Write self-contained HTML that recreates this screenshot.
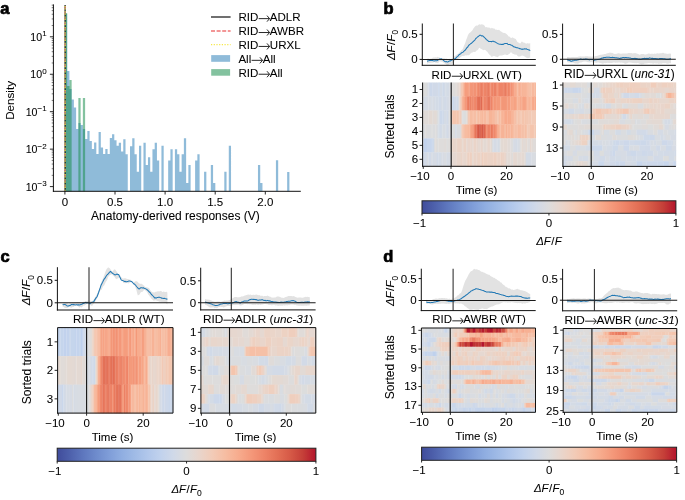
<!DOCTYPE html>
<html><head><meta charset="utf-8"><style>
html,body{margin:0;padding:0;background:#fff;width:685px;height:500px;overflow:hidden}
svg{display:block;filter:blur(0.4px)}
text{font-family:"Liberation Sans", sans-serif;stroke:#000;stroke-width:0.06px}
</style></head><body>
<svg width="685" height="500" viewBox="0 0 685 500" font-family='"Liberation Sans", sans-serif'>
<rect width="685" height="500" fill="#fff"/>
<text x="0.30" y="14.40" font-size="16.5" text-anchor="start" font-weight="bold" font-style="normal" fill="#000" style="stroke:#000;stroke-width:0.7px">a</text>
<text x="383.40" y="14.00" font-size="16.5" text-anchor="start" font-weight="bold" font-style="normal" fill="#000" style="stroke:#000;stroke-width:0.7px">b</text>
<text x="0.40" y="262.30" font-size="16.5" text-anchor="start" font-weight="bold" font-style="normal" fill="#000" style="stroke:#000;stroke-width:0.7px">c</text>
<text x="383.20" y="262.10" font-size="16.5" text-anchor="start" font-weight="bold" font-style="normal" fill="#000" style="stroke:#000;stroke-width:0.7px">d</text>
<path d="M64.90,191.30V14.00H67.15V71.00H69.39V89.00H71.64V99.60H73.88V107.40H76.12V129.00H78.37V123.00H80.62V125.00H82.86V129.00H85.11V139.00H87.35V131.00H89.59V141.00H91.84V149.00H94.09V142.40H96.33V154.00H98.58V132.00H100.82V147.40H103.06V154.00H105.31V149.00H107.56V154.00H109.80V138.00H112.05V134.20H114.29V140.20H116.54V145.80H118.78V142.80H121.03V151.50H123.27V139.20H125.52V154.20H127.76V191.30ZM130.00,191.30V146.20H132.25V138.30H134.50V154.20H136.74V171.70H138.99V145.80H141.23V191.30ZM143.48,191.30V142.80H145.72V165.00H147.97V157.20H150.21V171.70H152.46V149.20H154.70V142.80H156.94V160.50H159.19V191.30ZM161.44,191.30V145.80H163.68V191.30ZM168.17,191.30V160.50H170.42V149.20H172.66V191.30ZM174.91,191.30V149.20H177.15V154.20H179.40V171.70H181.64V154.20H183.88V138.30H186.13V183.00H188.38V165.00H190.62V191.30ZM195.11,191.30V160.50H197.36V154.20H199.60V191.30ZM204.09,191.30V171.70H206.34V191.30ZM210.83,191.30V165.00H213.07V183.00H215.32V191.30ZM224.30,191.30V171.70H226.54V191.30ZM228.79,191.30V145.80H231.03V191.30ZM257.97,191.30V165.00H260.22V183.00H262.46V191.30ZM275.93,191.30V160.20H278.18V191.30ZM287.16,191.30V171.90H289.40V191.30Z" fill="#1f77b4" fill-opacity="0.5"/>
<path d="M64.90,191.30V13.00H67.15V86.00H69.39V80.00H71.64V191.30ZM78.37,191.30V98.00H80.62V191.30ZM82.86,191.30V98.00H85.11V191.30Z" fill="#1e8f50" fill-opacity="0.55"/>
<line x1="65.10" y1="5.00" x2="65.10" y2="191.30" stroke="#222" stroke-width="1.3"/>
<line x1="65.10" y1="5.00" x2="65.10" y2="191.30" stroke="#f08080" stroke-width="1.3" stroke-dasharray="1.3,3.95" stroke-dashoffset="-2.0"/>
<line x1="65.10" y1="5.00" x2="65.10" y2="191.30" stroke="#f0e14a" stroke-width="1.3" stroke-dasharray="1.1,1.3,1.1,1.75" stroke-dashoffset="-0.9"/>
<line x1="53.40" y1="4.40" x2="53.40" y2="191.80" stroke="#111" stroke-width="1.0"/>
<line x1="52.90" y1="191.30" x2="300.80" y2="191.30" stroke="#111" stroke-width="1.0"/>
<line x1="49.90" y1="186.60" x2="53.40" y2="186.60" stroke="#111" stroke-width="0.9"/>
<text x="46.6" y="190.50" font-size="10.6" text-anchor="end">10<tspan dy="-4.3" font-size="8">−3</tspan></text>
<line x1="51.70" y1="175.33" x2="53.40" y2="175.33" stroke="#111" stroke-width="0.55"/>
<line x1="51.70" y1="168.73" x2="53.40" y2="168.73" stroke="#111" stroke-width="0.55"/>
<line x1="51.70" y1="164.05" x2="53.40" y2="164.05" stroke="#111" stroke-width="0.55"/>
<line x1="51.70" y1="160.42" x2="53.40" y2="160.42" stroke="#111" stroke-width="0.55"/>
<line x1="51.70" y1="157.46" x2="53.40" y2="157.46" stroke="#111" stroke-width="0.55"/>
<line x1="51.70" y1="154.95" x2="53.40" y2="154.95" stroke="#111" stroke-width="0.55"/>
<line x1="51.70" y1="152.78" x2="53.40" y2="152.78" stroke="#111" stroke-width="0.55"/>
<line x1="51.70" y1="150.86" x2="53.40" y2="150.86" stroke="#111" stroke-width="0.55"/>
<line x1="49.90" y1="149.15" x2="53.40" y2="149.15" stroke="#111" stroke-width="0.9"/>
<text x="46.6" y="153.05" font-size="10.6" text-anchor="end">10<tspan dy="-4.3" font-size="8">−2</tspan></text>
<line x1="51.70" y1="137.88" x2="53.40" y2="137.88" stroke="#111" stroke-width="0.55"/>
<line x1="51.70" y1="131.28" x2="53.40" y2="131.28" stroke="#111" stroke-width="0.55"/>
<line x1="51.70" y1="126.60" x2="53.40" y2="126.60" stroke="#111" stroke-width="0.55"/>
<line x1="51.70" y1="122.97" x2="53.40" y2="122.97" stroke="#111" stroke-width="0.55"/>
<line x1="51.70" y1="120.01" x2="53.40" y2="120.01" stroke="#111" stroke-width="0.55"/>
<line x1="51.70" y1="117.50" x2="53.40" y2="117.50" stroke="#111" stroke-width="0.55"/>
<line x1="51.70" y1="115.33" x2="53.40" y2="115.33" stroke="#111" stroke-width="0.55"/>
<line x1="51.70" y1="113.41" x2="53.40" y2="113.41" stroke="#111" stroke-width="0.55"/>
<line x1="49.90" y1="111.70" x2="53.40" y2="111.70" stroke="#111" stroke-width="0.9"/>
<text x="46.6" y="115.60" font-size="10.6" text-anchor="end">10<tspan dy="-4.3" font-size="8">−1</tspan></text>
<line x1="51.70" y1="100.43" x2="53.40" y2="100.43" stroke="#111" stroke-width="0.55"/>
<line x1="51.70" y1="93.83" x2="53.40" y2="93.83" stroke="#111" stroke-width="0.55"/>
<line x1="51.70" y1="89.15" x2="53.40" y2="89.15" stroke="#111" stroke-width="0.55"/>
<line x1="51.70" y1="85.52" x2="53.40" y2="85.52" stroke="#111" stroke-width="0.55"/>
<line x1="51.70" y1="82.56" x2="53.40" y2="82.56" stroke="#111" stroke-width="0.55"/>
<line x1="51.70" y1="80.05" x2="53.40" y2="80.05" stroke="#111" stroke-width="0.55"/>
<line x1="51.70" y1="77.88" x2="53.40" y2="77.88" stroke="#111" stroke-width="0.55"/>
<line x1="51.70" y1="75.96" x2="53.40" y2="75.96" stroke="#111" stroke-width="0.55"/>
<line x1="49.90" y1="74.25" x2="53.40" y2="74.25" stroke="#111" stroke-width="0.9"/>
<text x="46.6" y="78.15" font-size="10.6" text-anchor="end">10<tspan dy="-4.3" font-size="8">0</tspan></text>
<line x1="51.70" y1="62.98" x2="53.40" y2="62.98" stroke="#111" stroke-width="0.55"/>
<line x1="51.70" y1="56.38" x2="53.40" y2="56.38" stroke="#111" stroke-width="0.55"/>
<line x1="51.70" y1="51.70" x2="53.40" y2="51.70" stroke="#111" stroke-width="0.55"/>
<line x1="51.70" y1="48.07" x2="53.40" y2="48.07" stroke="#111" stroke-width="0.55"/>
<line x1="51.70" y1="45.11" x2="53.40" y2="45.11" stroke="#111" stroke-width="0.55"/>
<line x1="51.70" y1="42.60" x2="53.40" y2="42.60" stroke="#111" stroke-width="0.55"/>
<line x1="51.70" y1="40.43" x2="53.40" y2="40.43" stroke="#111" stroke-width="0.55"/>
<line x1="51.70" y1="38.51" x2="53.40" y2="38.51" stroke="#111" stroke-width="0.55"/>
<line x1="49.90" y1="36.80" x2="53.40" y2="36.80" stroke="#111" stroke-width="0.9"/>
<text x="46.6" y="40.70" font-size="10.6" text-anchor="end">10<tspan dy="-4.3" font-size="8">1</tspan></text>
<line x1="51.70" y1="25.53" x2="53.40" y2="25.53" stroke="#111" stroke-width="0.55"/>
<line x1="51.70" y1="18.93" x2="53.40" y2="18.93" stroke="#111" stroke-width="0.55"/>
<line x1="51.70" y1="14.25" x2="53.40" y2="14.25" stroke="#111" stroke-width="0.55"/>
<line x1="51.70" y1="10.62" x2="53.40" y2="10.62" stroke="#111" stroke-width="0.55"/>
<line x1="51.70" y1="7.66" x2="53.40" y2="7.66" stroke="#111" stroke-width="0.55"/>
<line x1="51.70" y1="5.15" x2="53.40" y2="5.15" stroke="#111" stroke-width="0.55"/>
<line x1="64.90" y1="191.30" x2="64.90" y2="194.50" stroke="#111" stroke-width="0.9"/>
<text x="64.90" y="205.60" font-size="11.5" text-anchor="middle" font-weight="normal" font-style="normal" fill="#000">0</text>
<line x1="115.00" y1="191.30" x2="115.00" y2="194.50" stroke="#111" stroke-width="0.9"/>
<text x="115.00" y="205.60" font-size="11.5" text-anchor="middle" font-weight="normal" font-style="normal" fill="#000">0.5</text>
<line x1="165.10" y1="191.30" x2="165.10" y2="194.50" stroke="#111" stroke-width="0.9"/>
<text x="165.10" y="205.60" font-size="11.5" text-anchor="middle" font-weight="normal" font-style="normal" fill="#000">1.0</text>
<line x1="215.20" y1="191.30" x2="215.20" y2="194.50" stroke="#111" stroke-width="0.9"/>
<text x="215.20" y="205.60" font-size="11.5" text-anchor="middle" font-weight="normal" font-style="normal" fill="#000">1.5</text>
<line x1="265.30" y1="191.30" x2="265.30" y2="194.50" stroke="#111" stroke-width="0.9"/>
<text x="265.30" y="205.60" font-size="11.5" text-anchor="middle" font-weight="normal" font-style="normal" fill="#000">2.0</text>
<text x="175.45" y="219.90" font-size="12.0" text-anchor="middle" font-weight="normal" font-style="normal" fill="#000">Anatomy-derived responses (V)</text>
<text x="13.90" y="100.40" font-size="11.65" text-anchor="middle" font-weight="normal" font-style="normal" fill="#000" transform="rotate(-90 13.9 100.4)">Density</text>
<line x1="211.00" y1="17.00" x2="230.60" y2="17.00" stroke="#333" stroke-width="1.4"/>
<line x1="211.00" y1="31.00" x2="230.60" y2="31.00" stroke="#f07474" stroke-width="1.4" stroke-dasharray="4,1.6"/>
<line x1="211.00" y1="44.60" x2="230.60" y2="44.60" stroke="#f6e84a" stroke-width="1.3" stroke-dasharray="1.2,1.5"/>
<rect x="211.2" y="55.10" width="18.9" height="6.70" fill="#1f77b4" fill-opacity="0.5"/>
<rect x="211.2" y="69.10" width="18.9" height="6.60" fill="#1e8f50" fill-opacity="0.55"/>
<text x="238.40" y="21.00" font-size="11.55">RID<tspan dx="11.55">ADLR</tspan></text>
<path d="M258.64,18.63H269.54M267.00,15.63L269.54,18.63L267.00,21.64" fill="none" stroke="#000" stroke-width="0.85" stroke-linejoin="miter"/>
<text x="238.40" y="34.90" font-size="11.55">RID<tspan dx="11.55">AWBR</tspan></text>
<path d="M258.64,32.53H269.54M267.00,29.53L269.54,32.53L267.00,35.54" fill="none" stroke="#000" stroke-width="0.85" stroke-linejoin="miter"/>
<text x="238.40" y="48.80" font-size="11.55">RID<tspan dx="11.55">URXL</tspan></text>
<path d="M258.64,46.43H269.54M267.00,43.43L269.54,46.43L267.00,49.44" fill="none" stroke="#000" stroke-width="0.85" stroke-linejoin="miter"/>
<text x="238.40" y="62.70" font-size="11.55">All<tspan dx="11.55">All</tspan></text>
<path d="M251.59,60.33H262.49M259.94,57.33L262.49,60.33L259.94,63.34" fill="none" stroke="#000" stroke-width="0.85" stroke-linejoin="miter"/>
<text x="238.40" y="76.60" font-size="11.55">RID<tspan dx="11.55">All</tspan></text>
<path d="M258.64,74.23H269.54M267.00,71.23L269.54,74.23L267.00,77.24" fill="none" stroke="#000" stroke-width="0.85" stroke-linejoin="miter"/>
<polygon points="427.0,59.0 427.8,58.4 428.6,58.6 429.4,59.1 430.2,58.7 431.0,58.4 431.8,58.6 432.6,57.7 433.4,57.5 434.2,57.4 435.0,57.5 435.8,57.3 436.6,57.4 437.4,56.7 438.2,57.3 439.0,57.3 439.8,57.8 440.6,58.2 441.4,58.5 442.2,58.3 443.0,58.3 443.8,58.2 444.6,58.3 445.4,58.7 446.2,58.5 447.0,58.7 447.8,59.4 448.6,59.2 449.4,58.7 450.2,59.1 451.0,59.6 451.8,58.4 452.6,58.1 453.4,57.7 454.2,56.6 455.0,55.7 455.8,55.4 456.6,54.8 457.4,54.0 458.2,54.0 459.0,52.9 459.8,52.2 460.6,51.1 461.4,50.3 462.2,49.8 463.0,48.4 463.8,46.3 464.6,44.5 465.4,42.5 466.2,39.7 467.0,37.9 467.8,35.5 468.6,33.9 469.4,33.1 470.2,32.6 471.0,31.7 471.8,30.9 472.6,29.9 473.4,28.5 474.2,27.4 475.0,26.6 475.8,25.7 476.6,25.6 477.4,25.7 478.2,25.1 479.0,24.6 479.8,24.3 480.6,24.7 481.4,24.2 482.2,24.4 483.0,24.4 483.8,25.0 484.6,25.7 485.4,27.2 486.2,27.2 487.0,27.1 487.8,27.7 488.6,27.4 489.4,27.4 490.2,28.2 491.0,28.4 491.8,27.7 492.6,28.3 493.4,28.5 494.2,28.4 495.0,29.1 495.8,29.9 496.6,29.6 497.4,29.9 498.2,30.0 499.0,29.8 499.8,30.5 500.6,31.3 501.4,31.8 502.2,32.1 503.0,32.9 503.8,32.8 504.6,32.9 505.4,33.3 506.2,33.7 507.0,34.4 507.8,35.3 508.6,36.6 509.4,36.5 510.2,37.4 511.0,37.7 511.8,37.9 512.6,37.3 513.4,37.9 514.2,38.3 515.0,38.7 515.8,39.1 516.6,40.4 517.4,41.9 518.2,42.6 519.0,42.8 519.8,43.5 520.6,43.2 521.4,41.7 522.2,41.4 523.0,42.4 523.8,42.6 524.6,42.7 525.4,43.3 526.2,43.7 527.0,43.3 527.8,43.2 528.6,43.4 529.4,43.6 530.2,43.1 530.2,57.6 529.4,57.8 528.6,58.0 527.8,58.3 527.0,57.7 526.2,57.8 525.4,57.0 524.6,56.4 523.8,55.9 523.0,55.8 522.2,55.4 521.4,55.7 520.6,56.3 519.8,56.4 519.0,56.4 518.2,56.4 517.4,55.7 516.6,54.7 515.8,54.5 515.0,54.7 514.2,54.2 513.4,53.9 512.6,53.8 511.8,52.8 511.0,52.3 510.2,52.7 509.4,54.0 508.6,54.2 507.8,54.9 507.0,55.1 506.2,55.1 505.4,54.5 504.6,54.6 503.8,54.9 503.0,55.0 502.2,55.4 501.4,55.6 500.6,55.5 499.8,55.5 499.0,56.1 498.2,56.8 497.4,57.2 496.6,56.8 495.8,56.7 495.0,56.2 494.2,56.1 493.4,56.1 492.6,56.4 491.8,56.7 491.0,56.6 490.2,55.1 489.4,54.8 488.6,53.8 487.8,52.4 487.0,51.6 486.2,51.0 485.4,50.0 484.6,49.7 483.8,50.3 483.0,49.9 482.2,49.4 481.4,49.0 480.6,48.7 479.8,47.8 479.0,48.1 478.2,49.5 477.4,50.3 476.6,50.5 475.8,51.6 475.0,51.9 474.2,51.9 473.4,51.7 472.6,52.4 471.8,52.6 471.0,53.2 470.2,53.7 469.4,54.9 468.6,55.3 467.8,55.3 467.0,55.3 466.2,55.4 465.4,55.3 464.6,55.8 463.8,56.0 463.0,55.9 462.2,56.1 461.4,56.6 460.6,57.0 459.8,57.7 459.0,58.3 458.2,58.7 457.4,59.0 456.6,59.1 455.8,59.7 455.0,60.6 454.2,61.4 453.4,62.9 452.6,63.4 451.8,64.0 451.0,63.7 450.2,64.2 449.4,63.9 448.6,64.9 447.8,65.5 447.0,65.3 446.2,64.5 445.4,63.8 444.6,63.4 443.8,62.7 443.0,62.6 442.2,61.5 441.4,61.7 440.6,61.6 439.8,61.3 439.0,61.8 438.2,63.3 437.4,62.9 436.6,62.7 435.8,63.0 435.0,62.2 434.2,62.1 433.4,62.5 432.6,62.7 431.8,62.4 431.0,62.9 430.2,62.8 429.4,63.2 428.6,63.1 427.8,63.5 427.0,63.4" fill="#e2e2e2" stroke="none"/>
<polyline points="427.0,61.2 427.8,60.9 428.6,60.8 429.4,60.5 430.2,60.3 431.0,60.6 431.8,60.5 432.6,60.4 433.4,60.7 434.2,60.9 435.0,60.8 435.8,60.8 436.6,60.8 437.4,60.5 438.2,59.9 439.0,59.5 439.8,59.0 440.6,58.9 441.4,58.8 442.2,59.5 443.0,59.8 443.8,60.7 444.6,61.4 445.4,61.8 446.2,61.5 447.0,61.9 447.8,61.9 448.6,61.6 449.4,60.9 450.2,61.0 451.0,60.5 451.8,59.9 452.6,59.7 453.4,59.5 454.2,59.2 455.0,58.8 455.8,58.1 456.6,57.1 457.4,56.6 458.2,55.9 459.0,54.8 459.8,54.3 460.6,53.9 461.4,52.9 462.2,52.5 463.0,52.1 463.8,51.3 464.6,50.5 465.4,50.0 466.2,48.7 467.0,47.7 467.8,47.0 468.6,45.6 469.4,44.6 470.2,44.1 471.0,43.5 471.8,43.0 472.6,42.2 473.4,41.4 474.2,40.6 475.0,39.8 475.8,38.5 476.6,37.8 477.4,37.0 478.2,36.5 479.0,35.9 479.8,35.2 480.6,35.2 481.4,35.9 482.2,35.8 483.0,36.0 483.8,36.8 484.6,37.7 485.4,38.3 486.2,39.3 487.0,40.0 487.8,40.6 488.6,41.4 489.4,41.6 490.2,41.5 491.0,41.6 491.8,41.6 492.6,41.2 493.4,41.3 494.2,41.7 495.0,41.8 495.8,42.4 496.6,42.8 497.4,43.4 498.2,43.8 499.0,44.1 499.8,44.2 500.6,44.2 501.4,44.5 502.2,44.2 503.0,44.5 503.8,44.0 504.6,43.6 505.4,43.4 506.2,43.5 507.0,43.4 507.8,44.2 508.6,44.5 509.4,44.4 510.2,44.6 511.0,45.2 511.8,45.2 512.6,45.8 513.4,46.5 514.2,47.0 515.0,47.1 515.8,47.4 516.6,47.8 517.4,47.8 518.2,48.1 519.0,48.3 519.8,48.7 520.6,48.8 521.4,49.2 522.2,49.1 523.0,49.4 523.8,48.9 524.6,48.8 525.4,49.0 526.2,48.8 527.0,49.2 527.8,49.4 528.6,49.9 529.4,50.0 530.2,50.6" fill="none" stroke="#1f77b4" stroke-width="1.05" stroke-linejoin="round"/>
<line x1="422.30" y1="59.40" x2="535.80" y2="59.40" stroke="#1a1a1a" stroke-width="1.05"/>
<line x1="453.40" y1="23.50" x2="453.40" y2="65.30" stroke="#2a2a2a" stroke-width="1.05"/>
<line x1="422.30" y1="23.50" x2="422.30" y2="65.80" stroke="#111" stroke-width="1.0"/>
<line x1="421.80" y1="65.30" x2="535.80" y2="65.30" stroke="#111" stroke-width="1.0"/>
<line x1="419.60" y1="59.40" x2="422.30" y2="59.40" stroke="#111" stroke-width="1.0"/>
<text x="417.70" y="63.30" font-size="11.5" text-anchor="end" font-weight="normal" font-style="normal" fill="#000">0</text>
<line x1="419.60" y1="34.30" x2="422.30" y2="34.30" stroke="#111" stroke-width="1.0"/>
<text x="417.70" y="38.20" font-size="11.5" text-anchor="end" font-weight="normal" font-style="normal" fill="#000">0.5</text>
<text x="431.60" y="78.60" font-size="11.5">RID<tspan dx="11.50">URXL (WT)</tspan></text>
<path d="M451.75,76.24H462.60M460.07,73.25L462.60,76.24L460.07,79.23" fill="none" stroke="#000" stroke-width="0.85" stroke-linejoin="miter"/>
<text x="394.60" y="45.00" font-size="11.4" text-anchor="middle" transform="rotate(-90 394.60 45.00)"><tspan font-style="italic">ΔF</tspan><tspan dx="0.5">/</tspan><tspan font-style="italic" dx="0.3">F</tspan><tspan font-size="8.2" dy="3.6">0</tspan></text>
<polygon points="567.0,56.9 567.8,57.0 568.6,57.0 569.4,57.2 570.2,57.2 571.0,57.3 571.8,57.1 572.6,57.1 573.4,57.0 574.2,57.1 575.0,57.3 575.8,57.1 576.6,57.1 577.4,56.9 578.2,56.7 579.0,56.6 579.8,56.4 580.6,56.3 581.4,56.5 582.2,56.5 583.0,56.4 583.8,56.6 584.6,56.4 585.4,56.3 586.2,56.2 587.0,56.3 587.8,56.2 588.6,56.4 589.4,56.5 590.2,56.6 591.0,56.5 591.8,56.8 592.6,56.5 593.4,56.5 594.2,56.4 595.0,56.3 595.8,56.0 596.6,56.0 597.4,55.7 598.2,55.5 599.0,55.3 599.8,55.1 600.6,54.7 601.4,54.7 602.2,54.5 603.0,54.4 603.8,54.2 604.6,54.1 605.4,54.1 606.2,53.8 607.0,53.2 607.8,53.2 608.6,53.1 609.4,52.7 610.2,52.5 611.0,53.0 611.8,52.8 612.6,53.1 613.4,53.6 614.2,54.0 615.0,53.8 615.8,53.9 616.6,53.7 617.4,53.4 618.2,53.2 619.0,53.3 619.8,53.4 620.6,53.7 621.4,53.7 622.2,53.5 623.0,53.5 623.8,53.6 624.6,53.5 625.4,53.6 626.2,53.5 627.0,53.4 627.8,53.3 628.6,52.9 629.4,53.0 630.2,53.1 631.0,53.2 631.8,53.1 632.6,53.4 633.4,53.3 634.2,53.2 635.0,52.9 635.8,53.2 636.6,53.6 637.4,53.8 638.2,54.0 639.0,54.5 639.8,54.8 640.6,54.2 641.4,54.0 642.2,54.0 643.0,54.0 643.8,54.0 644.6,54.5 645.4,54.5 646.2,54.3 647.0,54.2 647.8,53.7 648.6,53.5 649.4,53.6 650.2,53.9 651.0,53.7 651.8,53.8 652.6,53.8 653.4,53.9 654.2,53.6 655.0,53.8 655.8,53.7 656.6,53.6 657.4,53.3 658.2,53.5 659.0,53.4 659.8,53.3 660.6,53.2 661.4,53.3 662.2,53.1 663.0,52.7 663.8,53.1 664.6,53.4 665.4,53.4 666.2,53.5 667.0,53.9 667.8,53.7 668.6,53.8 669.4,53.6 670.2,53.7 671.0,53.6 671.0,63.4 670.2,63.1 669.4,63.3 668.6,63.5 667.8,63.7 667.0,63.5 666.2,63.6 665.4,63.1 664.6,63.2 663.8,63.1 663.0,63.2 662.2,63.2 661.4,63.7 660.6,63.5 659.8,63.6 659.0,63.7 658.2,63.8 657.4,63.3 656.6,63.4 655.8,63.4 655.0,63.3 654.2,63.3 653.4,63.8 652.6,63.6 651.8,63.3 651.0,63.3 650.2,63.3 649.4,62.9 648.6,63.0 647.8,63.2 647.0,63.2 646.2,63.5 645.4,63.4 644.6,63.6 643.8,63.9 643.0,64.2 642.2,64.3 641.4,64.5 640.6,64.1 639.8,63.8 639.0,63.4 638.2,63.1 637.4,63.0 636.6,63.2 635.8,63.3 635.0,63.1 634.2,63.2 633.4,62.9 632.6,62.9 631.8,62.7 631.0,62.7 630.2,62.5 629.4,62.5 628.6,62.5 627.8,62.9 627.0,63.2 626.2,63.4 625.4,63.8 624.6,63.4 623.8,63.1 623.0,62.8 622.2,62.7 621.4,62.4 620.6,62.8 619.8,62.5 619.0,62.5 618.2,62.6 617.4,62.8 616.6,62.6 615.8,62.9 615.0,62.6 614.2,62.6 613.4,62.6 612.6,62.8 611.8,63.0 611.0,63.1 610.2,63.1 609.4,63.1 608.6,63.1 607.8,62.8 607.0,62.9 606.2,63.1 605.4,63.2 604.6,63.0 603.8,63.3 603.0,63.8 602.2,63.4 601.4,63.2 600.6,63.0 599.8,63.0 599.0,62.5 598.2,62.5 597.4,62.5 596.6,62.7 595.8,62.7 595.0,62.5 594.2,62.4 593.4,62.3 592.6,62.4 591.8,62.1 591.0,62.3 590.2,62.3 589.4,62.4 588.6,62.2 587.8,62.3 587.0,61.9 586.2,61.6 585.4,61.4 584.6,61.6 583.8,61.6 583.0,61.7 582.2,62.1 581.4,62.5 580.6,62.6 579.8,62.6 579.0,63.2 578.2,63.6 577.4,63.7 576.6,63.6 575.8,63.6 575.0,63.5 574.2,63.0 573.4,62.8 572.6,62.6 571.8,62.7 571.0,62.6 570.2,62.5 569.4,62.4 568.6,62.4 567.8,62.3 567.0,62.1" fill="#e2e2e2" stroke="none"/>
<polyline points="567.0,59.8 567.8,59.9 568.6,60.2 569.4,60.5 570.2,60.8 571.0,61.3 571.8,61.3 572.6,60.8 573.4,60.7 574.2,60.4 575.0,60.0 575.8,60.2 576.6,60.2 577.4,59.9 578.2,59.6 579.0,59.6 579.8,59.4 580.6,59.0 581.4,59.2 582.2,59.4 583.0,59.4 583.8,59.2 584.6,59.4 585.4,59.0 586.2,59.2 587.0,59.1 587.8,59.5 588.6,59.6 589.4,59.9 590.2,59.4 591.0,59.5 591.8,59.5 592.6,59.5 593.4,59.8 594.2,60.1 595.0,60.1 595.8,59.8 596.6,59.8 597.4,59.6 598.2,59.4 599.0,59.3 599.8,59.2 600.6,58.8 601.4,58.3 602.2,58.0 603.0,58.0 603.8,57.5 604.6,57.5 605.4,57.5 606.2,57.3 607.0,57.2 607.8,57.2 608.6,57.3 609.4,57.2 610.2,57.5 611.0,57.4 611.8,57.4 612.6,57.3 613.4,57.4 614.2,57.5 615.0,57.7 615.8,57.7 616.6,57.8 617.4,58.0 618.2,58.1 619.0,58.2 619.8,58.4 620.6,58.1 621.4,58.1 622.2,57.7 623.0,57.5 623.8,57.5 624.6,57.8 625.4,57.5 626.2,57.6 627.0,57.8 627.8,57.7 628.6,57.7 629.4,57.9 630.2,58.0 631.0,58.3 631.8,58.4 632.6,58.5 633.4,58.5 634.2,58.5 635.0,58.3 635.8,58.7 636.6,58.6 637.4,58.7 638.2,58.9 639.0,59.2 639.8,58.9 640.6,59.2 641.4,59.0 642.2,58.8 643.0,58.6 643.8,58.4 644.6,58.2 645.4,58.4 646.2,58.4 647.0,58.3 647.8,58.4 648.6,58.4 649.4,57.9 650.2,58.1 651.0,58.2 651.8,58.5 652.6,58.2 653.4,58.6 654.2,58.4 655.0,58.4 655.8,58.5 656.6,58.8 657.4,58.8 658.2,58.9 659.0,58.8 659.8,58.5 660.6,58.4 661.4,58.5 662.2,58.6 663.0,58.7 663.8,58.7 664.6,58.7 665.4,58.9 666.2,59.2 667.0,59.3 667.8,59.2 668.6,59.2 669.4,58.9 670.2,58.7 671.0,58.7" fill="none" stroke="#1f77b4" stroke-width="1.05" stroke-linejoin="round"/>
<line x1="562.60" y1="59.30" x2="675.80" y2="59.30" stroke="#1a1a1a" stroke-width="1.05"/>
<line x1="593.50" y1="23.60" x2="593.50" y2="65.30" stroke="#2a2a2a" stroke-width="1.05"/>
<line x1="562.60" y1="23.60" x2="562.60" y2="65.80" stroke="#111" stroke-width="1.0"/>
<line x1="562.10" y1="65.30" x2="675.80" y2="65.30" stroke="#111" stroke-width="1.0"/>
<line x1="559.90" y1="59.30" x2="562.60" y2="59.30" stroke="#111" stroke-width="1.0"/>
<text x="558.00" y="63.20" font-size="11.5" text-anchor="end" font-weight="normal" font-style="normal" fill="#000">0</text>
<line x1="559.90" y1="34.40" x2="562.60" y2="34.40" stroke="#111" stroke-width="1.0"/>
<text x="558.00" y="38.30" font-size="11.5" text-anchor="end" font-weight="normal" font-style="normal" fill="#000">0.5</text>
<text x="563.90" y="77.80" font-size="11.85">RID<tspan dx="11.85">URXL (<tspan font-style="italic">unc-31</tspan>)</tspan></text>
<path d="M584.66,75.37H595.86M593.25,72.29L595.86,75.37L593.25,78.45" fill="none" stroke="#000" stroke-width="0.85" stroke-linejoin="miter"/>
<polygon points="62.6,303.4 63.4,303.3 64.2,302.6 65.0,302.7 65.8,303.0 66.6,302.9 67.4,303.1 68.2,304.1 69.0,303.7 69.8,303.3 70.6,303.2 71.4,303.4 72.2,302.6 73.0,303.0 73.8,302.9 74.6,302.6 75.4,302.5 76.2,302.8 77.0,301.9 77.8,301.9 78.6,302.5 79.4,302.4 80.2,302.2 81.0,302.6 81.8,302.8 82.6,302.2 83.4,301.8 84.2,301.8 85.0,301.4 85.8,300.9 86.6,301.0 87.4,300.8 88.2,300.5 89.0,300.4 89.8,300.8 90.6,300.8 91.4,301.0 92.2,301.2 93.0,300.4 93.8,299.6 94.6,298.2 95.4,297.1 96.2,295.4 97.0,294.2 97.8,292.4 98.6,290.5 99.4,288.0 100.2,286.0 101.0,283.4 101.8,280.9 102.6,279.2 103.4,277.5 104.2,275.3 105.0,272.9 105.8,270.8 106.6,268.9 107.4,268.2 108.2,267.2 109.0,268.1 109.8,268.3 110.6,269.4 111.4,270.7 112.2,272.1 113.0,271.0 113.8,269.8 114.6,269.2 115.4,269.7 116.2,271.1 117.0,272.1 117.8,273.6 118.6,274.3 119.4,274.7 120.2,275.4 121.0,277.0 121.8,277.7 122.6,278.4 123.4,278.6 124.2,278.5 125.0,278.0 125.8,278.6 126.6,278.7 127.4,279.1 128.2,278.9 129.0,279.5 129.8,279.4 130.6,279.7 131.4,280.4 132.2,281.1 133.0,281.8 133.8,282.1 134.6,282.0 135.4,281.2 136.2,281.3 137.0,281.3 137.8,282.0 138.6,283.1 139.4,283.6 140.2,283.9 141.0,283.6 141.8,284.1 142.6,284.4 143.4,285.2 144.2,285.7 145.0,287.0 145.8,287.0 146.6,287.2 147.4,287.6 148.2,287.7 149.0,288.0 149.8,289.6 150.6,290.5 151.4,291.4 152.2,291.9 153.0,292.5 153.8,292.2 154.6,292.6 155.4,291.8 156.2,292.0 157.0,291.2 157.8,291.4 158.6,291.2 159.4,291.4 160.2,290.8 161.0,291.2 161.8,291.2 162.6,292.2 163.4,291.6 164.2,291.8 165.0,291.9 165.8,292.0 166.6,291.7 167.4,292.5 167.4,304.5 166.6,303.7 165.8,302.8 165.0,302.5 164.2,302.6 163.4,301.9 162.6,301.9 161.8,302.1 161.0,301.7 160.2,301.8 159.4,301.7 158.6,301.3 157.8,300.9 157.0,300.8 156.2,300.4 155.4,300.3 154.6,300.5 153.8,300.7 153.0,300.3 152.2,299.2 151.4,298.7 150.6,297.6 149.8,296.6 149.0,295.3 148.2,294.6 147.4,292.6 146.6,291.5 145.8,290.7 145.0,290.2 144.2,289.8 143.4,290.7 142.6,291.7 141.8,292.0 141.0,292.0 140.2,293.2 139.4,294.7 138.6,295.0 137.8,295.5 137.0,292.5 136.2,289.6 135.4,287.2 134.6,285.8 133.8,284.9 133.0,282.9 132.2,281.3 131.4,281.7 130.6,282.2 129.8,282.6 129.0,283.2 128.2,283.4 127.4,282.9 126.6,283.1 125.8,283.3 125.0,283.0 124.2,283.3 123.4,283.1 122.6,281.6 121.8,279.8 121.0,278.7 120.2,277.2 119.4,277.0 118.6,278.0 117.8,278.6 117.0,278.8 116.2,279.3 115.4,278.3 114.6,276.9 113.8,275.9 113.0,275.5 112.2,274.4 111.4,274.3 110.6,274.8 109.8,275.3 109.0,275.7 108.2,277.0 107.4,279.2 106.6,280.9 105.8,281.8 105.0,283.8 104.2,285.6 103.4,285.9 102.6,287.3 101.8,289.4 101.0,289.9 100.2,290.5 99.4,292.2 98.6,293.9 97.8,295.6 97.0,297.9 96.2,299.7 95.4,301.3 94.6,302.1 93.8,303.5 93.0,304.5 92.2,306.1 91.4,305.8 90.6,305.3 89.8,304.2 89.0,304.5 88.2,303.8 87.4,303.9 86.6,304.1 85.8,304.8 85.0,304.9 84.2,305.8 83.4,305.6 82.6,306.4 81.8,307.4 81.0,307.3 80.2,307.0 79.4,307.7 78.6,306.7 77.8,306.0 77.0,305.4 76.2,305.4 75.4,305.1 74.6,306.1 73.8,306.7 73.0,307.1 72.2,307.2 71.4,307.7 70.6,307.4 69.8,306.9 69.0,306.8 68.2,307.4 67.4,307.9 66.6,308.0 65.8,307.9 65.0,308.1 64.2,307.5 63.4,306.8 62.6,306.7" fill="#e2e2e2" stroke="none"/>
<polyline points="62.6,304.6 63.4,304.7 64.2,304.6 65.0,304.5 65.8,304.9 66.6,305.6 67.4,306.0 68.2,306.1 69.0,305.8 69.8,305.5 70.6,305.2 71.4,304.5 72.2,304.6 73.0,304.7 73.8,304.4 74.6,304.7 75.4,304.9 76.2,304.8 77.0,304.8 77.8,305.1 78.6,304.8 79.4,304.9 80.2,304.7 81.0,304.5 81.8,304.3 82.6,303.8 83.4,303.4 84.2,303.1 85.0,302.9 85.8,302.4 86.6,302.9 87.4,302.8 88.2,302.8 89.0,303.0 89.8,303.8 90.6,303.2 91.4,302.6 92.2,302.3 93.0,302.1 93.8,301.7 94.6,300.1 95.4,298.9 96.2,297.6 97.0,296.9 97.8,294.7 98.6,292.5 99.4,290.1 100.2,287.9 101.0,285.3 101.8,283.8 102.6,282.3 103.4,280.6 104.2,279.1 105.0,278.2 105.8,276.8 106.6,275.5 107.4,274.5 108.2,273.8 109.0,272.9 109.8,272.0 110.6,271.4 111.4,272.3 112.2,273.0 113.0,273.6 113.8,274.2 114.6,274.8 115.4,274.9 116.2,274.4 117.0,274.1 117.8,274.4 118.6,274.4 119.4,276.2 120.2,277.8 121.0,279.6 121.8,280.3 122.6,280.4 123.4,280.9 124.2,281.4 125.0,281.3 125.8,281.7 126.6,281.8 127.4,281.5 128.2,281.3 129.0,281.0 129.8,281.0 130.6,281.3 131.4,281.4 132.2,282.1 133.0,283.0 133.8,283.8 134.6,284.2 135.4,285.0 136.2,286.0 137.0,287.0 137.8,287.9 138.6,288.8 139.4,288.9 140.2,288.1 141.0,287.8 141.8,287.7 142.6,288.0 143.4,287.8 144.2,288.3 145.0,288.6 145.8,288.8 146.6,289.4 147.4,290.0 148.2,290.7 149.0,291.8 149.8,292.3 150.6,293.2 151.4,294.5 152.2,295.2 153.0,296.0 153.8,296.9 154.6,297.9 155.4,297.8 156.2,298.1 157.0,297.6 157.8,297.5 158.6,297.3 159.4,297.3 160.2,297.6 161.0,297.7 161.8,298.2 162.6,298.3 163.4,298.5 164.2,298.3 165.0,298.6 165.8,298.8 166.6,299.1 167.4,299.1" fill="none" stroke="#1f77b4" stroke-width="1.05" stroke-linejoin="round"/>
<line x1="57.40" y1="302.80" x2="173.00" y2="302.80" stroke="#1a1a1a" stroke-width="1.05"/>
<line x1="89.00" y1="267.20" x2="89.00" y2="310.00" stroke="#2a2a2a" stroke-width="1.05"/>
<line x1="57.40" y1="267.20" x2="57.40" y2="310.50" stroke="#111" stroke-width="1.0"/>
<line x1="56.90" y1="310.00" x2="173.00" y2="310.00" stroke="#111" stroke-width="1.0"/>
<line x1="54.70" y1="302.80" x2="57.40" y2="302.80" stroke="#111" stroke-width="1.0"/>
<text x="52.80" y="306.70" font-size="11.5" text-anchor="end" font-weight="normal" font-style="normal" fill="#000">0</text>
<line x1="54.70" y1="280.30" x2="57.40" y2="280.30" stroke="#111" stroke-width="1.0"/>
<text x="52.80" y="284.20" font-size="11.5" text-anchor="end" font-weight="normal" font-style="normal" fill="#000">0.5</text>
<text x="73.10" y="323.00" font-size="11.6">RID<tspan dx="11.60">ADLR (WT)</tspan></text>
<path d="M93.43,320.62H104.38M101.83,317.61L104.38,320.62L101.83,323.64" fill="none" stroke="#000" stroke-width="0.85" stroke-linejoin="miter"/>
<text x="30.20" y="290.30" font-size="11.4" text-anchor="middle" transform="rotate(-90 30.20 290.30)"><tspan font-style="italic">ΔF</tspan><tspan dx="0.5">/</tspan><tspan font-style="italic" dx="0.3">F</tspan><tspan font-size="8.2" dy="3.6">0</tspan></text>
<polygon points="205.0,299.0 205.8,299.2 206.6,299.5 207.4,299.6 208.2,299.7 209.0,299.6 209.8,300.0 210.6,300.3 211.4,300.5 212.2,301.1 213.0,301.2 213.8,301.5 214.6,301.7 215.4,301.8 216.2,301.7 217.0,301.6 217.8,301.4 218.6,301.5 219.4,301.5 220.2,301.7 221.0,301.9 221.8,301.6 222.6,301.3 223.4,300.9 224.2,300.6 225.0,300.5 225.8,300.7 226.6,300.5 227.4,300.6 228.2,300.4 229.0,300.1 229.8,299.9 230.6,299.5 231.4,298.9 232.2,298.5 233.0,298.2 233.8,297.6 234.6,297.1 235.4,296.9 236.2,296.9 237.0,296.9 237.8,297.4 238.6,297.2 239.4,297.2 240.2,297.1 241.0,296.8 241.8,296.2 242.6,296.5 243.4,296.3 244.2,295.8 245.0,295.4 245.8,295.3 246.6,295.0 247.4,294.7 248.2,294.6 249.0,294.8 249.8,294.7 250.6,294.5 251.4,294.9 252.2,295.1 253.0,294.8 253.8,294.7 254.6,294.9 255.4,294.7 256.2,294.4 257.0,294.7 257.8,294.9 258.6,295.2 259.4,295.0 260.2,295.8 261.0,295.8 261.8,295.8 262.6,295.8 263.4,296.4 264.2,296.1 265.0,296.1 265.8,296.1 266.6,295.9 267.4,295.4 268.2,295.9 269.0,296.3 269.8,296.7 270.6,296.8 271.4,297.6 272.2,297.5 273.0,297.8 273.8,297.6 274.6,297.6 275.4,297.4 276.2,296.9 277.0,296.4 277.8,296.5 278.6,296.6 279.4,296.7 280.2,297.0 281.0,297.6 281.8,297.7 282.6,297.7 283.4,297.9 284.2,297.7 285.0,297.3 285.8,297.1 286.6,296.8 287.4,296.4 288.2,296.1 289.0,296.1 289.8,296.0 290.6,295.9 291.4,296.1 292.2,296.3 293.0,296.3 293.8,296.0 294.6,296.5 295.4,297.0 296.2,297.3 297.0,297.4 297.8,297.8 298.6,297.6 299.4,297.4 300.2,297.4 301.0,297.6 301.8,297.7 302.6,297.7 303.4,297.5 304.2,297.2 305.0,297.1 305.8,296.8 306.6,296.9 307.4,296.8 308.2,297.1 309.0,297.1 309.8,297.3 309.8,305.2 309.0,305.6 308.2,305.5 307.4,305.5 306.6,305.7 305.8,305.7 305.0,305.5 304.2,305.8 303.4,305.8 302.6,305.7 301.8,305.7 301.0,305.8 300.2,305.6 299.4,305.8 298.6,305.7 297.8,305.4 297.0,305.4 296.2,305.3 295.4,304.8 294.6,305.0 293.8,304.7 293.0,304.4 292.2,304.6 291.4,304.5 290.6,304.6 289.8,304.9 289.0,305.2 288.2,305.1 287.4,305.4 286.6,305.2 285.8,305.3 285.0,305.4 284.2,305.5 283.4,305.3 282.6,305.7 281.8,305.7 281.0,305.6 280.2,305.7 279.4,305.6 278.6,305.7 277.8,305.8 277.0,305.4 276.2,305.3 275.4,305.6 274.6,305.0 273.8,304.8 273.0,305.1 272.2,305.2 271.4,305.3 270.6,305.0 269.8,305.1 269.0,305.0 268.2,304.7 267.4,304.2 266.6,304.3 265.8,304.1 265.0,304.1 264.2,304.0 263.4,304.2 262.6,304.4 261.8,304.6 261.0,304.8 260.2,305.0 259.4,304.6 258.6,304.9 257.8,304.9 257.0,304.5 256.2,304.6 255.4,304.9 254.6,304.8 253.8,304.8 253.0,305.1 252.2,304.7 251.4,304.6 250.6,304.3 249.8,304.4 249.0,304.1 248.2,304.3 247.4,304.2 246.6,304.1 245.8,303.9 245.0,304.0 244.2,304.1 243.4,304.4 242.6,305.0 241.8,305.3 241.0,305.4 240.2,305.5 239.4,305.2 238.6,304.8 237.8,304.8 237.0,304.9 236.2,304.8 235.4,304.9 234.6,305.1 233.8,305.0 233.0,305.0 232.2,305.4 231.4,305.5 230.6,305.9 229.8,306.0 229.0,305.8 228.2,305.9 227.4,306.0 226.6,306.2 225.8,306.5 225.0,307.1 224.2,307.2 223.4,307.4 222.6,307.0 221.8,306.9 221.0,306.8 220.2,306.8 219.4,306.9 218.6,307.0 217.8,307.7 217.0,308.2 216.2,308.0 215.4,307.9 214.6,308.2 213.8,307.5 213.0,307.2 212.2,307.4 211.4,307.5 210.6,307.4 209.8,307.5 209.0,306.8 208.2,306.4 207.4,305.8 206.6,305.3 205.8,304.9 205.0,304.7" fill="#e2e2e2" stroke="none"/>
<polyline points="205.0,301.9 205.8,302.2 206.6,302.5 207.4,302.8 208.2,302.9 209.0,303.3 209.8,303.5 210.6,303.7 211.4,303.9 212.2,304.4 213.0,304.7 213.8,304.9 214.6,305.3 215.4,305.6 216.2,305.5 217.0,305.4 217.8,305.3 218.6,305.0 219.4,304.8 220.2,304.3 221.0,304.0 221.8,303.9 222.6,303.8 223.4,303.4 224.2,303.5 225.0,303.4 225.8,303.5 226.6,303.6 227.4,303.8 228.2,303.8 229.0,303.6 229.8,303.5 230.6,303.2 231.4,303.0 232.2,303.1 233.0,302.9 233.8,302.4 234.6,302.1 235.4,301.8 236.2,301.6 237.0,301.9 237.8,302.3 238.6,302.3 239.4,302.7 240.2,303.1 241.0,302.5 241.8,302.0 242.6,301.8 243.4,301.4 244.2,301.0 245.0,300.9 245.8,300.9 246.6,300.9 247.4,300.9 248.2,300.7 249.0,300.1 249.8,299.8 250.6,299.5 251.4,299.3 252.2,299.3 253.0,299.4 253.8,299.3 254.6,299.5 255.4,299.6 256.2,299.6 257.0,299.9 257.8,300.3 258.6,300.3 259.4,300.0 260.2,300.1 261.0,300.0 261.8,299.8 262.6,299.8 263.4,300.3 264.2,300.4 265.0,300.3 265.8,300.7 266.6,300.7 267.4,300.4 268.2,300.6 269.0,301.0 269.8,300.8 270.6,301.2 271.4,301.5 272.2,301.6 273.0,301.8 273.8,302.0 274.6,301.9 275.4,302.0 276.2,302.1 277.0,302.4 277.8,302.2 278.6,302.5 279.4,302.5 280.2,302.4 281.0,302.1 281.8,302.3 282.6,302.2 283.4,302.2 284.2,302.1 285.0,301.9 285.8,301.8 286.6,301.5 287.4,301.4 288.2,301.3 289.0,301.3 289.8,301.2 290.6,301.0 291.4,300.7 292.2,300.7 293.0,300.6 293.8,300.8 294.6,300.9 295.4,301.5 296.2,301.9 297.0,302.4 297.8,302.4 298.6,302.6 299.4,302.4 300.2,302.5 301.0,302.3 301.8,302.2 302.6,302.3 303.4,302.5 304.2,302.2 305.0,302.1 305.8,302.0 306.6,302.0 307.4,301.8 308.2,301.9 309.0,301.8 309.8,301.9" fill="none" stroke="#1f77b4" stroke-width="1.05" stroke-linejoin="round"/>
<line x1="200.70" y1="302.70" x2="315.60" y2="302.70" stroke="#1a1a1a" stroke-width="1.05"/>
<line x1="231.30" y1="267.70" x2="231.30" y2="309.90" stroke="#2a2a2a" stroke-width="1.05"/>
<line x1="200.70" y1="267.70" x2="200.70" y2="310.40" stroke="#111" stroke-width="1.0"/>
<line x1="200.20" y1="309.90" x2="315.60" y2="309.90" stroke="#111" stroke-width="1.0"/>
<line x1="198.00" y1="302.70" x2="200.70" y2="302.70" stroke="#111" stroke-width="1.0"/>
<text x="196.10" y="306.60" font-size="11.5" text-anchor="end" font-weight="normal" font-style="normal" fill="#000">0</text>
<line x1="198.00" y1="280.80" x2="200.70" y2="280.80" stroke="#111" stroke-width="1.0"/>
<text x="196.10" y="284.70" font-size="11.5" text-anchor="end" font-weight="normal" font-style="normal" fill="#000">0.5</text>
<text x="202.90" y="322.60" font-size="11.75">RID<tspan dx="11.75">ADLR (<tspan font-style="italic">unc-31</tspan>)</tspan></text>
<path d="M223.49,320.19H234.59M232.00,317.14L234.59,320.19L232.00,323.25" fill="none" stroke="#000" stroke-width="0.85" stroke-linejoin="miter"/>
<polygon points="426.2,299.8 427.0,300.0 427.8,300.0 428.6,300.1 429.4,300.1 430.2,299.9 431.0,300.0 431.8,299.9 432.6,299.6 433.4,299.1 434.2,299.0 435.0,298.8 435.8,298.5 436.6,298.5 437.4,298.7 438.2,298.8 439.0,298.1 439.8,298.3 440.6,298.3 441.4,298.1 442.2,298.1 443.0,298.1 443.8,298.3 444.6,298.1 445.4,298.4 446.2,298.1 447.0,298.7 447.8,298.6 448.6,298.9 449.4,298.6 450.2,298.9 451.0,299.2 451.8,299.1 452.6,298.6 453.4,298.6 454.2,298.4 455.0,297.4 455.8,297.2 456.6,296.5 457.4,295.5 458.2,295.2 459.0,294.5 459.8,293.6 460.6,293.2 461.4,292.3 462.2,289.9 463.0,287.3 463.8,284.7 464.6,282.6 465.4,280.5 466.2,279.2 467.0,277.8 467.8,276.2 468.6,274.4 469.4,273.2 470.2,272.0 471.0,271.2 471.8,270.9 472.6,270.5 473.4,269.5 474.2,268.7 475.0,269.2 475.8,269.5 476.6,269.3 477.4,269.6 478.2,269.9 479.0,270.1 479.8,270.4 480.6,271.2 481.4,271.7 482.2,271.8 483.0,272.2 483.8,272.6 484.6,272.8 485.4,273.2 486.2,273.7 487.0,273.9 487.8,274.5 488.6,274.8 489.4,274.8 490.2,275.7 491.0,276.3 491.8,276.7 492.6,277.1 493.4,277.8 494.2,277.8 495.0,278.3 495.8,278.9 496.6,279.2 497.4,280.1 498.2,280.6 499.0,280.9 499.8,281.4 500.6,282.4 501.4,282.5 502.2,283.7 503.0,284.4 503.8,284.9 504.6,285.5 505.4,286.7 506.2,286.8 507.0,287.6 507.8,287.8 508.6,288.4 509.4,288.3 510.2,288.8 511.0,289.3 511.8,289.8 512.6,289.5 513.4,290.0 514.2,290.1 515.0,289.4 515.8,289.4 516.6,289.0 517.4,288.8 518.2,289.3 519.0,289.6 519.8,289.7 520.6,290.2 521.4,290.3 522.2,290.2 523.0,290.7 523.8,290.8 524.6,291.0 525.4,291.3 526.2,291.8 527.0,292.1 527.8,292.7 528.6,293.2 529.4,293.7 530.2,294.1 530.2,302.3 529.4,302.2 528.6,302.5 527.8,303.0 527.0,303.0 526.2,303.1 525.4,303.5 524.6,303.5 523.8,303.2 523.0,303.5 522.2,303.8 521.4,303.3 520.6,303.1 519.8,303.3 519.0,303.1 518.2,302.9 517.4,303.3 516.6,303.1 515.8,302.9 515.0,302.7 514.2,302.7 513.4,302.4 512.6,302.6 511.8,302.1 511.0,302.6 510.2,302.6 509.4,302.5 508.6,302.5 507.8,302.7 507.0,302.4 506.2,302.2 505.4,302.4 504.6,302.2 503.8,302.3 503.0,302.2 502.2,302.7 501.4,303.0 500.6,303.5 499.8,303.7 499.0,304.5 498.2,304.2 497.4,304.4 496.6,304.4 495.8,305.1 495.0,304.9 494.2,305.7 493.4,306.0 492.6,306.5 491.8,306.4 491.0,306.8 490.2,307.3 489.4,307.6 488.6,308.0 487.8,308.6 487.0,309.2 486.2,309.0 485.4,309.1 484.6,309.0 483.8,308.9 483.0,308.5 482.2,308.6 481.4,308.8 480.6,309.0 479.8,309.1 479.0,309.4 478.2,309.9 477.4,309.8 476.6,309.8 475.8,309.7 475.0,309.6 474.2,309.5 473.4,309.3 472.6,309.5 471.8,309.7 471.0,309.7 470.2,309.8 469.4,309.5 468.6,308.7 467.8,308.2 467.0,307.9 466.2,306.7 465.4,306.5 464.6,305.9 463.8,305.0 463.0,304.2 462.2,304.2 461.4,303.4 460.6,303.5 459.8,303.8 459.0,303.7 458.2,303.3 457.4,303.6 456.6,303.2 455.8,303.4 455.0,303.2 454.2,303.2 453.4,302.9 452.6,303.1 451.8,303.3 451.0,303.4 450.2,303.5 449.4,303.9 448.6,303.9 447.8,303.8 447.0,303.7 446.2,303.9 445.4,303.7 444.6,303.7 443.8,303.4 443.0,303.6 442.2,303.5 441.4,303.6 440.6,303.8 439.8,303.7 439.0,303.9 438.2,303.9 437.4,304.0 436.6,303.7 435.8,303.7 435.0,303.9 434.2,304.1 433.4,304.2 432.6,304.5 431.8,304.5 431.0,304.3 430.2,303.9 429.4,303.5 428.6,303.5 427.8,303.7 427.0,303.7 426.2,304.1" fill="#e2e2e2" stroke="none"/>
<polyline points="426.2,302.1 427.0,302.2 427.8,302.4 428.6,302.4 429.4,302.4 430.2,302.7 431.0,302.6 431.8,302.4 432.6,302.4 433.4,302.3 434.2,302.0 435.0,302.0 435.8,301.8 436.6,301.5 437.4,301.4 438.2,301.3 439.0,300.9 439.8,300.7 440.6,300.6 441.4,300.4 442.2,300.4 443.0,300.5 443.8,300.5 444.6,300.4 445.4,300.6 446.2,300.7 447.0,300.8 447.8,300.9 448.6,301.2 449.4,301.2 450.2,301.3 451.0,301.5 451.8,301.5 452.6,301.2 453.4,301.2 454.2,301.0 455.0,300.7 455.8,300.6 456.6,300.5 457.4,300.1 458.2,299.9 459.0,299.7 459.8,299.4 460.6,299.0 461.4,298.5 462.2,297.9 463.0,297.3 463.8,296.8 464.6,296.3 465.4,295.6 466.2,295.0 467.0,294.5 467.8,293.9 468.6,293.1 469.4,292.5 470.2,291.8 471.0,291.0 471.8,290.7 472.6,290.3 473.4,289.9 474.2,289.6 475.0,289.2 475.8,288.7 476.6,288.8 477.4,289.0 478.2,289.0 479.0,289.4 479.8,289.6 480.6,289.8 481.4,290.1 482.2,290.3 483.0,290.4 483.8,290.7 484.6,291.2 485.4,291.5 486.2,291.9 487.0,292.0 487.8,292.1 488.6,292.0 489.4,292.1 490.2,292.1 491.0,292.2 491.8,292.0 492.6,292.4 493.4,292.5 494.2,292.6 495.0,292.7 495.8,293.2 496.6,293.4 497.4,293.5 498.2,293.7 499.0,294.0 499.8,294.3 500.6,294.4 501.4,294.8 502.2,295.0 503.0,295.1 503.8,295.4 504.6,295.6 505.4,295.9 506.2,296.3 507.0,296.4 507.8,296.6 508.6,296.8 509.4,296.5 510.2,296.3 511.0,296.3 511.8,296.1 512.6,296.2 513.4,296.3 514.2,296.2 515.0,296.3 515.8,296.1 516.6,296.1 517.4,296.1 518.2,296.3 519.0,296.3 519.8,296.4 520.6,296.6 521.4,296.8 522.2,297.2 523.0,297.5 523.8,297.7 524.6,297.9 525.4,298.1 526.2,298.1 527.0,298.2 527.8,298.2 528.6,298.1 529.4,298.0 530.2,298.1" fill="none" stroke="#1f77b4" stroke-width="1.05" stroke-linejoin="round"/>
<line x1="421.30" y1="300.50" x2="535.70" y2="300.50" stroke="#1a1a1a" stroke-width="1.05"/>
<line x1="453.10" y1="268.70" x2="453.10" y2="310.60" stroke="#2a2a2a" stroke-width="1.05"/>
<line x1="421.30" y1="268.70" x2="421.30" y2="311.10" stroke="#111" stroke-width="1.0"/>
<line x1="420.80" y1="310.60" x2="535.70" y2="310.60" stroke="#111" stroke-width="1.0"/>
<line x1="418.60" y1="300.50" x2="421.30" y2="300.50" stroke="#111" stroke-width="1.0"/>
<text x="416.70" y="304.40" font-size="11.5" text-anchor="end" font-weight="normal" font-style="normal" fill="#000">0</text>
<line x1="418.60" y1="278.60" x2="421.30" y2="278.60" stroke="#111" stroke-width="1.0"/>
<text x="416.70" y="282.50" font-size="11.5" text-anchor="end" font-weight="normal" font-style="normal" fill="#000">0.5</text>
<text x="432.20" y="323.20" font-size="11.45">RID<tspan dx="11.45">AWBR (WT)</tspan></text>
<path d="M452.27,320.85H463.07M460.55,317.88L463.07,320.85L460.55,323.83" fill="none" stroke="#000" stroke-width="0.85" stroke-linejoin="miter"/>
<text x="394.00" y="291.00" font-size="11.4" text-anchor="middle" transform="rotate(-90 394.00 291.00)"><tspan font-style="italic">ΔF</tspan><tspan dx="0.5">/</tspan><tspan font-style="italic" dx="0.3">F</tspan><tspan font-size="8.2" dy="3.6">0</tspan></text>
<polygon points="567.0,298.9 567.8,299.1 568.6,299.2 569.4,299.0 570.2,298.8 571.0,298.8 571.8,298.4 572.6,298.5 573.4,298.3 574.2,298.5 575.0,298.6 575.8,298.8 576.6,298.4 577.4,298.6 578.2,298.5 579.0,298.4 579.8,298.5 580.6,298.8 581.4,298.8 582.2,298.8 583.0,298.4 583.8,298.5 584.6,298.4 585.4,298.5 586.2,298.7 587.0,299.0 587.8,298.5 588.6,298.5 589.4,298.4 590.2,298.4 591.0,298.7 591.8,299.1 592.6,299.2 593.4,299.4 594.2,299.3 595.0,299.0 595.8,299.2 596.6,298.9 597.4,299.0 598.2,298.7 599.0,298.5 599.8,298.3 600.6,298.5 601.4,297.9 602.2,297.7 603.0,296.8 603.8,295.8 604.6,295.0 605.4,294.2 606.2,293.6 607.0,292.9 607.8,292.2 608.6,291.3 609.4,291.0 610.2,290.3 611.0,289.6 611.8,288.8 612.6,288.4 613.4,288.0 614.2,288.2 615.0,288.1 615.8,288.0 616.6,287.7 617.4,287.7 618.2,287.6 619.0,287.9 619.8,288.3 620.6,288.5 621.4,289.2 622.2,289.6 623.0,290.0 623.8,289.9 624.6,290.2 625.4,289.9 626.2,289.9 627.0,290.0 627.8,290.3 628.6,290.3 629.4,290.6 630.2,290.6 631.0,290.8 631.8,291.2 632.6,291.7 633.4,291.8 634.2,291.8 635.0,291.7 635.8,291.3 636.6,291.4 637.4,291.5 638.2,291.9 639.0,292.2 639.8,292.6 640.6,292.8 641.4,293.0 642.2,293.1 643.0,293.2 643.8,293.4 644.6,293.1 645.4,293.1 646.2,293.0 647.0,293.0 647.8,292.9 648.6,293.6 649.4,293.6 650.2,294.0 651.0,294.4 651.8,294.2 652.6,293.8 653.4,293.9 654.2,293.7 655.0,294.0 655.8,294.0 656.6,294.1 657.4,294.3 658.2,294.3 659.0,294.0 659.8,294.4 660.6,294.4 661.4,294.4 662.2,294.6 663.0,294.2 663.8,294.3 664.6,294.6 665.4,294.7 666.2,294.7 667.0,294.8 667.8,294.5 668.6,294.0 669.4,293.7 670.2,293.6 671.0,293.8 671.0,303.2 670.2,303.3 669.4,303.7 668.6,304.4 667.8,304.6 667.0,304.4 666.2,304.2 665.4,303.5 664.6,303.1 663.8,302.8 663.0,303.1 662.2,303.1 661.4,303.1 660.6,303.0 659.8,303.0 659.0,303.0 658.2,302.9 657.4,303.5 656.6,303.7 655.8,303.9 655.0,304.0 654.2,304.2 653.4,303.8 652.6,303.9 651.8,304.1 651.0,303.9 650.2,303.6 649.4,303.7 648.6,303.9 647.8,303.8 647.0,303.9 646.2,304.1 645.4,304.1 644.6,304.1 643.8,304.1 643.0,304.2 642.2,304.0 641.4,303.9 640.6,303.6 639.8,303.5 639.0,303.2 638.2,303.3 637.4,303.3 636.6,303.5 635.8,303.5 635.0,303.2 634.2,303.2 633.4,302.5 632.6,302.2 631.8,302.1 631.0,302.4 630.2,302.3 629.4,302.7 628.6,302.7 627.8,302.6 627.0,302.5 626.2,302.6 625.4,302.6 624.6,302.7 623.8,302.7 623.0,302.9 622.2,302.9 621.4,302.8 620.6,302.6 619.8,302.8 619.0,302.5 618.2,302.2 617.4,302.5 616.6,302.4 615.8,302.3 615.0,302.1 614.2,302.5 613.4,302.6 612.6,302.8 611.8,302.9 611.0,303.1 610.2,302.9 609.4,302.9 608.6,302.8 607.8,302.9 607.0,303.2 606.2,303.2 605.4,303.3 604.6,303.2 603.8,303.1 603.0,302.9 602.2,302.7 601.4,302.4 600.6,302.6 599.8,302.6 599.0,302.5 598.2,302.8 597.4,303.0 596.6,303.2 595.8,303.4 595.0,303.3 594.2,302.9 593.4,302.6 592.6,302.3 591.8,302.1 591.0,302.2 590.2,302.4 589.4,302.7 588.6,302.6 587.8,302.9 587.0,303.1 586.2,303.3 585.4,303.2 584.6,303.6 583.8,303.6 583.0,303.3 582.2,303.4 581.4,303.4 580.6,303.1 579.8,302.9 579.0,303.4 578.2,303.4 577.4,303.4 576.6,303.3 575.8,303.1 575.0,303.1 574.2,302.8 573.4,302.8 572.6,303.0 571.8,303.2 571.0,302.6 570.2,302.7 569.4,302.7 568.6,302.9 567.8,302.9 567.0,303.2" fill="#e2e2e2" stroke="none"/>
<polyline points="567.0,301.0 567.8,300.8 568.6,300.9 569.4,301.0 570.2,300.9 571.0,301.1 571.8,301.3 572.6,301.1 573.4,301.2 574.2,301.1 575.0,301.2 575.8,301.1 576.6,301.0 577.4,301.0 578.2,301.1 579.0,301.0 579.8,301.1 580.6,301.4 581.4,301.4 582.2,301.3 583.0,301.1 583.8,300.9 584.6,300.8 585.4,301.2 586.2,301.2 587.0,301.0 587.8,300.9 588.6,300.8 589.4,300.3 590.2,300.1 591.0,300.2 591.8,300.3 592.6,300.2 593.4,300.2 594.2,300.5 595.0,300.6 595.8,300.6 596.6,300.5 597.4,300.7 598.2,300.7 599.0,300.7 599.8,300.9 600.6,301.0 601.4,300.7 602.2,300.2 603.0,299.8 603.8,299.6 604.6,299.2 605.4,298.8 606.2,298.2 607.0,297.7 607.8,297.2 608.6,296.9 609.4,296.4 610.2,296.3 611.0,295.9 611.8,295.4 612.6,295.3 613.4,295.4 614.2,295.3 615.0,295.5 615.8,295.8 616.6,295.8 617.4,295.7 618.2,296.1 619.0,296.2 619.8,296.0 620.6,296.4 621.4,296.8 622.2,296.9 623.0,297.4 623.8,297.7 624.6,297.5 625.4,297.5 626.2,297.5 627.0,297.1 627.8,297.2 628.6,297.2 629.4,297.1 630.2,297.4 631.0,297.6 631.8,297.7 632.6,297.8 633.4,297.9 634.2,297.9 635.0,297.8 635.8,297.9 636.6,297.7 637.4,297.7 638.2,297.6 639.0,297.7 639.8,297.8 640.6,298.2 641.4,298.3 642.2,298.7 643.0,298.8 643.8,298.8 644.6,298.6 645.4,298.8 646.2,298.7 647.0,298.8 647.8,299.0 648.6,299.2 649.4,299.1 650.2,299.1 651.0,299.2 651.8,299.0 652.6,299.2 653.4,299.4 654.2,299.4 655.0,299.0 655.8,299.2 656.6,299.2 657.4,299.1 658.2,299.1 659.0,299.4 659.8,299.3 660.6,299.4 661.4,299.4 662.2,299.5 663.0,299.3 663.8,299.5 664.6,299.1 665.4,298.9 666.2,298.7 667.0,298.8 667.8,298.7 668.6,298.7 669.4,298.9 670.2,298.8 671.0,298.8" fill="none" stroke="#1f77b4" stroke-width="1.05" stroke-linejoin="round"/>
<line x1="562.60" y1="300.20" x2="677.20" y2="300.20" stroke="#1a1a1a" stroke-width="1.05"/>
<line x1="594.40" y1="268.90" x2="594.40" y2="310.80" stroke="#2a2a2a" stroke-width="1.05"/>
<line x1="562.60" y1="268.90" x2="562.60" y2="311.30" stroke="#111" stroke-width="1.0"/>
<line x1="562.10" y1="310.80" x2="677.20" y2="310.80" stroke="#111" stroke-width="1.0"/>
<line x1="559.90" y1="300.20" x2="562.60" y2="300.20" stroke="#111" stroke-width="1.0"/>
<text x="558.00" y="304.10" font-size="11.5" text-anchor="end" font-weight="normal" font-style="normal" fill="#000">0</text>
<line x1="559.90" y1="279.00" x2="562.60" y2="279.00" stroke="#111" stroke-width="1.0"/>
<text x="558.00" y="282.90" font-size="11.5" text-anchor="end" font-weight="normal" font-style="normal" fill="#000">0.5</text>
<text x="564.40" y="323.60" font-size="11.8">RID<tspan dx="11.80">AWBR (<tspan font-style="italic">unc-31</tspan>)</tspan></text>
<path d="M585.07,321.18H596.22M593.63,318.11L596.22,321.18L593.63,324.25" fill="none" stroke="#000" stroke-width="0.85" stroke-linejoin="miter"/>
<rect x="422.6" y="82.50" width="1.7" height="14.27" fill="#dddcdc"/>
<rect x="424.0" y="82.50" width="3.1" height="14.27" fill="#dcdddd"/>
<rect x="426.8" y="82.50" width="1.7" height="14.27" fill="#d8dce2"/>
<rect x="428.3" y="82.50" width="1.7" height="14.27" fill="#d4dbe5"/>
<rect x="429.7" y="82.50" width="3.1" height="14.27" fill="#cdd8ea"/>
<rect x="432.5" y="82.50" width="1.7" height="14.27" fill="#d1dae8"/>
<rect x="433.9" y="82.50" width="3.1" height="14.27" fill="#d0d9e8"/>
<rect x="436.7" y="82.50" width="1.7" height="14.27" fill="#d2dae7"/>
<rect x="438.2" y="82.50" width="1.7" height="14.27" fill="#cad7eb"/>
<rect x="439.6" y="82.50" width="3.1" height="14.27" fill="#d4dbe5"/>
<rect x="442.4" y="82.50" width="1.7" height="14.27" fill="#ced9e9"/>
<rect x="443.8" y="82.50" width="1.7" height="14.27" fill="#d2dae7"/>
<rect x="445.2" y="82.50" width="1.7" height="14.27" fill="#d4dbe5"/>
<rect x="446.6" y="82.50" width="1.7" height="14.27" fill="#d3dbe6"/>
<rect x="448.0" y="82.50" width="1.7" height="14.27" fill="#d4dbe5"/>
<rect x="449.5" y="82.50" width="1.7" height="14.27" fill="#d8dce2"/>
<rect x="450.9" y="82.50" width="1.7" height="14.27" fill="#dbdcde"/>
<rect x="452.3" y="82.50" width="1.7" height="14.27" fill="#dfdbd9"/>
<rect x="453.7" y="82.50" width="1.7" height="14.27" fill="#dedcdb"/>
<rect x="455.1" y="82.50" width="1.7" height="14.27" fill="#dfdbd9"/>
<rect x="456.5" y="82.50" width="1.7" height="14.27" fill="#e1dad6"/>
<rect x="457.9" y="82.50" width="1.7" height="14.27" fill="#e4d9d2"/>
<rect x="459.4" y="82.50" width="1.7" height="14.27" fill="#e9d5cb"/>
<rect x="460.8" y="82.50" width="1.7" height="14.27" fill="#f2c9b4"/>
<rect x="462.2" y="82.50" width="1.7" height="14.27" fill="#f6bfa6"/>
<rect x="463.6" y="82.50" width="1.7" height="14.27" fill="#f7aa8c"/>
<rect x="465.0" y="82.50" width="3.1" height="14.27" fill="#f59d7e"/>
<rect x="467.8" y="82.50" width="1.7" height="14.27" fill="#f6a385"/>
<rect x="469.3" y="82.50" width="1.7" height="14.27" fill="#f39778"/>
<rect x="470.7" y="82.50" width="1.7" height="14.27" fill="#f39577"/>
<rect x="472.1" y="82.50" width="1.7" height="14.27" fill="#f18f71"/>
<rect x="473.5" y="82.50" width="3.1" height="14.27" fill="#f29274"/>
<rect x="476.3" y="82.50" width="1.7" height="14.27" fill="#f39475"/>
<rect x="477.7" y="82.50" width="1.7" height="14.27" fill="#ee8669"/>
<rect x="479.2" y="82.50" width="1.7" height="14.27" fill="#eb7f62"/>
<rect x="480.6" y="82.50" width="1.7" height="14.27" fill="#ea7d61"/>
<rect x="482.0" y="82.50" width="1.7" height="14.27" fill="#ee8468"/>
<rect x="483.4" y="82.50" width="1.7" height="14.27" fill="#ee8669"/>
<rect x="484.8" y="82.50" width="1.7" height="14.27" fill="#ed8366"/>
<rect x="486.2" y="82.50" width="1.7" height="14.27" fill="#e97a5e"/>
<rect x="487.6" y="82.50" width="1.7" height="14.27" fill="#e97b60"/>
<rect x="489.0" y="82.50" width="1.7" height="14.27" fill="#ef886b"/>
<rect x="490.5" y="82.50" width="1.7" height="14.27" fill="#f08b6e"/>
<rect x="491.9" y="82.50" width="1.7" height="14.27" fill="#ed8366"/>
<rect x="493.3" y="82.50" width="3.1" height="14.27" fill="#ec8064"/>
<rect x="496.1" y="82.50" width="1.7" height="14.27" fill="#f08a6c"/>
<rect x="497.5" y="82.50" width="1.7" height="14.27" fill="#f29072"/>
<rect x="498.9" y="82.50" width="3.1" height="14.27" fill="#ee8468"/>
<rect x="501.8" y="82.50" width="1.7" height="14.27" fill="#ee8669"/>
<rect x="503.2" y="82.50" width="1.7" height="14.27" fill="#eb7e62"/>
<rect x="504.6" y="82.50" width="1.7" height="14.27" fill="#e97b60"/>
<rect x="506.0" y="82.50" width="1.7" height="14.27" fill="#f08a6c"/>
<rect x="507.4" y="82.50" width="1.7" height="14.27" fill="#ed8366"/>
<rect x="508.8" y="82.50" width="1.7" height="14.27" fill="#f08a6c"/>
<rect x="510.3" y="82.50" width="1.7" height="14.27" fill="#f18f71"/>
<rect x="511.7" y="82.50" width="1.7" height="14.27" fill="#f49a7b"/>
<rect x="513.1" y="82.50" width="1.7" height="14.27" fill="#f4987a"/>
<rect x="514.5" y="82.50" width="1.7" height="14.27" fill="#f7ac8e"/>
<rect x="515.9" y="82.50" width="1.7" height="14.27" fill="#f7b396"/>
<rect x="517.3" y="82.50" width="1.7" height="14.27" fill="#f7b99e"/>
<rect x="518.7" y="82.50" width="1.7" height="14.27" fill="#f7af91"/>
<rect x="520.1" y="82.50" width="1.7" height="14.27" fill="#f7b093"/>
<rect x="521.6" y="82.50" width="1.7" height="14.27" fill="#f7b497"/>
<rect x="523.0" y="82.50" width="3.1" height="14.27" fill="#f7b599"/>
<rect x="525.8" y="82.50" width="1.7" height="14.27" fill="#f7b89c"/>
<rect x="527.2" y="82.50" width="1.7" height="14.27" fill="#f7b599"/>
<rect x="528.6" y="82.50" width="3.1" height="14.27" fill="#f5c0a7"/>
<rect x="531.5" y="82.50" width="3.1" height="14.27" fill="#f7b99e"/>
<rect x="534.3" y="82.50" width="1.7" height="14.27" fill="#f7ba9f"/>
<rect x="422.6" y="96.47" width="1.7" height="14.27" fill="#d8dce2"/>
<rect x="424.0" y="96.47" width="3.1" height="14.27" fill="#d5dbe5"/>
<rect x="426.8" y="96.47" width="1.7" height="14.27" fill="#d6dbe4"/>
<rect x="428.3" y="96.47" width="3.1" height="14.27" fill="#d7dce3"/>
<rect x="431.1" y="96.47" width="1.7" height="14.27" fill="#d4dbe5"/>
<rect x="432.5" y="96.47" width="1.7" height="14.27" fill="#d7dce3"/>
<rect x="433.9" y="96.47" width="1.7" height="14.27" fill="#d5dbe5"/>
<rect x="435.3" y="96.47" width="3.1" height="14.27" fill="#d3dbe6"/>
<rect x="438.2" y="96.47" width="3.1" height="14.27" fill="#d1dae8"/>
<rect x="441.0" y="96.47" width="1.7" height="14.27" fill="#d5dbe5"/>
<rect x="442.4" y="96.47" width="1.7" height="14.27" fill="#d4dbe5"/>
<rect x="443.8" y="96.47" width="3.1" height="14.27" fill="#d2dae7"/>
<rect x="446.6" y="96.47" width="1.7" height="14.27" fill="#d4dbe5"/>
<rect x="448.0" y="96.47" width="1.7" height="14.27" fill="#d6dbe4"/>
<rect x="449.5" y="96.47" width="1.7" height="14.27" fill="#d8dce2"/>
<rect x="450.9" y="96.47" width="1.7" height="14.27" fill="#d7dce3"/>
<rect x="452.3" y="96.47" width="1.7" height="14.27" fill="#cbd8eb"/>
<rect x="453.7" y="96.47" width="3.1" height="14.27" fill="#d2dae7"/>
<rect x="456.5" y="96.47" width="1.7" height="14.27" fill="#d1dae8"/>
<rect x="457.9" y="96.47" width="1.7" height="14.27" fill="#d9dce1"/>
<rect x="459.4" y="96.47" width="1.7" height="14.27" fill="#ebd3c6"/>
<rect x="460.8" y="96.47" width="1.7" height="14.27" fill="#f3c7b1"/>
<rect x="462.2" y="96.47" width="1.7" height="14.27" fill="#f7a98b"/>
<rect x="463.6" y="96.47" width="1.7" height="14.27" fill="#f6a586"/>
<rect x="465.0" y="96.47" width="1.7" height="14.27" fill="#f4987a"/>
<rect x="466.4" y="96.47" width="1.7" height="14.27" fill="#ee8669"/>
<rect x="467.8" y="96.47" width="1.7" height="14.27" fill="#ea7d61"/>
<rect x="469.3" y="96.47" width="1.7" height="14.27" fill="#e97c60"/>
<rect x="470.7" y="96.47" width="1.7" height="14.27" fill="#f29274"/>
<rect x="472.1" y="96.47" width="1.7" height="14.27" fill="#ed8366"/>
<rect x="473.5" y="96.47" width="1.7" height="14.27" fill="#f08a6c"/>
<rect x="474.9" y="96.47" width="1.7" height="14.27" fill="#ee8669"/>
<rect x="476.3" y="96.47" width="1.7" height="14.27" fill="#e8785d"/>
<rect x="477.7" y="96.47" width="3.1" height="14.27" fill="#e36f55"/>
<rect x="480.6" y="96.47" width="1.7" height="14.27" fill="#e16b53"/>
<rect x="482.0" y="96.47" width="1.7" height="14.27" fill="#f18f71"/>
<rect x="483.4" y="96.47" width="1.7" height="14.27" fill="#ee8468"/>
<rect x="484.8" y="96.47" width="1.7" height="14.27" fill="#ee8669"/>
<rect x="486.2" y="96.47" width="1.7" height="14.27" fill="#e97b60"/>
<rect x="487.6" y="96.47" width="1.7" height="14.27" fill="#e6755a"/>
<rect x="489.0" y="96.47" width="1.7" height="14.27" fill="#e7775c"/>
<rect x="490.5" y="96.47" width="1.7" height="14.27" fill="#ee8468"/>
<rect x="491.9" y="96.47" width="1.7" height="14.27" fill="#f39577"/>
<rect x="493.3" y="96.47" width="1.7" height="14.27" fill="#f39475"/>
<rect x="494.7" y="96.47" width="1.7" height="14.27" fill="#f39778"/>
<rect x="496.1" y="96.47" width="4.5" height="14.27" fill="#f49a7b"/>
<rect x="500.4" y="96.47" width="1.7" height="14.27" fill="#f59f80"/>
<rect x="501.8" y="96.47" width="4.5" height="14.27" fill="#f39778"/>
<rect x="506.0" y="96.47" width="1.7" height="14.27" fill="#f49a7b"/>
<rect x="507.4" y="96.47" width="3.1" height="14.27" fill="#f59c7d"/>
<rect x="510.3" y="96.47" width="1.7" height="14.27" fill="#f7a688"/>
<rect x="511.7" y="96.47" width="1.7" height="14.27" fill="#f7a889"/>
<rect x="513.1" y="96.47" width="3.1" height="14.27" fill="#f6a283"/>
<rect x="515.9" y="96.47" width="1.7" height="14.27" fill="#f7ac8e"/>
<rect x="517.3" y="96.47" width="3.1" height="14.27" fill="#f7b497"/>
<rect x="520.1" y="96.47" width="1.7" height="14.27" fill="#f6a586"/>
<rect x="521.6" y="96.47" width="1.7" height="14.27" fill="#f7aa8c"/>
<rect x="523.0" y="96.47" width="3.1" height="14.27" fill="#f6a385"/>
<rect x="525.8" y="96.47" width="1.7" height="14.27" fill="#f7b093"/>
<rect x="527.2" y="96.47" width="1.7" height="14.27" fill="#f7b396"/>
<rect x="528.6" y="96.47" width="1.7" height="14.27" fill="#f7b497"/>
<rect x="530.0" y="96.47" width="1.7" height="14.27" fill="#f7ba9f"/>
<rect x="531.5" y="96.47" width="1.7" height="14.27" fill="#f7ac8e"/>
<rect x="532.9" y="96.47" width="1.7" height="14.27" fill="#f7a98b"/>
<rect x="534.3" y="96.47" width="1.7" height="14.27" fill="#f7aa8c"/>
<rect x="422.6" y="110.43" width="1.7" height="14.27" fill="#dfdbd9"/>
<rect x="424.0" y="110.43" width="4.5" height="14.27" fill="#e0dbd8"/>
<rect x="428.3" y="110.43" width="1.7" height="14.27" fill="#e1dad6"/>
<rect x="429.7" y="110.43" width="3.1" height="14.27" fill="#e3d9d3"/>
<rect x="432.5" y="110.43" width="1.7" height="14.27" fill="#e0dbd8"/>
<rect x="433.9" y="110.43" width="3.1" height="14.27" fill="#e2dad5"/>
<rect x="436.7" y="110.43" width="1.7" height="14.27" fill="#dcdddd"/>
<rect x="438.2" y="110.43" width="1.7" height="14.27" fill="#d7dce3"/>
<rect x="439.6" y="110.43" width="3.1" height="14.27" fill="#ccd8ea"/>
<rect x="442.4" y="110.43" width="1.7" height="14.27" fill="#ced9e9"/>
<rect x="443.8" y="110.43" width="3.1" height="14.27" fill="#d4dbe5"/>
<rect x="446.6" y="110.43" width="1.7" height="14.27" fill="#d1dae8"/>
<rect x="448.0" y="110.43" width="1.7" height="14.27" fill="#d7dce3"/>
<rect x="449.5" y="110.43" width="1.7" height="14.27" fill="#dddcdc"/>
<rect x="450.9" y="110.43" width="1.7" height="14.27" fill="#ecd3c5"/>
<rect x="452.3" y="110.43" width="1.7" height="14.27" fill="#f5c4ac"/>
<rect x="453.7" y="110.43" width="3.1" height="14.27" fill="#f4c6af"/>
<rect x="456.5" y="110.43" width="1.7" height="14.27" fill="#f4c5ad"/>
<rect x="457.9" y="110.43" width="1.7" height="14.27" fill="#f2c9b4"/>
<rect x="459.4" y="110.43" width="1.7" height="14.27" fill="#f2cbb7"/>
<rect x="460.8" y="110.43" width="1.7" height="14.27" fill="#e9d5cb"/>
<rect x="462.2" y="110.43" width="1.7" height="14.27" fill="#dbdcde"/>
<rect x="463.6" y="110.43" width="3.1" height="14.27" fill="#dcdddd"/>
<rect x="466.4" y="110.43" width="1.7" height="14.27" fill="#e3d9d3"/>
<rect x="467.8" y="110.43" width="1.7" height="14.27" fill="#f2c9b4"/>
<rect x="469.3" y="110.43" width="3.1" height="14.27" fill="#f6bda2"/>
<rect x="472.1" y="110.43" width="1.7" height="14.27" fill="#f7bca1"/>
<rect x="473.5" y="110.43" width="3.1" height="14.27" fill="#f6bea4"/>
<rect x="476.3" y="110.43" width="1.7" height="14.27" fill="#f4c5ad"/>
<rect x="477.7" y="110.43" width="1.7" height="14.27" fill="#f6bda2"/>
<rect x="479.2" y="110.43" width="3.1" height="14.27" fill="#f7bca1"/>
<rect x="482.0" y="110.43" width="1.7" height="14.27" fill="#f7b89c"/>
<rect x="483.4" y="110.43" width="3.1" height="14.27" fill="#f7ba9f"/>
<rect x="486.2" y="110.43" width="1.7" height="14.27" fill="#f6bfa6"/>
<rect x="487.6" y="110.43" width="1.7" height="14.27" fill="#f5c0a7"/>
<rect x="489.0" y="110.43" width="3.1" height="14.27" fill="#f7b497"/>
<rect x="491.9" y="110.43" width="3.1" height="14.27" fill="#f7b99e"/>
<rect x="494.7" y="110.43" width="3.1" height="14.27" fill="#f5c1a9"/>
<rect x="497.5" y="110.43" width="1.7" height="14.27" fill="#f3c7b1"/>
<rect x="498.9" y="110.43" width="1.7" height="14.27" fill="#f6bea4"/>
<rect x="500.4" y="110.43" width="1.7" height="14.27" fill="#f7b99e"/>
<rect x="501.8" y="110.43" width="1.7" height="14.27" fill="#f7b396"/>
<rect x="503.2" y="110.43" width="1.7" height="14.27" fill="#f7ac8e"/>
<rect x="504.6" y="110.43" width="3.1" height="14.27" fill="#f7a98b"/>
<rect x="507.4" y="110.43" width="1.7" height="14.27" fill="#f7aa8c"/>
<rect x="508.8" y="110.43" width="3.1" height="14.27" fill="#f7ac8e"/>
<rect x="511.7" y="110.43" width="1.7" height="14.27" fill="#f7b599"/>
<rect x="513.1" y="110.43" width="1.7" height="14.27" fill="#f7b497"/>
<rect x="514.5" y="110.43" width="1.7" height="14.27" fill="#f6bfa6"/>
<rect x="515.9" y="110.43" width="1.7" height="14.27" fill="#f3c7b1"/>
<rect x="517.3" y="110.43" width="1.7" height="14.27" fill="#f4c5ad"/>
<rect x="518.7" y="110.43" width="1.7" height="14.27" fill="#f3c7b1"/>
<rect x="520.1" y="110.43" width="1.7" height="14.27" fill="#f3c8b2"/>
<rect x="521.6" y="110.43" width="1.7" height="14.27" fill="#f4c5ad"/>
<rect x="523.0" y="110.43" width="1.7" height="14.27" fill="#f5c4ac"/>
<rect x="524.4" y="110.43" width="1.7" height="14.27" fill="#f4c5ad"/>
<rect x="525.8" y="110.43" width="3.1" height="14.27" fill="#f3c7b1"/>
<rect x="528.6" y="110.43" width="3.1" height="14.27" fill="#f2c9b4"/>
<rect x="531.5" y="110.43" width="4.5" height="14.27" fill="#f2cbb7"/>
<rect x="422.6" y="124.40" width="3.1" height="14.27" fill="#dadcdf"/>
<rect x="425.4" y="124.40" width="1.7" height="14.27" fill="#dedcdb"/>
<rect x="426.8" y="124.40" width="4.5" height="14.27" fill="#dbdcde"/>
<rect x="431.1" y="124.40" width="1.7" height="14.27" fill="#dcdddd"/>
<rect x="432.5" y="124.40" width="3.1" height="14.27" fill="#dbdcde"/>
<rect x="435.3" y="124.40" width="1.7" height="14.27" fill="#dddcdc"/>
<rect x="436.7" y="124.40" width="1.7" height="14.27" fill="#d9dce1"/>
<rect x="438.2" y="124.40" width="1.7" height="14.27" fill="#d4dbe5"/>
<rect x="439.6" y="124.40" width="1.7" height="14.27" fill="#d2dae7"/>
<rect x="441.0" y="124.40" width="1.7" height="14.27" fill="#d3dbe6"/>
<rect x="442.4" y="124.40" width="3.1" height="14.27" fill="#d8dce2"/>
<rect x="445.2" y="124.40" width="1.7" height="14.27" fill="#d5dbe5"/>
<rect x="446.6" y="124.40" width="1.7" height="14.27" fill="#d2dae7"/>
<rect x="448.0" y="124.40" width="1.7" height="14.27" fill="#d6dbe4"/>
<rect x="449.5" y="124.40" width="1.7" height="14.27" fill="#d9dce1"/>
<rect x="450.9" y="124.40" width="1.7" height="14.27" fill="#d6dbe4"/>
<rect x="452.3" y="124.40" width="3.1" height="14.27" fill="#dcdddd"/>
<rect x="455.1" y="124.40" width="1.7" height="14.27" fill="#d5dbe5"/>
<rect x="456.5" y="124.40" width="4.5" height="14.27" fill="#dadcdf"/>
<rect x="460.8" y="124.40" width="1.7" height="14.27" fill="#ebd3c6"/>
<rect x="462.2" y="124.40" width="1.7" height="14.27" fill="#f5c2aa"/>
<rect x="463.6" y="124.40" width="1.7" height="14.27" fill="#f5c0a7"/>
<rect x="465.0" y="124.40" width="3.1" height="14.27" fill="#f7bca1"/>
<rect x="467.8" y="124.40" width="1.7" height="14.27" fill="#f7b89c"/>
<rect x="469.3" y="124.40" width="1.7" height="14.27" fill="#f7af91"/>
<rect x="470.7" y="124.40" width="1.7" height="14.27" fill="#f6a283"/>
<rect x="472.1" y="124.40" width="1.7" height="14.27" fill="#f49a7b"/>
<rect x="473.5" y="124.40" width="1.7" height="14.27" fill="#ef886b"/>
<rect x="474.9" y="124.40" width="1.7" height="14.27" fill="#e6755a"/>
<rect x="476.3" y="124.40" width="1.7" height="14.27" fill="#e16b53"/>
<rect x="477.7" y="124.40" width="1.7" height="14.27" fill="#d55845"/>
<rect x="479.2" y="124.40" width="1.7" height="14.27" fill="#d25443"/>
<rect x="480.6" y="124.40" width="1.7" height="14.27" fill="#e06a51"/>
<rect x="482.0" y="124.40" width="1.7" height="14.27" fill="#d65a47"/>
<rect x="483.4" y="124.40" width="1.7" height="14.27" fill="#dc634d"/>
<rect x="484.8" y="124.40" width="1.7" height="14.27" fill="#e97a5e"/>
<rect x="486.2" y="124.40" width="1.7" height="14.27" fill="#f08a6c"/>
<rect x="487.6" y="124.40" width="1.7" height="14.27" fill="#ec8165"/>
<rect x="489.0" y="124.40" width="1.7" height="14.27" fill="#ed8366"/>
<rect x="490.5" y="124.40" width="1.7" height="14.27" fill="#e97a5e"/>
<rect x="491.9" y="124.40" width="1.7" height="14.27" fill="#ec8165"/>
<rect x="493.3" y="124.40" width="1.7" height="14.27" fill="#ee8468"/>
<rect x="494.7" y="124.40" width="1.7" height="14.27" fill="#f29274"/>
<rect x="496.1" y="124.40" width="1.7" height="14.27" fill="#f39475"/>
<rect x="497.5" y="124.40" width="1.7" height="14.27" fill="#f7af91"/>
<rect x="498.9" y="124.40" width="1.7" height="14.27" fill="#f7b79b"/>
<rect x="500.4" y="124.40" width="1.7" height="14.27" fill="#f7b599"/>
<rect x="501.8" y="124.40" width="3.1" height="14.27" fill="#f7b396"/>
<rect x="504.6" y="124.40" width="1.7" height="14.27" fill="#f6bda2"/>
<rect x="506.0" y="124.40" width="1.7" height="14.27" fill="#f7b194"/>
<rect x="507.4" y="124.40" width="3.1" height="14.27" fill="#f7b79b"/>
<rect x="510.3" y="124.40" width="1.7" height="14.27" fill="#f7b497"/>
<rect x="511.7" y="124.40" width="1.7" height="14.27" fill="#f7b89c"/>
<rect x="513.1" y="124.40" width="1.7" height="14.27" fill="#f7ba9f"/>
<rect x="514.5" y="124.40" width="1.7" height="14.27" fill="#f5c0a7"/>
<rect x="515.9" y="124.40" width="1.7" height="14.27" fill="#f5c1a9"/>
<rect x="517.3" y="124.40" width="1.7" height="14.27" fill="#f7ba9f"/>
<rect x="518.7" y="124.40" width="1.7" height="14.27" fill="#f7bca1"/>
<rect x="520.1" y="124.40" width="1.7" height="14.27" fill="#f7b99e"/>
<rect x="521.6" y="124.40" width="1.7" height="14.27" fill="#f5c0a7"/>
<rect x="523.0" y="124.40" width="1.7" height="14.27" fill="#f5c1a9"/>
<rect x="524.4" y="124.40" width="1.7" height="14.27" fill="#f6bea4"/>
<rect x="525.8" y="124.40" width="1.7" height="14.27" fill="#f5c4ac"/>
<rect x="527.2" y="124.40" width="3.1" height="14.27" fill="#f2cbb7"/>
<rect x="530.0" y="124.40" width="3.1" height="14.27" fill="#f4c5ad"/>
<rect x="532.9" y="124.40" width="1.7" height="14.27" fill="#f4c6af"/>
<rect x="534.3" y="124.40" width="1.7" height="14.27" fill="#f2c9b4"/>
<rect x="422.6" y="138.37" width="1.7" height="14.27" fill="#d0d9e8"/>
<rect x="424.0" y="138.37" width="3.1" height="14.27" fill="#c3d3ed"/>
<rect x="426.8" y="138.37" width="4.5" height="14.27" fill="#c8d6ec"/>
<rect x="431.1" y="138.37" width="1.7" height="14.27" fill="#c6d5ec"/>
<rect x="432.5" y="138.37" width="1.7" height="14.27" fill="#ccd8ea"/>
<rect x="433.9" y="138.37" width="1.7" height="14.27" fill="#dadcdf"/>
<rect x="435.3" y="138.37" width="1.7" height="14.27" fill="#e0dbd8"/>
<rect x="436.7" y="138.37" width="1.7" height="14.27" fill="#dcdddd"/>
<rect x="438.2" y="138.37" width="6.0" height="14.27" fill="#dedcdb"/>
<rect x="443.8" y="138.37" width="3.1" height="14.27" fill="#dfdbd9"/>
<rect x="446.6" y="138.37" width="1.7" height="14.27" fill="#dcdddd"/>
<rect x="448.0" y="138.37" width="3.1" height="14.27" fill="#dedcdb"/>
<rect x="450.9" y="138.37" width="1.7" height="14.27" fill="#e7d7ce"/>
<rect x="452.3" y="138.37" width="1.7" height="14.27" fill="#ead4c8"/>
<rect x="453.7" y="138.37" width="3.1" height="14.27" fill="#e8d6cc"/>
<rect x="456.5" y="138.37" width="1.7" height="14.27" fill="#ead5c9"/>
<rect x="457.9" y="138.37" width="3.1" height="14.27" fill="#ebd3c6"/>
<rect x="460.8" y="138.37" width="1.7" height="14.27" fill="#ead5c9"/>
<rect x="462.2" y="138.37" width="1.7" height="14.27" fill="#e7d7ce"/>
<rect x="463.6" y="138.37" width="3.1" height="14.27" fill="#ebd3c6"/>
<rect x="466.4" y="138.37" width="1.7" height="14.27" fill="#e5d8d1"/>
<rect x="467.8" y="138.37" width="3.1" height="14.27" fill="#e9d5cb"/>
<rect x="470.7" y="138.37" width="1.7" height="14.27" fill="#e8d6cc"/>
<rect x="472.1" y="138.37" width="1.7" height="14.27" fill="#e5d8d1"/>
<rect x="473.5" y="138.37" width="3.1" height="14.27" fill="#ead4c8"/>
<rect x="476.3" y="138.37" width="1.7" height="14.27" fill="#e8d6cc"/>
<rect x="477.7" y="138.37" width="3.1" height="14.27" fill="#e5d8d1"/>
<rect x="480.6" y="138.37" width="1.7" height="14.27" fill="#e9d5cb"/>
<rect x="482.0" y="138.37" width="1.7" height="14.27" fill="#e6d7cf"/>
<rect x="483.4" y="138.37" width="3.1" height="14.27" fill="#e3d9d3"/>
<rect x="486.2" y="138.37" width="1.7" height="14.27" fill="#e5d8d1"/>
<rect x="487.6" y="138.37" width="1.7" height="14.27" fill="#e8d6cc"/>
<rect x="489.0" y="138.37" width="1.7" height="14.27" fill="#e7d7ce"/>
<rect x="490.5" y="138.37" width="1.7" height="14.27" fill="#e4d9d2"/>
<rect x="491.9" y="138.37" width="1.7" height="14.27" fill="#dadcdf"/>
<rect x="493.3" y="138.37" width="3.1" height="14.27" fill="#d5dbe5"/>
<rect x="496.1" y="138.37" width="1.7" height="14.27" fill="#d6dbe4"/>
<rect x="497.5" y="138.37" width="1.7" height="14.27" fill="#d4dbe5"/>
<rect x="498.9" y="138.37" width="1.7" height="14.27" fill="#d8dce2"/>
<rect x="500.4" y="138.37" width="1.7" height="14.27" fill="#e2dad5"/>
<rect x="501.8" y="138.37" width="1.7" height="14.27" fill="#e3d9d3"/>
<rect x="503.2" y="138.37" width="4.5" height="14.27" fill="#e4d9d2"/>
<rect x="507.4" y="138.37" width="3.1" height="14.27" fill="#e1dad6"/>
<rect x="510.3" y="138.37" width="1.7" height="14.27" fill="#dedcdb"/>
<rect x="511.7" y="138.37" width="1.7" height="14.27" fill="#dcdddd"/>
<rect x="513.1" y="138.37" width="3.1" height="14.27" fill="#d6dbe4"/>
<rect x="515.9" y="138.37" width="1.7" height="14.27" fill="#d4dbe5"/>
<rect x="517.3" y="138.37" width="1.7" height="14.27" fill="#d6dbe4"/>
<rect x="518.7" y="138.37" width="1.7" height="14.27" fill="#d9dce1"/>
<rect x="520.1" y="138.37" width="1.7" height="14.27" fill="#dedcdb"/>
<rect x="521.6" y="138.37" width="1.7" height="14.27" fill="#e4d9d2"/>
<rect x="523.0" y="138.37" width="3.1" height="14.27" fill="#e1dad6"/>
<rect x="525.8" y="138.37" width="1.7" height="14.27" fill="#e4d9d2"/>
<rect x="527.2" y="138.37" width="3.1" height="14.27" fill="#dfdbd9"/>
<rect x="530.0" y="138.37" width="1.7" height="14.27" fill="#e6d7cf"/>
<rect x="531.5" y="138.37" width="1.7" height="14.27" fill="#e2dad5"/>
<rect x="532.9" y="138.37" width="3.1" height="14.27" fill="#dfdbd9"/>
<rect x="422.6" y="152.33" width="1.7" height="14.27" fill="#d1dae8"/>
<rect x="424.0" y="152.33" width="3.1" height="14.27" fill="#d2dae7"/>
<rect x="426.8" y="152.33" width="1.7" height="14.27" fill="#d8dce2"/>
<rect x="428.3" y="152.33" width="3.1" height="14.27" fill="#d2dae7"/>
<rect x="431.1" y="152.33" width="1.7" height="14.27" fill="#d6dbe4"/>
<rect x="432.5" y="152.33" width="1.7" height="14.27" fill="#d4dbe5"/>
<rect x="433.9" y="152.33" width="3.1" height="14.27" fill="#d6dbe4"/>
<rect x="436.7" y="152.33" width="1.7" height="14.27" fill="#d1dae8"/>
<rect x="438.2" y="152.33" width="3.1" height="14.27" fill="#d3dbe6"/>
<rect x="441.0" y="152.33" width="1.7" height="14.27" fill="#d7dce3"/>
<rect x="442.4" y="152.33" width="1.7" height="14.27" fill="#d6dbe4"/>
<rect x="443.8" y="152.33" width="3.1" height="14.27" fill="#d9dce1"/>
<rect x="446.6" y="152.33" width="1.7" height="14.27" fill="#d4dbe5"/>
<rect x="448.0" y="152.33" width="3.1" height="14.27" fill="#d6dbe4"/>
<rect x="450.9" y="152.33" width="1.7" height="14.27" fill="#e2dad5"/>
<rect x="452.3" y="152.33" width="4.5" height="14.27" fill="#e5d8d1"/>
<rect x="456.5" y="152.33" width="4.5" height="14.27" fill="#e8d6cc"/>
<rect x="460.8" y="152.33" width="1.7" height="14.27" fill="#ead4c8"/>
<rect x="462.2" y="152.33" width="1.7" height="14.27" fill="#e9d5cb"/>
<rect x="463.6" y="152.33" width="1.7" height="14.27" fill="#e7d7ce"/>
<rect x="465.0" y="152.33" width="1.7" height="14.27" fill="#e8d6cc"/>
<rect x="466.4" y="152.33" width="1.7" height="14.27" fill="#ead5c9"/>
<rect x="467.8" y="152.33" width="1.7" height="14.27" fill="#edd1c2"/>
<rect x="469.3" y="152.33" width="1.7" height="14.27" fill="#eed0c0"/>
<rect x="470.7" y="152.33" width="1.7" height="14.27" fill="#edd2c3"/>
<rect x="472.1" y="152.33" width="1.7" height="14.27" fill="#e6d7cf"/>
<rect x="473.5" y="152.33" width="3.1" height="14.27" fill="#ead4c8"/>
<rect x="476.3" y="152.33" width="1.7" height="14.27" fill="#ead5c9"/>
<rect x="477.7" y="152.33" width="3.1" height="14.27" fill="#ecd3c5"/>
<rect x="480.6" y="152.33" width="1.7" height="14.27" fill="#ead4c8"/>
<rect x="482.0" y="152.33" width="1.7" height="14.27" fill="#efcfbf"/>
<rect x="483.4" y="152.33" width="4.5" height="14.27" fill="#edd2c3"/>
<rect x="487.6" y="152.33" width="4.5" height="14.27" fill="#ebd3c6"/>
<rect x="491.9" y="152.33" width="1.7" height="14.27" fill="#ecd3c5"/>
<rect x="493.3" y="152.33" width="3.1" height="14.27" fill="#edd1c2"/>
<rect x="496.1" y="152.33" width="1.7" height="14.27" fill="#ecd3c5"/>
<rect x="497.5" y="152.33" width="3.1" height="14.27" fill="#ead4c8"/>
<rect x="500.4" y="152.33" width="1.7" height="14.27" fill="#edd1c2"/>
<rect x="501.8" y="152.33" width="3.1" height="14.27" fill="#ebd3c6"/>
<rect x="504.6" y="152.33" width="1.7" height="14.27" fill="#e9d5cb"/>
<rect x="506.0" y="152.33" width="1.7" height="14.27" fill="#e3d9d3"/>
<rect x="507.4" y="152.33" width="3.1" height="14.27" fill="#e2dad5"/>
<rect x="510.3" y="152.33" width="1.7" height="14.27" fill="#e1dad6"/>
<rect x="511.7" y="152.33" width="1.7" height="14.27" fill="#dedcdb"/>
<rect x="513.1" y="152.33" width="3.1" height="14.27" fill="#e5d8d1"/>
<rect x="515.9" y="152.33" width="1.7" height="14.27" fill="#e4d9d2"/>
<rect x="517.3" y="152.33" width="3.1" height="14.27" fill="#e2dad5"/>
<rect x="520.1" y="152.33" width="1.7" height="14.27" fill="#e5d8d1"/>
<rect x="521.6" y="152.33" width="3.1" height="14.27" fill="#e4d9d2"/>
<rect x="524.4" y="152.33" width="1.7" height="14.27" fill="#e0dbd8"/>
<rect x="525.8" y="152.33" width="4.5" height="14.27" fill="#d4dbe5"/>
<rect x="530.0" y="152.33" width="1.7" height="14.27" fill="#d6dbe4"/>
<rect x="531.5" y="152.33" width="1.7" height="14.27" fill="#d8dce2"/>
<rect x="532.9" y="152.33" width="3.1" height="14.27" fill="#d9dce1"/>
<line x1="451.20" y1="82.50" x2="451.20" y2="166.30" stroke="#111" stroke-width="1.1"/>
<line x1="422.60" y1="82.50" x2="422.60" y2="166.80" stroke="#111" stroke-width="1.0"/>
<line x1="422.10" y1="166.30" x2="535.70" y2="166.30" stroke="#111" stroke-width="1.0"/>
<line x1="419.60" y1="89.48" x2="422.60" y2="89.48" stroke="#111" stroke-width="0.9"/>
<text x="418.20" y="93.38" font-size="11.5" text-anchor="end" font-weight="normal" font-style="normal" fill="#000">1</text>
<line x1="419.60" y1="103.45" x2="422.60" y2="103.45" stroke="#111" stroke-width="0.9"/>
<text x="418.20" y="107.35" font-size="11.5" text-anchor="end" font-weight="normal" font-style="normal" fill="#000">2</text>
<line x1="419.60" y1="117.42" x2="422.60" y2="117.42" stroke="#111" stroke-width="0.9"/>
<text x="418.20" y="121.32" font-size="11.5" text-anchor="end" font-weight="normal" font-style="normal" fill="#000">3</text>
<line x1="419.60" y1="131.38" x2="422.60" y2="131.38" stroke="#111" stroke-width="0.9"/>
<text x="418.20" y="135.28" font-size="11.5" text-anchor="end" font-weight="normal" font-style="normal" fill="#000">4</text>
<line x1="419.60" y1="145.35" x2="422.60" y2="145.35" stroke="#111" stroke-width="0.9"/>
<text x="418.20" y="149.25" font-size="11.5" text-anchor="end" font-weight="normal" font-style="normal" fill="#000">5</text>
<line x1="419.60" y1="159.32" x2="422.60" y2="159.32" stroke="#111" stroke-width="0.9"/>
<text x="418.20" y="163.22" font-size="11.5" text-anchor="end" font-weight="normal" font-style="normal" fill="#000">6</text>
<line x1="423.25" y1="166.30" x2="423.25" y2="168.90" stroke="#111" stroke-width="0.9"/>
<line x1="451.00" y1="166.30" x2="451.00" y2="168.90" stroke="#111" stroke-width="0.9"/>
<line x1="506.50" y1="166.30" x2="506.50" y2="168.90" stroke="#111" stroke-width="0.9"/>
<text x="423.25" y="179.80" font-size="11.5" text-anchor="middle" font-weight="normal" font-style="normal" fill="#000">10</text>
<text x="416.95" y="179.80" font-size="11.5" text-anchor="end" font-weight="normal" font-style="normal" fill="#000">−</text>
<text x="451.00" y="179.80" font-size="11.5" text-anchor="middle" font-weight="normal" font-style="normal" fill="#000">0</text>
<text x="506.50" y="179.80" font-size="11.5" text-anchor="middle" font-weight="normal" font-style="normal" fill="#000">20</text>
<text x="476.60" y="193.50" font-size="11.5" text-anchor="middle" font-weight="normal" font-style="normal" fill="#000">Time (s)</text>
<text x="393.60" y="126.40" font-size="12.0" text-anchor="middle" font-weight="normal" font-style="normal" fill="#000" transform="rotate(-90 393.6 126.4)">Sorted trials</text>
<rect x="562.9" y="82.40" width="3.1" height="5.55" fill="#e1dad6"/>
<rect x="565.7" y="82.40" width="4.5" height="5.55" fill="#dfdbd9"/>
<rect x="570.0" y="82.40" width="6.0" height="5.55" fill="#e3d9d3"/>
<rect x="575.6" y="82.40" width="6.0" height="5.55" fill="#dfdbd9"/>
<rect x="581.3" y="82.40" width="6.0" height="5.55" fill="#e0dbd8"/>
<rect x="586.9" y="82.40" width="6.0" height="5.55" fill="#dadcdf"/>
<rect x="592.6" y="82.40" width="1.7" height="5.55" fill="#e1dad6"/>
<rect x="594.0" y="82.40" width="3.1" height="5.55" fill="#e2dad5"/>
<rect x="596.8" y="82.40" width="1.7" height="5.55" fill="#dfdbd9"/>
<rect x="598.2" y="82.40" width="4.5" height="5.55" fill="#e0dbd8"/>
<rect x="602.4" y="82.40" width="3.1" height="5.55" fill="#e4d9d2"/>
<rect x="605.3" y="82.40" width="1.7" height="5.55" fill="#e5d8d1"/>
<rect x="606.7" y="82.40" width="1.7" height="5.55" fill="#e6d7cf"/>
<rect x="608.1" y="82.40" width="1.7" height="5.55" fill="#e7d7ce"/>
<rect x="609.5" y="82.40" width="1.7" height="5.55" fill="#e8d6cc"/>
<rect x="610.9" y="82.40" width="1.7" height="5.55" fill="#e9d5cb"/>
<rect x="612.3" y="82.40" width="3.1" height="5.55" fill="#ead5c9"/>
<rect x="615.2" y="82.40" width="1.7" height="5.55" fill="#ecd3c5"/>
<rect x="616.6" y="82.40" width="3.1" height="5.55" fill="#edd2c3"/>
<rect x="619.4" y="82.40" width="4.5" height="5.55" fill="#eed0c0"/>
<rect x="623.6" y="82.40" width="6.0" height="5.55" fill="#edd2c3"/>
<rect x="629.3" y="82.40" width="6.0" height="5.55" fill="#efcfbf"/>
<rect x="634.9" y="82.40" width="6.0" height="5.55" fill="#eed0c0"/>
<rect x="640.6" y="82.40" width="6.0" height="5.55" fill="#ebd3c6"/>
<rect x="646.2" y="82.40" width="4.5" height="5.55" fill="#ead4c8"/>
<rect x="650.5" y="82.40" width="6.0" height="5.55" fill="#f0cdbb"/>
<rect x="656.1" y="82.40" width="1.7" height="5.55" fill="#ecd3c5"/>
<rect x="657.5" y="82.40" width="4.5" height="5.55" fill="#ebd3c6"/>
<rect x="661.8" y="82.40" width="6.0" height="5.55" fill="#eed0c0"/>
<rect x="667.4" y="82.40" width="4.5" height="5.55" fill="#edd2c3"/>
<rect x="671.7" y="82.40" width="1.7" height="5.55" fill="#ecd3c5"/>
<rect x="673.1" y="82.40" width="3.1" height="5.55" fill="#ead5c9"/>
<rect x="562.9" y="87.65" width="1.7" height="5.55" fill="#d4dbe5"/>
<rect x="564.3" y="87.65" width="3.1" height="5.55" fill="#cdd8ea"/>
<rect x="567.1" y="87.65" width="6.0" height="5.55" fill="#ced9e9"/>
<rect x="572.8" y="87.65" width="6.0" height="5.55" fill="#c8d6ec"/>
<rect x="578.4" y="87.65" width="1.7" height="5.55" fill="#cad7eb"/>
<rect x="579.9" y="87.65" width="1.7" height="5.55" fill="#ced9e9"/>
<rect x="581.3" y="87.65" width="1.7" height="5.55" fill="#d7dce3"/>
<rect x="582.7" y="87.65" width="1.7" height="5.55" fill="#dadcdf"/>
<rect x="584.1" y="87.65" width="4.5" height="5.55" fill="#dcdddd"/>
<rect x="588.3" y="87.65" width="6.0" height="5.55" fill="#e2dad5"/>
<rect x="594.0" y="87.65" width="6.0" height="5.55" fill="#d5dbe5"/>
<rect x="599.6" y="87.65" width="1.7" height="5.55" fill="#e3d9d3"/>
<rect x="601.0" y="87.65" width="1.7" height="5.55" fill="#ebd3c6"/>
<rect x="602.4" y="87.65" width="3.1" height="5.55" fill="#efcfbf"/>
<rect x="605.3" y="87.65" width="6.0" height="5.55" fill="#edd2c3"/>
<rect x="610.9" y="87.65" width="1.7" height="5.55" fill="#edd1c2"/>
<rect x="612.3" y="87.65" width="1.7" height="5.55" fill="#ead4c8"/>
<rect x="613.8" y="87.65" width="1.7" height="5.55" fill="#e9d5cb"/>
<rect x="615.2" y="87.65" width="1.7" height="5.55" fill="#e6d7cf"/>
<rect x="616.6" y="87.65" width="3.1" height="5.55" fill="#e7d7ce"/>
<rect x="619.4" y="87.65" width="1.7" height="5.55" fill="#e8d6cc"/>
<rect x="620.8" y="87.65" width="3.1" height="5.55" fill="#ebd3c6"/>
<rect x="623.6" y="87.65" width="3.1" height="5.55" fill="#ecd3c5"/>
<rect x="626.5" y="87.65" width="1.7" height="5.55" fill="#efcebd"/>
<rect x="627.9" y="87.65" width="1.7" height="5.55" fill="#f0cdbb"/>
<rect x="629.3" y="87.65" width="3.1" height="5.55" fill="#f1cdba"/>
<rect x="632.1" y="87.65" width="15.8" height="5.55" fill="#efcfbf"/>
<rect x="647.6" y="87.65" width="1.7" height="5.55" fill="#ebd3c6"/>
<rect x="649.1" y="87.65" width="1.7" height="5.55" fill="#ead4c8"/>
<rect x="650.5" y="87.65" width="1.7" height="5.55" fill="#e9d5cb"/>
<rect x="651.9" y="87.65" width="1.7" height="5.55" fill="#e7d7ce"/>
<rect x="653.3" y="87.65" width="6.0" height="5.55" fill="#ead4c8"/>
<rect x="659.0" y="87.65" width="6.0" height="5.55" fill="#e9d5cb"/>
<rect x="664.6" y="87.65" width="4.5" height="5.55" fill="#e6d7cf"/>
<rect x="668.8" y="87.65" width="6.0" height="5.55" fill="#e9d5cb"/>
<rect x="674.5" y="87.65" width="1.7" height="5.55" fill="#e8d6cc"/>
<rect x="562.9" y="92.90" width="1.7" height="5.55" fill="#d7dce3"/>
<rect x="564.3" y="92.90" width="6.0" height="5.55" fill="#dedcdb"/>
<rect x="570.0" y="92.90" width="6.0" height="5.55" fill="#dcdddd"/>
<rect x="575.6" y="92.90" width="6.0" height="5.55" fill="#dddcdc"/>
<rect x="581.3" y="92.90" width="6.0" height="5.55" fill="#dbdcde"/>
<rect x="586.9" y="92.90" width="4.5" height="5.55" fill="#d8dce2"/>
<rect x="591.1" y="92.90" width="1.7" height="5.55" fill="#d6dbe4"/>
<rect x="592.6" y="92.90" width="1.7" height="5.55" fill="#d4dbe5"/>
<rect x="594.0" y="92.90" width="1.7" height="5.55" fill="#d3dbe6"/>
<rect x="595.4" y="92.90" width="1.7" height="5.55" fill="#d4dbe5"/>
<rect x="596.8" y="92.90" width="3.1" height="5.55" fill="#d5dbe5"/>
<rect x="599.6" y="92.90" width="1.7" height="5.55" fill="#d8dce2"/>
<rect x="601.0" y="92.90" width="1.7" height="5.55" fill="#dfdbd9"/>
<rect x="602.4" y="92.90" width="1.7" height="5.55" fill="#e9d5cb"/>
<rect x="603.9" y="92.90" width="4.5" height="5.55" fill="#ecd3c5"/>
<rect x="608.1" y="92.90" width="6.0" height="5.55" fill="#ead5c9"/>
<rect x="613.8" y="92.90" width="4.5" height="5.55" fill="#e4d9d2"/>
<rect x="618.0" y="92.90" width="1.7" height="5.55" fill="#e9d5cb"/>
<rect x="619.4" y="92.90" width="1.7" height="5.55" fill="#e4d9d2"/>
<rect x="620.8" y="92.90" width="1.7" height="5.55" fill="#dadcdf"/>
<rect x="622.2" y="92.90" width="1.7" height="5.55" fill="#d5dbe5"/>
<rect x="623.6" y="92.90" width="6.0" height="5.55" fill="#d0d9e8"/>
<rect x="629.3" y="92.90" width="6.0" height="5.55" fill="#d5dbe5"/>
<rect x="634.9" y="92.90" width="4.5" height="5.55" fill="#d1dae8"/>
<rect x="639.2" y="92.90" width="1.7" height="5.55" fill="#d3dbe6"/>
<rect x="640.6" y="92.90" width="1.7" height="5.55" fill="#d9dce1"/>
<rect x="642.0" y="92.90" width="3.1" height="5.55" fill="#dcdddd"/>
<rect x="644.8" y="92.90" width="4.5" height="5.55" fill="#e1dad6"/>
<rect x="649.1" y="92.90" width="1.7" height="5.55" fill="#e2dad5"/>
<rect x="650.5" y="92.90" width="4.5" height="5.55" fill="#e1dad6"/>
<rect x="654.7" y="92.90" width="1.7" height="5.55" fill="#e2dad5"/>
<rect x="656.1" y="92.90" width="4.5" height="5.55" fill="#dcdddd"/>
<rect x="660.4" y="92.90" width="1.7" height="5.55" fill="#dddcdc"/>
<rect x="661.8" y="92.90" width="1.7" height="5.55" fill="#e5d8d1"/>
<rect x="663.2" y="92.90" width="1.7" height="5.55" fill="#e6d7cf"/>
<rect x="664.6" y="92.90" width="1.7" height="5.55" fill="#edd2c3"/>
<rect x="666.0" y="92.90" width="1.7" height="5.55" fill="#f5c2aa"/>
<rect x="667.4" y="92.90" width="4.5" height="5.55" fill="#f7b497"/>
<rect x="671.7" y="92.90" width="3.1" height="5.55" fill="#f5c2aa"/>
<rect x="674.5" y="92.90" width="1.7" height="5.55" fill="#efcfbf"/>
<rect x="562.9" y="98.15" width="4.5" height="5.55" fill="#dbdcde"/>
<rect x="567.1" y="98.15" width="6.0" height="5.55" fill="#dcdddd"/>
<rect x="572.8" y="98.15" width="6.0" height="5.55" fill="#d7dce3"/>
<rect x="578.4" y="98.15" width="1.7" height="5.55" fill="#e1dad6"/>
<rect x="579.9" y="98.15" width="1.7" height="5.55" fill="#dfdbd9"/>
<rect x="581.3" y="98.15" width="1.7" height="5.55" fill="#dbdcde"/>
<rect x="582.7" y="98.15" width="1.7" height="5.55" fill="#d9dce1"/>
<rect x="584.1" y="98.15" width="4.5" height="5.55" fill="#d7dce3"/>
<rect x="588.3" y="98.15" width="1.7" height="5.55" fill="#d6dbe4"/>
<rect x="589.7" y="98.15" width="1.7" height="5.55" fill="#dddcdc"/>
<rect x="591.1" y="98.15" width="3.1" height="5.55" fill="#e0dbd8"/>
<rect x="594.0" y="98.15" width="6.0" height="5.55" fill="#e2dad5"/>
<rect x="599.6" y="98.15" width="3.1" height="5.55" fill="#dddcdc"/>
<rect x="602.4" y="98.15" width="1.7" height="5.55" fill="#e1dad6"/>
<rect x="603.9" y="98.15" width="1.7" height="5.55" fill="#e7d7ce"/>
<rect x="605.3" y="98.15" width="3.1" height="5.55" fill="#edd2c3"/>
<rect x="608.1" y="98.15" width="3.1" height="5.55" fill="#ecd3c5"/>
<rect x="610.9" y="98.15" width="4.5" height="5.55" fill="#efcfbf"/>
<rect x="615.2" y="98.15" width="1.7" height="5.55" fill="#e7d7ce"/>
<rect x="616.6" y="98.15" width="4.5" height="5.55" fill="#e6d7cf"/>
<rect x="620.8" y="98.15" width="6.0" height="5.55" fill="#ead5c9"/>
<rect x="626.5" y="98.15" width="3.1" height="5.55" fill="#ebd3c6"/>
<rect x="629.3" y="98.15" width="3.1" height="5.55" fill="#ead4c8"/>
<rect x="632.1" y="98.15" width="6.0" height="5.55" fill="#edd2c3"/>
<rect x="637.8" y="98.15" width="4.5" height="5.55" fill="#edd1c2"/>
<rect x="642.0" y="98.15" width="6.0" height="5.55" fill="#e8d6cc"/>
<rect x="647.6" y="98.15" width="1.7" height="5.55" fill="#e9d5cb"/>
<rect x="649.1" y="98.15" width="3.1" height="5.55" fill="#edd2c3"/>
<rect x="651.9" y="98.15" width="1.7" height="5.55" fill="#e9d5cb"/>
<rect x="653.3" y="98.15" width="4.5" height="5.55" fill="#ead4c8"/>
<rect x="657.5" y="98.15" width="1.7" height="5.55" fill="#ead5c9"/>
<rect x="659.0" y="98.15" width="10.2" height="5.55" fill="#e7d7ce"/>
<rect x="668.8" y="98.15" width="6.0" height="5.55" fill="#ead4c8"/>
<rect x="674.5" y="98.15" width="1.7" height="5.55" fill="#ecd3c5"/>
<rect x="562.9" y="103.40" width="1.7" height="5.55" fill="#dfdbd9"/>
<rect x="564.3" y="103.40" width="1.7" height="5.55" fill="#e1dad6"/>
<rect x="565.7" y="103.40" width="1.7" height="5.55" fill="#e3d9d3"/>
<rect x="567.1" y="103.40" width="1.7" height="5.55" fill="#e5d8d1"/>
<rect x="568.5" y="103.40" width="1.7" height="5.55" fill="#dddcdc"/>
<rect x="570.0" y="103.40" width="3.1" height="5.55" fill="#dfdbd9"/>
<rect x="572.8" y="103.40" width="1.7" height="5.55" fill="#dcdddd"/>
<rect x="574.2" y="103.40" width="1.7" height="5.55" fill="#e0dbd8"/>
<rect x="575.6" y="103.40" width="1.7" height="5.55" fill="#dedcdb"/>
<rect x="577.0" y="103.40" width="1.7" height="5.55" fill="#dcdddd"/>
<rect x="578.4" y="103.40" width="3.1" height="5.55" fill="#d8dce2"/>
<rect x="581.3" y="103.40" width="3.1" height="5.55" fill="#d7dce3"/>
<rect x="584.1" y="103.40" width="1.7" height="5.55" fill="#e2dad5"/>
<rect x="585.5" y="103.40" width="3.1" height="5.55" fill="#e1dad6"/>
<rect x="588.3" y="103.40" width="1.7" height="5.55" fill="#e0dbd8"/>
<rect x="589.7" y="103.40" width="3.1" height="5.55" fill="#dbdcde"/>
<rect x="592.6" y="103.40" width="3.1" height="5.55" fill="#dcdddd"/>
<rect x="595.4" y="103.40" width="6.0" height="5.55" fill="#dadcdf"/>
<rect x="601.0" y="103.40" width="1.7" height="5.55" fill="#d9dce1"/>
<rect x="602.4" y="103.40" width="3.1" height="5.55" fill="#dadcdf"/>
<rect x="605.3" y="103.40" width="6.0" height="5.55" fill="#d4dbe5"/>
<rect x="610.9" y="103.40" width="4.5" height="5.55" fill="#dedcdb"/>
<rect x="615.2" y="103.40" width="1.7" height="5.55" fill="#dfdbd9"/>
<rect x="616.6" y="103.40" width="4.5" height="5.55" fill="#e2dad5"/>
<rect x="620.8" y="103.40" width="1.7" height="5.55" fill="#e3d9d3"/>
<rect x="622.2" y="103.40" width="1.7" height="5.55" fill="#dadcdf"/>
<rect x="623.6" y="103.40" width="4.5" height="5.55" fill="#dbdcde"/>
<rect x="627.9" y="103.40" width="3.1" height="5.55" fill="#e0dbd8"/>
<rect x="630.7" y="103.40" width="7.4" height="5.55" fill="#e1dad6"/>
<rect x="637.8" y="103.40" width="6.0" height="5.55" fill="#dadcdf"/>
<rect x="643.4" y="103.40" width="3.1" height="5.55" fill="#e3d9d3"/>
<rect x="646.2" y="103.40" width="3.1" height="5.55" fill="#e4d9d2"/>
<rect x="649.1" y="103.40" width="3.1" height="5.55" fill="#e7d7ce"/>
<rect x="651.9" y="103.40" width="1.7" height="5.55" fill="#e8d6cc"/>
<rect x="653.3" y="103.40" width="1.7" height="5.55" fill="#e9d5cb"/>
<rect x="654.7" y="103.40" width="1.7" height="5.55" fill="#e6d7cf"/>
<rect x="656.1" y="103.40" width="1.7" height="5.55" fill="#e7d7ce"/>
<rect x="657.5" y="103.40" width="3.1" height="5.55" fill="#e8d6cc"/>
<rect x="660.4" y="103.40" width="4.5" height="5.55" fill="#e9d5cb"/>
<rect x="664.6" y="103.40" width="6.0" height="5.55" fill="#ebd3c6"/>
<rect x="670.2" y="103.40" width="3.1" height="5.55" fill="#e4d9d2"/>
<rect x="673.1" y="103.40" width="1.7" height="5.55" fill="#e2dad5"/>
<rect x="674.5" y="103.40" width="1.7" height="5.55" fill="#dfdbd9"/>
<rect x="562.9" y="108.65" width="6.0" height="5.55" fill="#d7dce3"/>
<rect x="568.5" y="108.65" width="6.0" height="5.55" fill="#d1dae8"/>
<rect x="574.2" y="108.65" width="6.0" height="5.55" fill="#d8dce2"/>
<rect x="579.9" y="108.65" width="4.5" height="5.55" fill="#d5dbe5"/>
<rect x="584.1" y="108.65" width="6.0" height="5.55" fill="#dadcdf"/>
<rect x="589.7" y="108.65" width="1.7" height="5.55" fill="#d4dbe5"/>
<rect x="591.1" y="108.65" width="1.7" height="5.55" fill="#e3d9d3"/>
<rect x="592.6" y="108.65" width="3.1" height="5.55" fill="#efcebd"/>
<rect x="595.4" y="108.65" width="6.0" height="5.55" fill="#f3c7b1"/>
<rect x="601.0" y="108.65" width="6.0" height="5.55" fill="#f0cdbb"/>
<rect x="606.7" y="108.65" width="1.7" height="5.55" fill="#f2cab5"/>
<rect x="608.1" y="108.65" width="1.7" height="5.55" fill="#f2cbb7"/>
<rect x="609.5" y="108.65" width="1.7" height="5.55" fill="#f1cdba"/>
<rect x="610.9" y="108.65" width="1.7" height="5.55" fill="#edd2c3"/>
<rect x="612.3" y="108.65" width="3.1" height="5.55" fill="#ead4c8"/>
<rect x="615.2" y="108.65" width="1.7" height="5.55" fill="#edd2c3"/>
<rect x="616.6" y="108.65" width="1.7" height="5.55" fill="#efcfbf"/>
<rect x="618.0" y="108.65" width="1.7" height="5.55" fill="#f1cdba"/>
<rect x="619.4" y="108.65" width="3.1" height="5.55" fill="#f1ccb8"/>
<rect x="622.2" y="108.65" width="6.0" height="5.55" fill="#f3c7b1"/>
<rect x="627.9" y="108.65" width="1.7" height="5.55" fill="#f1cdba"/>
<rect x="629.3" y="108.65" width="1.7" height="5.55" fill="#ecd3c5"/>
<rect x="630.7" y="108.65" width="3.1" height="5.55" fill="#ead5c9"/>
<rect x="633.5" y="108.65" width="4.5" height="5.55" fill="#e9d5cb"/>
<rect x="637.8" y="108.65" width="3.1" height="5.55" fill="#e6d7cf"/>
<rect x="640.6" y="108.65" width="3.1" height="5.55" fill="#e7d7ce"/>
<rect x="643.4" y="108.65" width="1.7" height="5.55" fill="#eed0c0"/>
<rect x="644.8" y="108.65" width="1.7" height="5.55" fill="#f0cdbb"/>
<rect x="646.2" y="108.65" width="1.7" height="5.55" fill="#f2c9b4"/>
<rect x="647.6" y="108.65" width="1.7" height="5.55" fill="#f2cab5"/>
<rect x="649.1" y="108.65" width="1.7" height="5.55" fill="#edd1c2"/>
<rect x="650.5" y="108.65" width="4.5" height="5.55" fill="#ebd3c6"/>
<rect x="654.7" y="108.65" width="1.7" height="5.55" fill="#e8d6cc"/>
<rect x="656.1" y="108.65" width="4.5" height="5.55" fill="#e7d7ce"/>
<rect x="660.4" y="108.65" width="4.5" height="5.55" fill="#e9d5cb"/>
<rect x="664.6" y="108.65" width="7.4" height="5.55" fill="#e4d9d2"/>
<rect x="671.7" y="108.65" width="4.5" height="5.55" fill="#e3d9d3"/>
<rect x="562.9" y="113.90" width="1.7" height="5.55" fill="#dedcdb"/>
<rect x="564.3" y="113.90" width="1.7" height="5.55" fill="#e0dbd8"/>
<rect x="565.7" y="113.90" width="1.7" height="5.55" fill="#e2dad5"/>
<rect x="567.1" y="113.90" width="1.7" height="5.55" fill="#e4d9d2"/>
<rect x="568.5" y="113.90" width="1.7" height="5.55" fill="#e2dad5"/>
<rect x="570.0" y="113.90" width="3.1" height="5.55" fill="#e3d9d3"/>
<rect x="572.8" y="113.90" width="1.7" height="5.55" fill="#e7d7ce"/>
<rect x="574.2" y="113.90" width="1.7" height="5.55" fill="#e5d8d1"/>
<rect x="575.6" y="113.90" width="1.7" height="5.55" fill="#e3d9d3"/>
<rect x="577.0" y="113.90" width="1.7" height="5.55" fill="#e4d9d2"/>
<rect x="578.4" y="113.90" width="1.7" height="5.55" fill="#e8d6cc"/>
<rect x="579.9" y="113.90" width="4.5" height="5.55" fill="#ead5c9"/>
<rect x="584.1" y="113.90" width="4.5" height="5.55" fill="#e7d7ce"/>
<rect x="588.3" y="113.90" width="1.7" height="5.55" fill="#ead4c8"/>
<rect x="589.7" y="113.90" width="1.7" height="5.55" fill="#f2cbb7"/>
<rect x="591.1" y="113.90" width="4.5" height="5.55" fill="#f3c7b1"/>
<rect x="595.4" y="113.90" width="4.5" height="5.55" fill="#f1ccb8"/>
<rect x="599.6" y="113.90" width="3.1" height="5.55" fill="#f2cbb7"/>
<rect x="602.4" y="113.90" width="1.7" height="5.55" fill="#efcfbf"/>
<rect x="603.9" y="113.90" width="1.7" height="5.55" fill="#e7d7ce"/>
<rect x="605.3" y="113.90" width="6.0" height="5.55" fill="#e5d8d1"/>
<rect x="610.9" y="113.90" width="6.0" height="5.55" fill="#e3d9d3"/>
<rect x="616.6" y="113.90" width="3.1" height="5.55" fill="#e6d7cf"/>
<rect x="619.4" y="113.90" width="1.7" height="5.55" fill="#e3d9d3"/>
<rect x="620.8" y="113.90" width="1.7" height="5.55" fill="#dcdddd"/>
<rect x="622.2" y="113.90" width="4.5" height="5.55" fill="#d2dae7"/>
<rect x="626.5" y="113.90" width="1.7" height="5.55" fill="#dbdcde"/>
<rect x="627.9" y="113.90" width="1.7" height="5.55" fill="#dedcdb"/>
<rect x="629.3" y="113.90" width="1.7" height="5.55" fill="#e5d8d1"/>
<rect x="630.7" y="113.90" width="1.7" height="5.55" fill="#e8d6cc"/>
<rect x="632.1" y="113.90" width="6.0" height="5.55" fill="#e0dbd8"/>
<rect x="637.8" y="113.90" width="6.0" height="5.55" fill="#e2dad5"/>
<rect x="643.4" y="113.90" width="6.0" height="5.55" fill="#dedcdb"/>
<rect x="649.1" y="113.90" width="4.5" height="5.55" fill="#e5d8d1"/>
<rect x="653.3" y="113.90" width="11.6" height="5.55" fill="#e7d7ce"/>
<rect x="664.6" y="113.90" width="6.0" height="5.55" fill="#e6d7cf"/>
<rect x="670.2" y="113.90" width="6.0" height="5.55" fill="#dddcdc"/>
<rect x="562.9" y="119.15" width="3.1" height="5.55" fill="#d6dbe4"/>
<rect x="565.7" y="119.15" width="6.0" height="5.55" fill="#d3dbe6"/>
<rect x="571.4" y="119.15" width="1.7" height="5.55" fill="#d5dbe5"/>
<rect x="572.8" y="119.15" width="1.7" height="5.55" fill="#dadcdf"/>
<rect x="574.2" y="119.15" width="3.1" height="5.55" fill="#dcdddd"/>
<rect x="577.0" y="119.15" width="4.5" height="5.55" fill="#dedcdb"/>
<rect x="581.3" y="119.15" width="6.0" height="5.55" fill="#d9dce1"/>
<rect x="586.9" y="119.15" width="11.6" height="5.55" fill="#dadcdf"/>
<rect x="598.2" y="119.15" width="10.2" height="5.55" fill="#dfdbd9"/>
<rect x="608.1" y="119.15" width="6.0" height="5.55" fill="#e0dbd8"/>
<rect x="613.8" y="119.15" width="6.0" height="5.55" fill="#e2dad5"/>
<rect x="619.4" y="119.15" width="6.0" height="5.55" fill="#d9dce1"/>
<rect x="625.0" y="119.15" width="6.0" height="5.55" fill="#dcdddd"/>
<rect x="630.7" y="119.15" width="4.5" height="5.55" fill="#dfdbd9"/>
<rect x="634.9" y="119.15" width="1.7" height="5.55" fill="#d9dce1"/>
<rect x="636.4" y="119.15" width="4.5" height="5.55" fill="#dadcdf"/>
<rect x="640.6" y="119.15" width="6.0" height="5.55" fill="#dddcdc"/>
<rect x="646.2" y="119.15" width="6.0" height="5.55" fill="#e2dad5"/>
<rect x="651.9" y="119.15" width="10.2" height="5.55" fill="#e3d9d3"/>
<rect x="661.8" y="119.15" width="1.7" height="5.55" fill="#dddcdc"/>
<rect x="663.2" y="119.15" width="1.7" height="5.55" fill="#d8dce2"/>
<rect x="664.6" y="119.15" width="3.1" height="5.55" fill="#d5dbe5"/>
<rect x="667.4" y="119.15" width="3.1" height="5.55" fill="#d4dbe5"/>
<rect x="670.2" y="119.15" width="1.7" height="5.55" fill="#d7dce3"/>
<rect x="671.7" y="119.15" width="1.7" height="5.55" fill="#dcdddd"/>
<rect x="673.1" y="119.15" width="3.1" height="5.55" fill="#e3d9d3"/>
<rect x="562.9" y="124.40" width="4.5" height="5.55" fill="#e4d9d2"/>
<rect x="567.1" y="124.40" width="6.0" height="5.55" fill="#dedcdb"/>
<rect x="572.8" y="124.40" width="6.0" height="5.55" fill="#dddcdc"/>
<rect x="578.4" y="124.40" width="6.0" height="5.55" fill="#dfdbd9"/>
<rect x="584.1" y="124.40" width="10.2" height="5.55" fill="#e1dad6"/>
<rect x="594.0" y="124.40" width="6.0" height="5.55" fill="#e0dbd8"/>
<rect x="599.6" y="124.40" width="3.1" height="5.55" fill="#e2dad5"/>
<rect x="602.4" y="124.40" width="1.7" height="5.55" fill="#e6d7cf"/>
<rect x="603.9" y="124.40" width="1.7" height="5.55" fill="#edd2c3"/>
<rect x="605.3" y="124.40" width="6.0" height="5.55" fill="#ead5c9"/>
<rect x="610.9" y="124.40" width="4.5" height="5.55" fill="#ecd3c5"/>
<rect x="615.2" y="124.40" width="6.0" height="5.55" fill="#eed0c0"/>
<rect x="620.8" y="124.40" width="6.0" height="5.55" fill="#ebd3c6"/>
<rect x="626.5" y="124.40" width="1.7" height="5.55" fill="#ead4c8"/>
<rect x="627.9" y="124.40" width="1.7" height="5.55" fill="#e9d5cb"/>
<rect x="629.3" y="124.40" width="1.7" height="5.55" fill="#e5d8d1"/>
<rect x="630.7" y="124.40" width="1.7" height="5.55" fill="#e1dad6"/>
<rect x="632.1" y="124.40" width="1.7" height="5.55" fill="#dedcdb"/>
<rect x="633.5" y="124.40" width="4.5" height="5.55" fill="#dcdddd"/>
<rect x="637.8" y="124.40" width="4.5" height="5.55" fill="#dddcdc"/>
<rect x="642.0" y="124.40" width="6.0" height="5.55" fill="#dfdbd9"/>
<rect x="647.6" y="124.40" width="6.0" height="5.55" fill="#dcdddd"/>
<rect x="653.3" y="124.40" width="6.0" height="5.55" fill="#e0dbd8"/>
<rect x="659.0" y="124.40" width="3.1" height="5.55" fill="#e5d8d1"/>
<rect x="661.8" y="124.40" width="1.7" height="5.55" fill="#e3d9d3"/>
<rect x="663.2" y="124.40" width="1.7" height="5.55" fill="#dedcdb"/>
<rect x="664.6" y="124.40" width="4.5" height="5.55" fill="#d6dbe4"/>
<rect x="668.8" y="124.40" width="3.1" height="5.55" fill="#dbdcde"/>
<rect x="671.7" y="124.40" width="1.7" height="5.55" fill="#dddcdc"/>
<rect x="673.1" y="124.40" width="1.7" height="5.55" fill="#dfdbd9"/>
<rect x="674.5" y="124.40" width="1.7" height="5.55" fill="#dddcdc"/>
<rect x="562.9" y="129.65" width="1.7" height="5.55" fill="#d7dce3"/>
<rect x="564.3" y="129.65" width="1.7" height="5.55" fill="#d9dce1"/>
<rect x="565.7" y="129.65" width="1.7" height="5.55" fill="#dadcdf"/>
<rect x="567.1" y="129.65" width="1.7" height="5.55" fill="#e2dad5"/>
<rect x="568.5" y="129.65" width="4.5" height="5.55" fill="#e3d9d3"/>
<rect x="572.8" y="129.65" width="1.7" height="5.55" fill="#dcdddd"/>
<rect x="574.2" y="129.65" width="1.7" height="5.55" fill="#dbdcde"/>
<rect x="575.6" y="129.65" width="1.7" height="5.55" fill="#d7dce3"/>
<rect x="577.0" y="129.65" width="3.1" height="5.55" fill="#dedcdb"/>
<rect x="579.9" y="129.65" width="1.7" height="5.55" fill="#dddcdc"/>
<rect x="581.3" y="129.65" width="1.7" height="5.55" fill="#dcdddd"/>
<rect x="582.7" y="129.65" width="1.7" height="5.55" fill="#d9dce1"/>
<rect x="584.1" y="129.65" width="3.1" height="5.55" fill="#d8dce2"/>
<rect x="586.9" y="129.65" width="1.7" height="5.55" fill="#d7dce3"/>
<rect x="588.3" y="129.65" width="3.1" height="5.55" fill="#ccd8ea"/>
<rect x="591.1" y="129.65" width="3.1" height="5.55" fill="#cbd8eb"/>
<rect x="594.0" y="129.65" width="6.0" height="5.55" fill="#d6dbe4"/>
<rect x="599.6" y="129.65" width="1.7" height="5.55" fill="#dbdcde"/>
<rect x="601.0" y="129.65" width="1.7" height="5.55" fill="#dedcdb"/>
<rect x="602.4" y="129.65" width="1.7" height="5.55" fill="#dfdbd9"/>
<rect x="603.9" y="129.65" width="6.0" height="5.55" fill="#d7dce3"/>
<rect x="609.5" y="129.65" width="6.0" height="5.55" fill="#dddcdc"/>
<rect x="615.2" y="129.65" width="6.0" height="5.55" fill="#d3dbe6"/>
<rect x="620.8" y="129.65" width="6.0" height="5.55" fill="#dadcdf"/>
<rect x="626.5" y="129.65" width="4.5" height="5.55" fill="#d3dbe6"/>
<rect x="630.7" y="129.65" width="6.0" height="5.55" fill="#dadcdf"/>
<rect x="636.4" y="129.65" width="6.0" height="5.55" fill="#d2dae7"/>
<rect x="642.0" y="129.65" width="4.5" height="5.55" fill="#d1dae8"/>
<rect x="646.2" y="129.65" width="1.7" height="5.55" fill="#d0d9e8"/>
<rect x="647.6" y="129.65" width="6.0" height="5.55" fill="#d9dce1"/>
<rect x="653.3" y="129.65" width="4.5" height="5.55" fill="#dedcdb"/>
<rect x="657.5" y="129.65" width="6.0" height="5.55" fill="#d5dbe5"/>
<rect x="663.2" y="129.65" width="4.5" height="5.55" fill="#dadcdf"/>
<rect x="667.4" y="129.65" width="1.7" height="5.55" fill="#d9dce1"/>
<rect x="668.8" y="129.65" width="6.0" height="5.55" fill="#d7dce3"/>
<rect x="674.5" y="129.65" width="1.7" height="5.55" fill="#d5dbe5"/>
<rect x="562.9" y="134.90" width="1.7" height="5.55" fill="#dadcdf"/>
<rect x="564.3" y="134.90" width="1.7" height="5.55" fill="#dbdcde"/>
<rect x="565.7" y="134.90" width="1.7" height="5.55" fill="#dcdddd"/>
<rect x="567.1" y="134.90" width="3.1" height="5.55" fill="#dedcdb"/>
<rect x="570.0" y="134.90" width="1.7" height="5.55" fill="#dfdbd9"/>
<rect x="571.4" y="134.90" width="1.7" height="5.55" fill="#e0dbd8"/>
<rect x="572.8" y="134.90" width="1.7" height="5.55" fill="#e1dad6"/>
<rect x="574.2" y="134.90" width="1.7" height="5.55" fill="#dcdddd"/>
<rect x="575.6" y="134.90" width="1.7" height="5.55" fill="#dddcdc"/>
<rect x="577.0" y="134.90" width="1.7" height="5.55" fill="#dfdbd9"/>
<rect x="578.4" y="134.90" width="1.7" height="5.55" fill="#e0dbd8"/>
<rect x="579.9" y="134.90" width="1.7" height="5.55" fill="#ebd3c6"/>
<rect x="581.3" y="134.90" width="4.5" height="5.55" fill="#ecd3c5"/>
<rect x="585.5" y="134.90" width="1.7" height="5.55" fill="#edd2c3"/>
<rect x="586.9" y="134.90" width="1.7" height="5.55" fill="#ebd3c6"/>
<rect x="588.3" y="134.90" width="1.7" height="5.55" fill="#e7d7ce"/>
<rect x="589.7" y="134.90" width="1.7" height="5.55" fill="#d9dce1"/>
<rect x="591.1" y="134.90" width="4.5" height="5.55" fill="#d7dce3"/>
<rect x="595.4" y="134.90" width="6.0" height="5.55" fill="#e0dbd8"/>
<rect x="601.0" y="134.90" width="6.0" height="5.55" fill="#dadcdf"/>
<rect x="606.7" y="134.90" width="6.0" height="5.55" fill="#d9dce1"/>
<rect x="612.3" y="134.90" width="4.5" height="5.55" fill="#dfdbd9"/>
<rect x="616.6" y="134.90" width="11.6" height="5.55" fill="#dbdcde"/>
<rect x="627.9" y="134.90" width="6.0" height="5.55" fill="#dfdbd9"/>
<rect x="633.5" y="134.90" width="1.7" height="5.55" fill="#dedcdb"/>
<rect x="634.9" y="134.90" width="1.7" height="5.55" fill="#dcdddd"/>
<rect x="636.4" y="134.90" width="1.7" height="5.55" fill="#dbdcde"/>
<rect x="637.8" y="134.90" width="1.7" height="5.55" fill="#d9dce1"/>
<rect x="639.2" y="134.90" width="4.5" height="5.55" fill="#d7dce3"/>
<rect x="643.4" y="134.90" width="6.0" height="5.55" fill="#ced9e9"/>
<rect x="649.1" y="134.90" width="6.0" height="5.55" fill="#cdd8ea"/>
<rect x="654.7" y="134.90" width="6.0" height="5.55" fill="#d8dce2"/>
<rect x="660.4" y="134.90" width="1.7" height="5.55" fill="#d3dbe6"/>
<rect x="661.8" y="134.90" width="1.7" height="5.55" fill="#d4dbe5"/>
<rect x="663.2" y="134.90" width="1.7" height="5.55" fill="#d6dbe4"/>
<rect x="664.6" y="134.90" width="1.7" height="5.55" fill="#d7dce3"/>
<rect x="666.0" y="134.90" width="4.5" height="5.55" fill="#dadcdf"/>
<rect x="670.2" y="134.90" width="6.0" height="5.55" fill="#d6dbe4"/>
<rect x="562.9" y="140.15" width="1.7" height="5.55" fill="#dddcdc"/>
<rect x="564.3" y="140.15" width="1.7" height="5.55" fill="#dedcdb"/>
<rect x="565.7" y="140.15" width="1.7" height="5.55" fill="#d6dbe4"/>
<rect x="567.1" y="140.15" width="1.7" height="5.55" fill="#d8dce2"/>
<rect x="568.5" y="140.15" width="1.7" height="5.55" fill="#d9dce1"/>
<rect x="570.0" y="140.15" width="1.7" height="5.55" fill="#dedcdb"/>
<rect x="571.4" y="140.15" width="1.7" height="5.55" fill="#dfdbd9"/>
<rect x="572.8" y="140.15" width="1.7" height="5.55" fill="#e1dad6"/>
<rect x="574.2" y="140.15" width="1.7" height="5.55" fill="#e2dad5"/>
<rect x="575.6" y="140.15" width="1.7" height="5.55" fill="#e3d9d3"/>
<rect x="577.0" y="140.15" width="1.7" height="5.55" fill="#e5d8d1"/>
<rect x="578.4" y="140.15" width="1.7" height="5.55" fill="#e6d7cf"/>
<rect x="579.9" y="140.15" width="1.7" height="5.55" fill="#e8d6cc"/>
<rect x="581.3" y="140.15" width="6.0" height="5.55" fill="#edd2c3"/>
<rect x="586.9" y="140.15" width="1.7" height="5.55" fill="#e1dad6"/>
<rect x="588.3" y="140.15" width="1.7" height="5.55" fill="#d9dce1"/>
<rect x="589.7" y="140.15" width="1.7" height="5.55" fill="#d2dae7"/>
<rect x="591.1" y="140.15" width="1.7" height="5.55" fill="#cdd8ea"/>
<rect x="592.6" y="140.15" width="6.0" height="5.55" fill="#d3dbe6"/>
<rect x="598.2" y="140.15" width="1.7" height="5.55" fill="#d4dbe5"/>
<rect x="599.6" y="140.15" width="1.7" height="5.55" fill="#d5dbe5"/>
<rect x="601.0" y="140.15" width="1.7" height="5.55" fill="#d6dbe4"/>
<rect x="602.4" y="140.15" width="1.7" height="5.55" fill="#d9dce1"/>
<rect x="603.9" y="140.15" width="1.7" height="5.55" fill="#d8dce2"/>
<rect x="605.3" y="140.15" width="3.1" height="5.55" fill="#d7dce3"/>
<rect x="608.1" y="140.15" width="1.7" height="5.55" fill="#d6dbe4"/>
<rect x="609.5" y="140.15" width="1.7" height="5.55" fill="#d5dbe5"/>
<rect x="610.9" y="140.15" width="1.7" height="5.55" fill="#d4dbe5"/>
<rect x="612.3" y="140.15" width="1.7" height="5.55" fill="#d3dbe6"/>
<rect x="613.8" y="140.15" width="1.7" height="5.55" fill="#ced9e9"/>
<rect x="615.2" y="140.15" width="4.5" height="5.55" fill="#cdd8ea"/>
<rect x="619.4" y="140.15" width="4.5" height="5.55" fill="#d1dae8"/>
<rect x="623.6" y="140.15" width="6.0" height="5.55" fill="#cdd8ea"/>
<rect x="629.3" y="140.15" width="6.0" height="5.55" fill="#d1dae8"/>
<rect x="634.9" y="140.15" width="6.0" height="5.55" fill="#ced9e9"/>
<rect x="640.6" y="140.15" width="6.0" height="5.55" fill="#ccd8ea"/>
<rect x="646.2" y="140.15" width="3.1" height="5.55" fill="#d0d9e8"/>
<rect x="649.1" y="140.15" width="1.7" height="5.55" fill="#d2dae7"/>
<rect x="650.5" y="140.15" width="1.7" height="5.55" fill="#d5dbe5"/>
<rect x="651.9" y="140.15" width="1.7" height="5.55" fill="#d7dce3"/>
<rect x="653.3" y="140.15" width="1.7" height="5.55" fill="#d6dbe4"/>
<rect x="654.7" y="140.15" width="1.7" height="5.55" fill="#d3dbe6"/>
<rect x="656.1" y="140.15" width="6.0" height="5.55" fill="#d7dce3"/>
<rect x="661.8" y="140.15" width="6.0" height="5.55" fill="#cdd8ea"/>
<rect x="667.4" y="140.15" width="4.5" height="5.55" fill="#d1dae8"/>
<rect x="671.7" y="140.15" width="1.7" height="5.55" fill="#d2dae7"/>
<rect x="673.1" y="140.15" width="1.7" height="5.55" fill="#d7dce3"/>
<rect x="674.5" y="140.15" width="1.7" height="5.55" fill="#d8dce2"/>
<rect x="562.9" y="145.40" width="1.7" height="5.55" fill="#ced9e9"/>
<rect x="564.3" y="145.40" width="6.0" height="5.55" fill="#d3dbe6"/>
<rect x="570.0" y="145.40" width="6.0" height="5.55" fill="#dbdcde"/>
<rect x="575.6" y="145.40" width="4.5" height="5.55" fill="#d5dbe5"/>
<rect x="579.9" y="145.40" width="6.0" height="5.55" fill="#d8dce2"/>
<rect x="585.5" y="145.40" width="6.0" height="5.55" fill="#d3dbe6"/>
<rect x="591.1" y="145.40" width="11.6" height="5.55" fill="#cbd8eb"/>
<rect x="602.4" y="145.40" width="4.5" height="5.55" fill="#d7dce3"/>
<rect x="606.7" y="145.40" width="6.0" height="5.55" fill="#d4dbe5"/>
<rect x="612.3" y="145.40" width="6.0" height="5.55" fill="#ced9e9"/>
<rect x="618.0" y="145.40" width="6.0" height="5.55" fill="#d8dce2"/>
<rect x="623.6" y="145.40" width="6.0" height="5.55" fill="#cdd8ea"/>
<rect x="629.3" y="145.40" width="4.5" height="5.55" fill="#d8dce2"/>
<rect x="633.5" y="145.40" width="6.0" height="5.55" fill="#d9dce1"/>
<rect x="639.2" y="145.40" width="6.0" height="5.55" fill="#d1dae8"/>
<rect x="644.8" y="145.40" width="6.0" height="5.55" fill="#d0d9e8"/>
<rect x="650.5" y="145.40" width="6.0" height="5.55" fill="#d7dce3"/>
<rect x="656.1" y="145.40" width="4.5" height="5.55" fill="#d0d9e8"/>
<rect x="660.4" y="145.40" width="6.0" height="5.55" fill="#d7dce3"/>
<rect x="666.0" y="145.40" width="6.0" height="5.55" fill="#ced9e9"/>
<rect x="671.7" y="145.40" width="4.5" height="5.55" fill="#d6dbe4"/>
<rect x="562.9" y="150.65" width="4.5" height="5.55" fill="#d9dce1"/>
<rect x="567.1" y="150.65" width="6.0" height="5.55" fill="#dddcdc"/>
<rect x="572.8" y="150.65" width="4.5" height="5.55" fill="#d6dbe4"/>
<rect x="577.0" y="150.65" width="6.0" height="5.55" fill="#dcdddd"/>
<rect x="582.7" y="150.65" width="6.0" height="5.55" fill="#dbdcde"/>
<rect x="588.3" y="150.65" width="3.1" height="5.55" fill="#dfdbd9"/>
<rect x="591.1" y="150.65" width="1.7" height="5.55" fill="#dddcdc"/>
<rect x="592.6" y="150.65" width="1.7" height="5.55" fill="#dadcdf"/>
<rect x="594.0" y="150.65" width="6.0" height="5.55" fill="#d2dae7"/>
<rect x="599.6" y="150.65" width="4.5" height="5.55" fill="#dcdddd"/>
<rect x="603.9" y="150.65" width="6.0" height="5.55" fill="#d5dbe5"/>
<rect x="609.5" y="150.65" width="1.7" height="5.55" fill="#d2dae7"/>
<rect x="610.9" y="150.65" width="1.7" height="5.55" fill="#d0d9e8"/>
<rect x="612.3" y="150.65" width="1.7" height="5.55" fill="#ccd8ea"/>
<rect x="613.8" y="150.65" width="1.7" height="5.55" fill="#cbd8eb"/>
<rect x="615.2" y="150.65" width="6.0" height="5.55" fill="#d5dbe5"/>
<rect x="620.8" y="150.65" width="6.0" height="5.55" fill="#d6dbe4"/>
<rect x="626.5" y="150.65" width="4.5" height="5.55" fill="#d0d9e8"/>
<rect x="630.7" y="150.65" width="6.0" height="5.55" fill="#ccd8ea"/>
<rect x="636.4" y="150.65" width="6.0" height="5.55" fill="#d1dae8"/>
<rect x="642.0" y="150.65" width="3.1" height="5.55" fill="#cdd8ea"/>
<rect x="644.8" y="150.65" width="3.1" height="5.55" fill="#ced9e9"/>
<rect x="647.6" y="150.65" width="6.0" height="5.55" fill="#d0d9e8"/>
<rect x="653.3" y="150.65" width="4.5" height="5.55" fill="#d7dce3"/>
<rect x="657.5" y="150.65" width="6.0" height="5.55" fill="#d3dbe6"/>
<rect x="663.2" y="150.65" width="6.0" height="5.55" fill="#d2dae7"/>
<rect x="668.8" y="150.65" width="6.0" height="5.55" fill="#d3dbe6"/>
<rect x="674.5" y="150.65" width="1.7" height="5.55" fill="#d2dae7"/>
<rect x="562.9" y="155.90" width="4.5" height="5.55" fill="#d3dbe6"/>
<rect x="567.1" y="155.90" width="6.0" height="5.55" fill="#d5dbe5"/>
<rect x="572.8" y="155.90" width="6.0" height="5.55" fill="#dcdddd"/>
<rect x="578.4" y="155.90" width="4.5" height="5.55" fill="#d6dbe4"/>
<rect x="582.7" y="155.90" width="6.0" height="5.55" fill="#d4dbe5"/>
<rect x="588.3" y="155.90" width="6.0" height="5.55" fill="#dcdddd"/>
<rect x="594.0" y="155.90" width="6.0" height="5.55" fill="#d5dbe5"/>
<rect x="599.6" y="155.90" width="6.0" height="5.55" fill="#d1dae8"/>
<rect x="605.3" y="155.90" width="4.5" height="5.55" fill="#d7dce3"/>
<rect x="609.5" y="155.90" width="6.0" height="5.55" fill="#d2dae7"/>
<rect x="615.2" y="155.90" width="6.0" height="5.55" fill="#d3dbe6"/>
<rect x="620.8" y="155.90" width="6.0" height="5.55" fill="#d6dbe4"/>
<rect x="626.5" y="155.90" width="6.0" height="5.55" fill="#d4dbe5"/>
<rect x="632.1" y="155.90" width="4.5" height="5.55" fill="#d2dae7"/>
<rect x="636.4" y="155.90" width="11.6" height="5.55" fill="#d3dbe6"/>
<rect x="647.6" y="155.90" width="6.0" height="5.55" fill="#d9dce1"/>
<rect x="653.3" y="155.90" width="6.0" height="5.55" fill="#d2dae7"/>
<rect x="659.0" y="155.90" width="4.5" height="5.55" fill="#d3dbe6"/>
<rect x="663.2" y="155.90" width="6.0" height="5.55" fill="#dcdddd"/>
<rect x="668.8" y="155.90" width="6.0" height="5.55" fill="#d3dbe6"/>
<rect x="674.5" y="155.90" width="1.7" height="5.55" fill="#dadcdf"/>
<rect x="562.9" y="161.15" width="1.7" height="5.55" fill="#ced9e9"/>
<rect x="564.3" y="161.15" width="1.7" height="5.55" fill="#d0d9e8"/>
<rect x="565.7" y="161.15" width="1.7" height="5.55" fill="#d8dce2"/>
<rect x="567.1" y="161.15" width="1.7" height="5.55" fill="#d9dce1"/>
<rect x="568.5" y="161.15" width="1.7" height="5.55" fill="#dadcdf"/>
<rect x="570.0" y="161.15" width="1.7" height="5.55" fill="#dbdcde"/>
<rect x="571.4" y="161.15" width="1.7" height="5.55" fill="#dcdddd"/>
<rect x="572.8" y="161.15" width="1.7" height="5.55" fill="#dddcdc"/>
<rect x="574.2" y="161.15" width="1.7" height="5.55" fill="#dedcdb"/>
<rect x="575.6" y="161.15" width="1.7" height="5.55" fill="#e0dbd8"/>
<rect x="577.0" y="161.15" width="1.7" height="5.55" fill="#e2dad5"/>
<rect x="578.4" y="161.15" width="1.7" height="5.55" fill="#e3d9d3"/>
<rect x="579.9" y="161.15" width="1.7" height="5.55" fill="#e4d9d2"/>
<rect x="581.3" y="161.15" width="1.7" height="5.55" fill="#e5d8d1"/>
<rect x="582.7" y="161.15" width="4.5" height="5.55" fill="#e2dad5"/>
<rect x="586.9" y="161.15" width="1.7" height="5.55" fill="#dfdbd9"/>
<rect x="588.3" y="161.15" width="1.7" height="5.55" fill="#dddcdc"/>
<rect x="589.7" y="161.15" width="1.7" height="5.55" fill="#d7dce3"/>
<rect x="591.1" y="161.15" width="1.7" height="5.55" fill="#d4dbe5"/>
<rect x="592.6" y="161.15" width="6.0" height="5.55" fill="#d5dbe5"/>
<rect x="598.2" y="161.15" width="6.0" height="5.55" fill="#cbd8eb"/>
<rect x="603.9" y="161.15" width="6.0" height="5.55" fill="#d5dbe5"/>
<rect x="609.5" y="161.15" width="6.0" height="5.55" fill="#d0d9e8"/>
<rect x="615.2" y="161.15" width="4.5" height="5.55" fill="#ccd8ea"/>
<rect x="619.4" y="161.15" width="6.0" height="5.55" fill="#cdd8ea"/>
<rect x="625.0" y="161.15" width="6.0" height="5.55" fill="#d6dbe4"/>
<rect x="630.7" y="161.15" width="6.0" height="5.55" fill="#d3dbe6"/>
<rect x="636.4" y="161.15" width="6.0" height="5.55" fill="#c8d6ec"/>
<rect x="642.0" y="161.15" width="4.5" height="5.55" fill="#ced9e9"/>
<rect x="646.2" y="161.15" width="11.6" height="5.55" fill="#cdd8ea"/>
<rect x="657.5" y="161.15" width="6.0" height="5.55" fill="#ccd8ea"/>
<rect x="663.2" y="161.15" width="6.0" height="5.55" fill="#c8d6ec"/>
<rect x="668.8" y="161.15" width="4.5" height="5.55" fill="#d2dae7"/>
<rect x="673.1" y="161.15" width="3.1" height="5.55" fill="#cad7eb"/>
<line x1="591.20" y1="82.40" x2="591.20" y2="166.40" stroke="#111" stroke-width="1.1"/>
<line x1="562.90" y1="82.40" x2="562.90" y2="166.90" stroke="#111" stroke-width="1.0"/>
<line x1="562.40" y1="166.40" x2="675.90" y2="166.40" stroke="#111" stroke-width="1.0"/>
<line x1="559.90" y1="85.03" x2="562.90" y2="85.03" stroke="#111" stroke-width="0.9"/>
<text x="558.50" y="88.93" font-size="11.5" text-anchor="end" font-weight="normal" font-style="normal" fill="#000">1</text>
<line x1="559.90" y1="106.03" x2="562.90" y2="106.03" stroke="#111" stroke-width="0.9"/>
<text x="558.50" y="109.93" font-size="11.5" text-anchor="end" font-weight="normal" font-style="normal" fill="#000">5</text>
<line x1="559.90" y1="127.03" x2="562.90" y2="127.03" stroke="#111" stroke-width="0.9"/>
<text x="558.50" y="130.93" font-size="11.5" text-anchor="end" font-weight="normal" font-style="normal" fill="#000">9</text>
<line x1="559.90" y1="148.03" x2="562.90" y2="148.03" stroke="#111" stroke-width="0.9"/>
<text x="558.50" y="151.93" font-size="11.5" text-anchor="end" font-weight="normal" font-style="normal" fill="#000">13</text>
<line x1="563.45" y1="166.40" x2="563.45" y2="169.00" stroke="#111" stroke-width="0.9"/>
<line x1="591.30" y1="166.40" x2="591.30" y2="169.00" stroke="#111" stroke-width="0.9"/>
<line x1="647.00" y1="166.40" x2="647.00" y2="169.00" stroke="#111" stroke-width="0.9"/>
<text x="563.45" y="179.90" font-size="11.5" text-anchor="middle" font-weight="normal" font-style="normal" fill="#000">10</text>
<text x="557.15" y="179.90" font-size="11.5" text-anchor="end" font-weight="normal" font-style="normal" fill="#000">−</text>
<text x="591.30" y="179.90" font-size="11.5" text-anchor="middle" font-weight="normal" font-style="normal" fill="#000">0</text>
<text x="647.00" y="179.90" font-size="11.5" text-anchor="middle" font-weight="normal" font-style="normal" fill="#000">20</text>
<text x="616.90" y="193.60" font-size="11.5" text-anchor="middle" font-weight="normal" font-style="normal" fill="#000">Time (s)</text>
<rect x="57.6" y="327.60" width="1.7" height="28.80" fill="#c1d2ed"/>
<rect x="59.0" y="327.60" width="1.7" height="28.80" fill="#c6d5ec"/>
<rect x="60.5" y="327.60" width="3.2" height="28.80" fill="#c5d5ec"/>
<rect x="63.4" y="327.60" width="1.7" height="28.80" fill="#c2d3ed"/>
<rect x="64.8" y="327.60" width="1.7" height="28.80" fill="#c1d2ed"/>
<rect x="66.3" y="327.60" width="3.2" height="28.80" fill="#c3d3ed"/>
<rect x="69.1" y="327.60" width="1.7" height="28.80" fill="#c8d6ec"/>
<rect x="70.6" y="327.60" width="4.6" height="28.80" fill="#c5d5ec"/>
<rect x="74.9" y="327.60" width="1.7" height="28.80" fill="#c3d3ed"/>
<rect x="76.4" y="327.60" width="3.2" height="28.80" fill="#c4d4ed"/>
<rect x="79.2" y="327.60" width="1.7" height="28.80" fill="#c5d5ec"/>
<rect x="80.7" y="327.60" width="1.7" height="28.80" fill="#bed0ed"/>
<rect x="82.1" y="327.60" width="1.7" height="28.80" fill="#c2d3ed"/>
<rect x="83.6" y="327.60" width="1.7" height="28.80" fill="#d2dae7"/>
<rect x="85.0" y="327.60" width="1.7" height="28.80" fill="#d1dae8"/>
<rect x="86.5" y="327.60" width="3.2" height="28.80" fill="#dbdcde"/>
<rect x="89.3" y="327.60" width="1.7" height="28.80" fill="#dfdbd9"/>
<rect x="90.8" y="327.60" width="1.7" height="28.80" fill="#e2dad5"/>
<rect x="92.2" y="327.60" width="1.7" height="28.80" fill="#ecd3c5"/>
<rect x="93.7" y="327.60" width="1.7" height="28.80" fill="#f2cab5"/>
<rect x="95.1" y="327.60" width="1.7" height="28.80" fill="#f5c4ac"/>
<rect x="96.5" y="327.60" width="1.7" height="28.80" fill="#f5c2aa"/>
<rect x="98.0" y="327.60" width="1.7" height="28.80" fill="#f6bea4"/>
<rect x="99.4" y="327.60" width="1.7" height="28.80" fill="#f7af91"/>
<rect x="100.9" y="327.60" width="1.7" height="28.80" fill="#f6a385"/>
<rect x="102.3" y="327.60" width="1.7" height="28.80" fill="#f5a081"/>
<rect x="103.8" y="327.60" width="1.7" height="28.80" fill="#f7ad90"/>
<rect x="105.2" y="327.60" width="1.7" height="28.80" fill="#f49a7b"/>
<rect x="106.6" y="327.60" width="1.7" height="28.80" fill="#f7aa8c"/>
<rect x="108.1" y="327.60" width="1.7" height="28.80" fill="#f7a889"/>
<rect x="109.5" y="327.60" width="1.7" height="28.80" fill="#f6a385"/>
<rect x="111.0" y="327.60" width="1.7" height="28.80" fill="#f39778"/>
<rect x="112.4" y="327.60" width="1.7" height="28.80" fill="#f39475"/>
<rect x="113.9" y="327.60" width="1.7" height="28.80" fill="#f39778"/>
<rect x="115.3" y="327.60" width="1.7" height="28.80" fill="#f18f71"/>
<rect x="116.7" y="327.60" width="1.7" height="28.80" fill="#f49a7b"/>
<rect x="118.2" y="327.60" width="3.2" height="28.80" fill="#f4987a"/>
<rect x="121.1" y="327.60" width="1.7" height="28.80" fill="#f5a081"/>
<rect x="122.5" y="327.60" width="1.7" height="28.80" fill="#f6a283"/>
<rect x="124.0" y="327.60" width="3.2" height="28.80" fill="#f59d7e"/>
<rect x="126.8" y="327.60" width="1.7" height="28.80" fill="#f6a283"/>
<rect x="128.3" y="327.60" width="1.7" height="28.80" fill="#f6a385"/>
<rect x="129.7" y="327.60" width="1.7" height="28.80" fill="#f49a7b"/>
<rect x="131.2" y="327.60" width="1.7" height="28.80" fill="#f7a688"/>
<rect x="132.6" y="327.60" width="1.7" height="28.80" fill="#f7a889"/>
<rect x="134.1" y="327.60" width="1.7" height="28.80" fill="#f7b194"/>
<rect x="135.5" y="327.60" width="1.7" height="28.80" fill="#f39778"/>
<rect x="136.9" y="327.60" width="3.2" height="28.80" fill="#f7ac8e"/>
<rect x="139.8" y="327.60" width="1.7" height="28.80" fill="#f7af91"/>
<rect x="141.3" y="327.60" width="1.7" height="28.80" fill="#f59f80"/>
<rect x="142.7" y="327.60" width="1.7" height="28.80" fill="#f5a081"/>
<rect x="144.2" y="327.60" width="1.7" height="28.80" fill="#f6a586"/>
<rect x="145.6" y="327.60" width="1.7" height="28.80" fill="#f7ba9f"/>
<rect x="147.0" y="327.60" width="3.2" height="28.80" fill="#f6bfa6"/>
<rect x="149.9" y="327.60" width="1.7" height="28.80" fill="#f6bda2"/>
<rect x="151.4" y="327.60" width="3.2" height="28.80" fill="#f7b396"/>
<rect x="154.2" y="327.60" width="1.7" height="28.80" fill="#f7ba9f"/>
<rect x="155.7" y="327.60" width="1.7" height="28.80" fill="#f6bda2"/>
<rect x="157.1" y="327.60" width="3.2" height="28.80" fill="#f7b89c"/>
<rect x="160.0" y="327.60" width="1.7" height="28.80" fill="#f7b194"/>
<rect x="161.5" y="327.60" width="3.2" height="28.80" fill="#f6bfa6"/>
<rect x="164.3" y="327.60" width="1.7" height="28.80" fill="#f7ba9f"/>
<rect x="165.8" y="327.60" width="1.7" height="28.80" fill="#f6bfa6"/>
<rect x="167.2" y="327.60" width="3.2" height="28.80" fill="#f7ad90"/>
<rect x="170.1" y="327.60" width="1.7" height="28.80" fill="#f7af91"/>
<rect x="171.6" y="327.60" width="1.7" height="28.80" fill="#f7b396"/>
<rect x="57.6" y="356.10" width="3.2" height="28.80" fill="#e4d9d2"/>
<rect x="60.5" y="356.10" width="4.6" height="28.80" fill="#e0dbd8"/>
<rect x="64.8" y="356.10" width="1.7" height="28.80" fill="#e1dad6"/>
<rect x="66.3" y="356.10" width="1.7" height="28.80" fill="#e2dad5"/>
<rect x="67.7" y="356.10" width="4.6" height="28.80" fill="#e4d9d2"/>
<rect x="72.0" y="356.10" width="3.2" height="28.80" fill="#e3d9d3"/>
<rect x="74.9" y="356.10" width="1.7" height="28.80" fill="#e1dad6"/>
<rect x="76.4" y="356.10" width="1.7" height="28.80" fill="#e4d9d2"/>
<rect x="77.8" y="356.10" width="3.2" height="28.80" fill="#e3d9d3"/>
<rect x="80.7" y="356.10" width="1.7" height="28.80" fill="#e6d7cf"/>
<rect x="82.1" y="356.10" width="3.2" height="28.80" fill="#e1dad6"/>
<rect x="85.0" y="356.10" width="1.7" height="28.80" fill="#dedcdb"/>
<rect x="86.5" y="356.10" width="1.7" height="28.80" fill="#d4dbe5"/>
<rect x="87.9" y="356.10" width="1.7" height="28.80" fill="#d7dce3"/>
<rect x="89.3" y="356.10" width="1.7" height="28.80" fill="#d6dbe4"/>
<rect x="90.8" y="356.10" width="1.7" height="28.80" fill="#d2dae7"/>
<rect x="92.2" y="356.10" width="1.7" height="28.80" fill="#d0d9e8"/>
<rect x="93.7" y="356.10" width="1.7" height="28.80" fill="#ced9e9"/>
<rect x="95.1" y="356.10" width="1.7" height="28.80" fill="#dedcdb"/>
<rect x="96.5" y="356.10" width="1.7" height="28.80" fill="#f2c9b4"/>
<rect x="98.0" y="356.10" width="1.7" height="28.80" fill="#f7b093"/>
<rect x="99.4" y="356.10" width="1.7" height="28.80" fill="#f39778"/>
<rect x="100.9" y="356.10" width="1.7" height="28.80" fill="#ee8669"/>
<rect x="102.3" y="356.10" width="1.7" height="28.80" fill="#e47258"/>
<rect x="103.8" y="356.10" width="1.7" height="28.80" fill="#e37157"/>
<rect x="105.2" y="356.10" width="1.7" height="28.80" fill="#e16b53"/>
<rect x="106.6" y="356.10" width="1.7" height="28.80" fill="#e47258"/>
<rect x="108.1" y="356.10" width="1.7" height="28.80" fill="#e6755a"/>
<rect x="109.5" y="356.10" width="1.7" height="28.80" fill="#e7775c"/>
<rect x="111.0" y="356.10" width="1.7" height="28.80" fill="#e37157"/>
<rect x="112.4" y="356.10" width="1.7" height="28.80" fill="#e26d54"/>
<rect x="113.9" y="356.10" width="1.7" height="28.80" fill="#e57459"/>
<rect x="115.3" y="356.10" width="1.7" height="28.80" fill="#e97b60"/>
<rect x="116.7" y="356.10" width="1.7" height="28.80" fill="#ec8064"/>
<rect x="118.2" y="356.10" width="1.7" height="28.80" fill="#ec8165"/>
<rect x="119.6" y="356.10" width="1.7" height="28.80" fill="#ee8468"/>
<rect x="121.1" y="356.10" width="1.7" height="28.80" fill="#e97a5e"/>
<rect x="122.5" y="356.10" width="1.7" height="28.80" fill="#f08b6e"/>
<rect x="124.0" y="356.10" width="1.7" height="28.80" fill="#f18d6f"/>
<rect x="125.4" y="356.10" width="1.7" height="28.80" fill="#f08a6c"/>
<rect x="126.8" y="356.10" width="1.7" height="28.80" fill="#ee8468"/>
<rect x="128.3" y="356.10" width="1.7" height="28.80" fill="#f39778"/>
<rect x="129.7" y="356.10" width="3.2" height="28.80" fill="#f49a7b"/>
<rect x="132.6" y="356.10" width="1.7" height="28.80" fill="#f39577"/>
<rect x="134.1" y="356.10" width="1.7" height="28.80" fill="#f39778"/>
<rect x="135.5" y="356.10" width="1.7" height="28.80" fill="#f29274"/>
<rect x="136.9" y="356.10" width="1.7" height="28.80" fill="#f59d7e"/>
<rect x="138.4" y="356.10" width="3.2" height="28.80" fill="#f59f80"/>
<rect x="141.3" y="356.10" width="1.7" height="28.80" fill="#f6a283"/>
<rect x="142.7" y="356.10" width="1.7" height="28.80" fill="#f7af91"/>
<rect x="144.2" y="356.10" width="1.7" height="28.80" fill="#f7b497"/>
<rect x="145.6" y="356.10" width="1.7" height="28.80" fill="#f7ac8e"/>
<rect x="147.0" y="356.10" width="1.7" height="28.80" fill="#f6bfa6"/>
<rect x="148.5" y="356.10" width="1.7" height="28.80" fill="#edd2c3"/>
<rect x="149.9" y="356.10" width="1.7" height="28.80" fill="#e7d7ce"/>
<rect x="151.4" y="356.10" width="1.7" height="28.80" fill="#ead4c8"/>
<rect x="152.8" y="356.10" width="3.2" height="28.80" fill="#e7d7ce"/>
<rect x="155.7" y="356.10" width="1.7" height="28.80" fill="#e9d5cb"/>
<rect x="157.1" y="356.10" width="1.7" height="28.80" fill="#ebd3c6"/>
<rect x="158.6" y="356.10" width="1.7" height="28.80" fill="#ead4c8"/>
<rect x="160.0" y="356.10" width="1.7" height="28.80" fill="#edd2c3"/>
<rect x="161.5" y="356.10" width="1.7" height="28.80" fill="#f2c9b4"/>
<rect x="162.9" y="356.10" width="3.2" height="28.80" fill="#efcfbf"/>
<rect x="165.8" y="356.10" width="1.7" height="28.80" fill="#f2cab5"/>
<rect x="167.2" y="356.10" width="1.7" height="28.80" fill="#f2c9b4"/>
<rect x="168.7" y="356.10" width="3.2" height="28.80" fill="#f4c6af"/>
<rect x="171.6" y="356.10" width="1.7" height="28.80" fill="#f3c8b2"/>
<rect x="57.6" y="384.60" width="1.7" height="28.80" fill="#ccd8ea"/>
<rect x="59.0" y="384.60" width="3.2" height="28.80" fill="#d0d9e8"/>
<rect x="61.9" y="384.60" width="1.7" height="28.80" fill="#cad7eb"/>
<rect x="63.4" y="384.60" width="1.7" height="28.80" fill="#d1dae8"/>
<rect x="64.8" y="384.60" width="1.7" height="28.80" fill="#d4dbe5"/>
<rect x="66.3" y="384.60" width="1.7" height="28.80" fill="#d6dbe4"/>
<rect x="67.7" y="384.60" width="1.7" height="28.80" fill="#d7dce3"/>
<rect x="69.1" y="384.60" width="3.2" height="28.80" fill="#d6dbe4"/>
<rect x="72.0" y="384.60" width="1.7" height="28.80" fill="#dbdcde"/>
<rect x="73.5" y="384.60" width="1.7" height="28.80" fill="#d5dbe5"/>
<rect x="74.9" y="384.60" width="3.2" height="28.80" fill="#d7dce3"/>
<rect x="77.8" y="384.60" width="7.5" height="28.80" fill="#d8dce2"/>
<rect x="85.0" y="384.60" width="1.7" height="28.80" fill="#d9dce1"/>
<rect x="86.5" y="384.60" width="1.7" height="28.80" fill="#dcdddd"/>
<rect x="87.9" y="384.60" width="1.7" height="28.80" fill="#dbdcde"/>
<rect x="89.3" y="384.60" width="1.7" height="28.80" fill="#e1dad6"/>
<rect x="90.8" y="384.60" width="1.7" height="28.80" fill="#e9d5cb"/>
<rect x="92.2" y="384.60" width="1.7" height="28.80" fill="#efcebd"/>
<rect x="93.7" y="384.60" width="1.7" height="28.80" fill="#f7bca1"/>
<rect x="95.1" y="384.60" width="1.7" height="28.80" fill="#f7b497"/>
<rect x="96.5" y="384.60" width="1.7" height="28.80" fill="#f7a889"/>
<rect x="98.0" y="384.60" width="1.7" height="28.80" fill="#f59c7d"/>
<rect x="99.4" y="384.60" width="1.7" height="28.80" fill="#f08a6c"/>
<rect x="100.9" y="384.60" width="1.7" height="28.80" fill="#ee8468"/>
<rect x="102.3" y="384.60" width="1.7" height="28.80" fill="#e6755a"/>
<rect x="103.8" y="384.60" width="1.7" height="28.80" fill="#e97b60"/>
<rect x="105.2" y="384.60" width="1.7" height="28.80" fill="#ea7d61"/>
<rect x="106.6" y="384.60" width="1.7" height="28.80" fill="#e97b60"/>
<rect x="108.1" y="384.60" width="1.7" height="28.80" fill="#e37056"/>
<rect x="109.5" y="384.60" width="1.7" height="28.80" fill="#ee8468"/>
<rect x="111.0" y="384.60" width="1.7" height="28.80" fill="#ed8366"/>
<rect x="112.4" y="384.60" width="1.7" height="28.80" fill="#f18d6f"/>
<rect x="113.9" y="384.60" width="1.7" height="28.80" fill="#e97a5e"/>
<rect x="115.3" y="384.60" width="1.7" height="28.80" fill="#e7775c"/>
<rect x="116.7" y="384.60" width="1.7" height="28.80" fill="#e57459"/>
<rect x="118.2" y="384.60" width="1.7" height="28.80" fill="#e16b53"/>
<rect x="119.6" y="384.60" width="1.7" height="28.80" fill="#e6755a"/>
<rect x="121.1" y="384.60" width="1.7" height="28.80" fill="#eb7f62"/>
<rect x="122.5" y="384.60" width="1.7" height="28.80" fill="#f59d7e"/>
<rect x="124.0" y="384.60" width="1.7" height="28.80" fill="#ec8165"/>
<rect x="125.4" y="384.60" width="1.7" height="28.80" fill="#ef886b"/>
<rect x="126.8" y="384.60" width="1.7" height="28.80" fill="#f08a6c"/>
<rect x="128.3" y="384.60" width="1.7" height="28.80" fill="#f29274"/>
<rect x="129.7" y="384.60" width="1.7" height="28.80" fill="#f6a385"/>
<rect x="131.2" y="384.60" width="3.2" height="28.80" fill="#f7b99e"/>
<rect x="134.1" y="384.60" width="1.7" height="28.80" fill="#f6bda2"/>
<rect x="135.5" y="384.60" width="1.7" height="28.80" fill="#f7ba9f"/>
<rect x="136.9" y="384.60" width="1.7" height="28.80" fill="#f7b89c"/>
<rect x="138.4" y="384.60" width="1.7" height="28.80" fill="#f7b497"/>
<rect x="139.8" y="384.60" width="3.2" height="28.80" fill="#f7bca1"/>
<rect x="142.7" y="384.60" width="1.7" height="28.80" fill="#f7b396"/>
<rect x="144.2" y="384.60" width="1.7" height="28.80" fill="#f7b599"/>
<rect x="145.6" y="384.60" width="1.7" height="28.80" fill="#f7b396"/>
<rect x="147.0" y="384.60" width="1.7" height="28.80" fill="#f7b99e"/>
<rect x="148.5" y="384.60" width="1.7" height="28.80" fill="#f4c5ad"/>
<rect x="149.9" y="384.60" width="1.7" height="28.80" fill="#edd2c3"/>
<rect x="151.4" y="384.60" width="1.7" height="28.80" fill="#e8d6cc"/>
<rect x="152.8" y="384.60" width="1.7" height="28.80" fill="#ecd3c5"/>
<rect x="154.2" y="384.60" width="1.7" height="28.80" fill="#e5d8d1"/>
<rect x="155.7" y="384.60" width="1.7" height="28.80" fill="#e8d6cc"/>
<rect x="157.1" y="384.60" width="1.7" height="28.80" fill="#e6d7cf"/>
<rect x="158.6" y="384.60" width="1.7" height="28.80" fill="#dbdcde"/>
<rect x="160.0" y="384.60" width="1.7" height="28.80" fill="#d5dbe5"/>
<rect x="161.5" y="384.60" width="1.7" height="28.80" fill="#d1dae8"/>
<rect x="162.9" y="384.60" width="1.7" height="28.80" fill="#cdd8ea"/>
<rect x="164.3" y="384.60" width="1.7" height="28.80" fill="#d0d9e8"/>
<rect x="165.8" y="384.60" width="3.2" height="28.80" fill="#cdd8ea"/>
<rect x="168.7" y="384.60" width="1.7" height="28.80" fill="#cad7eb"/>
<rect x="170.1" y="384.60" width="3.2" height="28.80" fill="#ccd8ea"/>
<line x1="86.60" y1="327.60" x2="86.60" y2="413.10" stroke="#111" stroke-width="1.1"/>
<line x1="57.60" y1="327.60" x2="57.60" y2="413.60" stroke="#111" stroke-width="1.0"/>
<line x1="57.10" y1="413.10" x2="173.00" y2="413.10" stroke="#111" stroke-width="1.0"/>
<line x1="57.60" y1="327.60" x2="173.00" y2="327.60" stroke="#111" stroke-width="1.0"/>
<line x1="173.00" y1="327.60" x2="173.00" y2="413.10" stroke="#111" stroke-width="1.0"/>
<line x1="54.60" y1="341.85" x2="57.60" y2="341.85" stroke="#111" stroke-width="0.9"/>
<text x="53.20" y="345.75" font-size="11.5" text-anchor="end" font-weight="normal" font-style="normal" fill="#000">1</text>
<line x1="54.60" y1="370.35" x2="57.60" y2="370.35" stroke="#111" stroke-width="0.9"/>
<text x="53.20" y="374.25" font-size="11.5" text-anchor="end" font-weight="normal" font-style="normal" fill="#000">2</text>
<line x1="54.60" y1="398.85" x2="57.60" y2="398.85" stroke="#111" stroke-width="0.9"/>
<text x="53.20" y="402.75" font-size="11.5" text-anchor="end" font-weight="normal" font-style="normal" fill="#000">3</text>
<line x1="58.30" y1="413.10" x2="58.30" y2="415.70" stroke="#111" stroke-width="0.9"/>
<line x1="86.60" y1="413.10" x2="86.60" y2="415.70" stroke="#111" stroke-width="0.9"/>
<line x1="143.20" y1="413.10" x2="143.20" y2="415.70" stroke="#111" stroke-width="0.9"/>
<text x="58.30" y="426.60" font-size="11.5" text-anchor="middle" font-weight="normal" font-style="normal" fill="#000">10</text>
<text x="52.00" y="426.60" font-size="11.5" text-anchor="end" font-weight="normal" font-style="normal" fill="#000">−</text>
<text x="86.60" y="426.60" font-size="11.5" text-anchor="middle" font-weight="normal" font-style="normal" fill="#000">0</text>
<text x="143.20" y="426.60" font-size="11.5" text-anchor="middle" font-weight="normal" font-style="normal" fill="#000">20</text>
<text x="112.60" y="441.20" font-size="11.5" text-anchor="middle" font-weight="normal" font-style="normal" fill="#000">Time (s)</text>
<text x="30.60" y="372.20" font-size="12.0" text-anchor="middle" font-weight="normal" font-style="normal" fill="#000" transform="rotate(-90 30.6 372.2)">Sorted trials</text>
<rect x="200.9" y="327.60" width="1.7" height="9.80" fill="#d3dbe6"/>
<rect x="202.3" y="327.60" width="1.7" height="9.80" fill="#d4dbe5"/>
<rect x="203.8" y="327.60" width="1.7" height="9.80" fill="#d5dbe5"/>
<rect x="205.2" y="327.60" width="1.7" height="9.80" fill="#d9dce1"/>
<rect x="206.6" y="327.60" width="1.7" height="9.80" fill="#dadcdf"/>
<rect x="208.1" y="327.60" width="1.7" height="9.80" fill="#dbdcde"/>
<rect x="209.5" y="327.60" width="1.7" height="9.80" fill="#dedcdb"/>
<rect x="211.0" y="327.60" width="1.7" height="9.80" fill="#dfdbd9"/>
<rect x="212.4" y="327.60" width="1.7" height="9.80" fill="#e0dbd8"/>
<rect x="213.8" y="327.60" width="1.7" height="9.80" fill="#e1dad6"/>
<rect x="215.3" y="327.60" width="6.0" height="9.80" fill="#e0dbd8"/>
<rect x="221.0" y="327.60" width="1.7" height="9.80" fill="#dfdbd9"/>
<rect x="222.4" y="327.60" width="1.7" height="9.80" fill="#dedcdb"/>
<rect x="223.9" y="327.60" width="1.7" height="9.80" fill="#dbdcde"/>
<rect x="225.3" y="327.60" width="1.7" height="9.80" fill="#d9dce1"/>
<rect x="226.8" y="327.60" width="1.7" height="9.80" fill="#dfdbd9"/>
<rect x="228.2" y="327.60" width="1.7" height="9.80" fill="#e3d9d3"/>
<rect x="229.6" y="327.60" width="7.5" height="9.80" fill="#e6d7cf"/>
<rect x="236.8" y="327.60" width="6.0" height="9.80" fill="#e5d8d1"/>
<rect x="242.6" y="327.60" width="6.0" height="9.80" fill="#e0dbd8"/>
<rect x="248.3" y="327.60" width="4.6" height="9.80" fill="#e3d9d3"/>
<rect x="252.6" y="327.60" width="1.7" height="9.80" fill="#e5d8d1"/>
<rect x="254.0" y="327.60" width="1.7" height="9.80" fill="#e7d7ce"/>
<rect x="255.5" y="327.60" width="4.6" height="9.80" fill="#e9d5cb"/>
<rect x="259.8" y="327.60" width="4.6" height="9.80" fill="#e5d8d1"/>
<rect x="264.1" y="327.60" width="6.0" height="9.80" fill="#ebd3c6"/>
<rect x="269.8" y="327.60" width="6.0" height="9.80" fill="#ead5c9"/>
<rect x="275.6" y="327.60" width="6.0" height="9.80" fill="#e8d6cc"/>
<rect x="281.3" y="327.60" width="6.0" height="9.80" fill="#edd2c3"/>
<rect x="287.1" y="327.60" width="1.7" height="9.80" fill="#ecd3c5"/>
<rect x="288.5" y="327.60" width="1.7" height="9.80" fill="#efcfbf"/>
<rect x="289.9" y="327.60" width="6.0" height="9.80" fill="#efcebd"/>
<rect x="295.7" y="327.60" width="1.7" height="9.80" fill="#edd2c3"/>
<rect x="297.1" y="327.60" width="1.7" height="9.80" fill="#e5d8d1"/>
<rect x="298.6" y="327.60" width="4.6" height="9.80" fill="#e0dbd8"/>
<rect x="302.9" y="327.60" width="1.7" height="9.80" fill="#dfdbd9"/>
<rect x="304.3" y="327.60" width="1.7" height="9.80" fill="#e2dad5"/>
<rect x="305.7" y="327.60" width="1.7" height="9.80" fill="#e8d6cc"/>
<rect x="307.2" y="327.60" width="1.7" height="9.80" fill="#ebd3c6"/>
<rect x="308.6" y="327.60" width="6.0" height="9.80" fill="#e5d8d1"/>
<rect x="314.4" y="327.60" width="1.7" height="9.80" fill="#e8d6cc"/>
<rect x="200.9" y="337.10" width="1.7" height="9.80" fill="#e2dad5"/>
<rect x="202.3" y="337.10" width="1.7" height="9.80" fill="#e4d9d2"/>
<rect x="203.8" y="337.10" width="1.7" height="9.80" fill="#e6d7cf"/>
<rect x="205.2" y="337.10" width="3.2" height="9.80" fill="#e9d5cb"/>
<rect x="208.1" y="337.10" width="1.7" height="9.80" fill="#e6d7cf"/>
<rect x="209.5" y="337.10" width="1.7" height="9.80" fill="#e4d9d2"/>
<rect x="211.0" y="337.10" width="6.0" height="9.80" fill="#e8d6cc"/>
<rect x="216.7" y="337.10" width="6.0" height="9.80" fill="#e7d7ce"/>
<rect x="222.4" y="337.10" width="6.0" height="9.80" fill="#e6d7cf"/>
<rect x="228.2" y="337.10" width="4.6" height="9.80" fill="#e2dad5"/>
<rect x="232.5" y="337.10" width="6.0" height="9.80" fill="#e6d7cf"/>
<rect x="238.2" y="337.10" width="6.0" height="9.80" fill="#e5d8d1"/>
<rect x="244.0" y="337.10" width="6.0" height="9.80" fill="#e2dad5"/>
<rect x="249.7" y="337.10" width="1.7" height="9.80" fill="#ead5c9"/>
<rect x="251.2" y="337.10" width="1.7" height="9.80" fill="#edd2c3"/>
<rect x="252.6" y="337.10" width="3.2" height="9.80" fill="#eed0c0"/>
<rect x="255.5" y="337.10" width="4.6" height="9.80" fill="#ecd3c5"/>
<rect x="259.8" y="337.10" width="6.0" height="9.80" fill="#e9d5cb"/>
<rect x="265.5" y="337.10" width="6.0" height="9.80" fill="#edd1c2"/>
<rect x="271.3" y="337.10" width="6.0" height="9.80" fill="#ead5c9"/>
<rect x="277.0" y="337.10" width="6.0" height="9.80" fill="#ebd3c6"/>
<rect x="282.8" y="337.10" width="4.6" height="9.80" fill="#e5d8d1"/>
<rect x="287.1" y="337.10" width="6.0" height="9.80" fill="#ead5c9"/>
<rect x="292.8" y="337.10" width="3.2" height="9.80" fill="#e7d7ce"/>
<rect x="295.7" y="337.10" width="3.2" height="9.80" fill="#e6d7cf"/>
<rect x="298.6" y="337.10" width="1.7" height="9.80" fill="#e8d6cc"/>
<rect x="300.0" y="337.10" width="1.7" height="9.80" fill="#ead4c8"/>
<rect x="301.4" y="337.10" width="3.2" height="9.80" fill="#ecd3c5"/>
<rect x="304.3" y="337.10" width="3.2" height="9.80" fill="#ead5c9"/>
<rect x="307.2" y="337.10" width="1.7" height="9.80" fill="#e8d6cc"/>
<rect x="308.6" y="337.10" width="1.7" height="9.80" fill="#e5d8d1"/>
<rect x="310.1" y="337.10" width="4.6" height="9.80" fill="#eed0c0"/>
<rect x="314.4" y="337.10" width="1.7" height="9.80" fill="#e9d5cb"/>
<rect x="200.9" y="346.60" width="1.7" height="9.80" fill="#dedcdb"/>
<rect x="202.3" y="346.60" width="3.2" height="9.80" fill="#dddcdc"/>
<rect x="205.2" y="346.60" width="1.7" height="9.80" fill="#dcdddd"/>
<rect x="206.6" y="346.60" width="1.7" height="9.80" fill="#d4dbe5"/>
<rect x="208.1" y="346.60" width="1.7" height="9.80" fill="#d2dae7"/>
<rect x="209.5" y="346.60" width="3.2" height="9.80" fill="#d1dae8"/>
<rect x="212.4" y="346.60" width="6.0" height="9.80" fill="#d5dbe5"/>
<rect x="218.1" y="346.60" width="4.6" height="9.80" fill="#d4dbe5"/>
<rect x="222.4" y="346.60" width="6.0" height="9.80" fill="#d6dbe4"/>
<rect x="228.2" y="346.60" width="1.7" height="9.80" fill="#d5dbe5"/>
<rect x="229.6" y="346.60" width="1.7" height="9.80" fill="#d9dce1"/>
<rect x="231.1" y="346.60" width="3.2" height="9.80" fill="#dddcdc"/>
<rect x="233.9" y="346.60" width="6.0" height="9.80" fill="#d8dce2"/>
<rect x="239.7" y="346.60" width="4.6" height="9.80" fill="#d7dce3"/>
<rect x="244.0" y="346.60" width="1.7" height="9.80" fill="#e3d9d3"/>
<rect x="245.4" y="346.60" width="4.6" height="9.80" fill="#f4c5ad"/>
<rect x="249.7" y="346.60" width="6.0" height="9.80" fill="#f6bfa6"/>
<rect x="255.5" y="346.60" width="11.8" height="9.80" fill="#f5c0a7"/>
<rect x="267.0" y="346.60" width="1.7" height="9.80" fill="#f3c8b2"/>
<rect x="268.4" y="346.60" width="1.7" height="9.80" fill="#f0cdbb"/>
<rect x="269.8" y="346.60" width="1.7" height="9.80" fill="#e9d5cb"/>
<rect x="271.3" y="346.60" width="6.0" height="9.80" fill="#e8d6cc"/>
<rect x="277.0" y="346.60" width="6.0" height="9.80" fill="#ebd3c6"/>
<rect x="282.8" y="346.60" width="1.7" height="9.80" fill="#ecd3c5"/>
<rect x="284.2" y="346.60" width="4.6" height="9.80" fill="#ebd3c6"/>
<rect x="288.5" y="346.60" width="1.7" height="9.80" fill="#ead4c8"/>
<rect x="289.9" y="346.60" width="1.7" height="9.80" fill="#e7d7ce"/>
<rect x="291.4" y="346.60" width="1.7" height="9.80" fill="#dfdbd9"/>
<rect x="292.8" y="346.60" width="1.7" height="9.80" fill="#dbdcde"/>
<rect x="294.3" y="346.60" width="6.0" height="9.80" fill="#dedcdb"/>
<rect x="300.0" y="346.60" width="4.6" height="9.80" fill="#dcdddd"/>
<rect x="304.3" y="346.60" width="3.2" height="9.80" fill="#d9dce1"/>
<rect x="307.2" y="346.60" width="1.7" height="9.80" fill="#e1dad6"/>
<rect x="308.6" y="346.60" width="1.7" height="9.80" fill="#efcfbf"/>
<rect x="310.1" y="346.60" width="6.0" height="9.80" fill="#f3c7b1"/>
<rect x="200.9" y="356.10" width="3.2" height="9.80" fill="#d8dce2"/>
<rect x="203.8" y="356.10" width="6.0" height="9.80" fill="#dfdbd9"/>
<rect x="209.5" y="356.10" width="3.2" height="9.80" fill="#d8dce2"/>
<rect x="212.4" y="356.10" width="1.7" height="9.80" fill="#dadcdf"/>
<rect x="213.8" y="356.10" width="1.7" height="9.80" fill="#e1dad6"/>
<rect x="215.3" y="356.10" width="4.6" height="9.80" fill="#e3d9d3"/>
<rect x="219.6" y="356.10" width="4.6" height="9.80" fill="#e0dbd8"/>
<rect x="223.9" y="356.10" width="1.7" height="9.80" fill="#dddcdc"/>
<rect x="225.3" y="356.10" width="1.7" height="9.80" fill="#dadcdf"/>
<rect x="226.8" y="356.10" width="4.6" height="9.80" fill="#d8dce2"/>
<rect x="231.1" y="356.10" width="10.4" height="9.80" fill="#dadcdf"/>
<rect x="241.1" y="356.10" width="6.0" height="9.80" fill="#d8dce2"/>
<rect x="246.9" y="356.10" width="6.0" height="9.80" fill="#dadcdf"/>
<rect x="252.6" y="356.10" width="6.0" height="9.80" fill="#d9dce1"/>
<rect x="258.4" y="356.10" width="6.0" height="9.80" fill="#d3dbe6"/>
<rect x="264.1" y="356.10" width="4.6" height="9.80" fill="#d2dae7"/>
<rect x="268.4" y="356.10" width="6.0" height="9.80" fill="#dfdbd9"/>
<rect x="274.1" y="356.10" width="6.0" height="9.80" fill="#dbdcde"/>
<rect x="279.9" y="356.10" width="6.0" height="9.80" fill="#d8dce2"/>
<rect x="285.6" y="356.10" width="6.0" height="9.80" fill="#d3dbe6"/>
<rect x="291.4" y="356.10" width="4.6" height="9.80" fill="#d5dbe5"/>
<rect x="295.7" y="356.10" width="6.0" height="9.80" fill="#dddcdc"/>
<rect x="301.4" y="356.10" width="6.0" height="9.80" fill="#d2dae7"/>
<rect x="307.2" y="356.10" width="3.2" height="9.80" fill="#d8dce2"/>
<rect x="310.1" y="356.10" width="1.7" height="9.80" fill="#d6dbe4"/>
<rect x="311.5" y="356.10" width="1.7" height="9.80" fill="#d3dbe6"/>
<rect x="312.9" y="356.10" width="3.2" height="9.80" fill="#d5dbe5"/>
<rect x="200.9" y="365.60" width="1.7" height="9.80" fill="#d9dce1"/>
<rect x="202.3" y="365.60" width="1.7" height="9.80" fill="#dedcdb"/>
<rect x="203.8" y="365.60" width="1.7" height="9.80" fill="#dddcdc"/>
<rect x="205.2" y="365.60" width="1.7" height="9.80" fill="#dcdddd"/>
<rect x="206.6" y="365.60" width="1.7" height="9.80" fill="#dbdcde"/>
<rect x="208.1" y="365.60" width="4.6" height="9.80" fill="#d2dae7"/>
<rect x="212.4" y="365.60" width="6.0" height="9.80" fill="#d0d9e8"/>
<rect x="218.1" y="365.60" width="1.7" height="9.80" fill="#d7dce3"/>
<rect x="219.6" y="365.60" width="1.7" height="9.80" fill="#dadcdf"/>
<rect x="221.0" y="365.60" width="3.2" height="9.80" fill="#dbdcde"/>
<rect x="223.9" y="365.60" width="6.0" height="9.80" fill="#dfdbd9"/>
<rect x="229.6" y="365.60" width="1.7" height="9.80" fill="#ead4c8"/>
<rect x="231.1" y="365.60" width="4.6" height="9.80" fill="#f4c5ad"/>
<rect x="235.4" y="365.60" width="1.7" height="9.80" fill="#f2c9b4"/>
<rect x="236.8" y="365.60" width="1.7" height="9.80" fill="#e8d6cc"/>
<rect x="238.2" y="365.60" width="1.7" height="9.80" fill="#e0dbd8"/>
<rect x="239.7" y="365.60" width="6.0" height="9.80" fill="#dbdcde"/>
<rect x="245.4" y="365.60" width="6.0" height="9.80" fill="#d9dce1"/>
<rect x="251.2" y="365.60" width="4.6" height="9.80" fill="#e1dad6"/>
<rect x="255.5" y="365.60" width="1.7" height="9.80" fill="#e6d7cf"/>
<rect x="256.9" y="365.60" width="1.7" height="9.80" fill="#eed0c0"/>
<rect x="258.4" y="365.60" width="3.2" height="9.80" fill="#f1ccb8"/>
<rect x="261.2" y="365.60" width="1.7" height="9.80" fill="#efcebd"/>
<rect x="262.7" y="365.60" width="1.7" height="9.80" fill="#ead4c8"/>
<rect x="264.1" y="365.60" width="1.7" height="9.80" fill="#e5d8d1"/>
<rect x="265.5" y="365.60" width="1.7" height="9.80" fill="#dedcdb"/>
<rect x="267.0" y="365.60" width="6.0" height="9.80" fill="#d5dbe5"/>
<rect x="272.7" y="365.60" width="11.8" height="9.80" fill="#d2dae7"/>
<rect x="284.2" y="365.60" width="3.2" height="9.80" fill="#d5dbe5"/>
<rect x="287.1" y="365.60" width="1.7" height="9.80" fill="#d7dce3"/>
<rect x="288.5" y="365.60" width="1.7" height="9.80" fill="#dadcdf"/>
<rect x="289.9" y="365.60" width="1.7" height="9.80" fill="#dfdbd9"/>
<rect x="291.4" y="365.60" width="1.7" height="9.80" fill="#e2dad5"/>
<rect x="292.8" y="365.60" width="1.7" height="9.80" fill="#e4d9d2"/>
<rect x="294.3" y="365.60" width="1.7" height="9.80" fill="#e7d7ce"/>
<rect x="295.7" y="365.60" width="4.6" height="9.80" fill="#e8d6cc"/>
<rect x="300.0" y="365.60" width="6.0" height="9.80" fill="#e2dad5"/>
<rect x="305.7" y="365.60" width="10.4" height="9.80" fill="#e7d7ce"/>
<rect x="200.9" y="375.10" width="1.7" height="9.80" fill="#e9d5cb"/>
<rect x="202.3" y="375.10" width="1.7" height="9.80" fill="#e2dad5"/>
<rect x="203.8" y="375.10" width="3.2" height="9.80" fill="#dcdddd"/>
<rect x="206.6" y="375.10" width="6.0" height="9.80" fill="#dedcdb"/>
<rect x="212.4" y="375.10" width="8.9" height="9.80" fill="#dddcdc"/>
<rect x="221.0" y="375.10" width="1.7" height="9.80" fill="#e4d9d2"/>
<rect x="222.4" y="375.10" width="6.0" height="9.80" fill="#e7d7ce"/>
<rect x="228.2" y="375.10" width="1.7" height="9.80" fill="#e4d9d2"/>
<rect x="229.6" y="375.10" width="4.6" height="9.80" fill="#dedcdb"/>
<rect x="233.9" y="375.10" width="6.0" height="9.80" fill="#dcdddd"/>
<rect x="239.7" y="375.10" width="4.6" height="9.80" fill="#d6dbe4"/>
<rect x="244.0" y="375.10" width="6.0" height="9.80" fill="#dedcdb"/>
<rect x="249.7" y="375.10" width="6.0" height="9.80" fill="#dcdddd"/>
<rect x="255.5" y="375.10" width="1.7" height="9.80" fill="#dedcdb"/>
<rect x="256.9" y="375.10" width="1.7" height="9.80" fill="#dadcdf"/>
<rect x="258.4" y="375.10" width="3.2" height="9.80" fill="#d8dce2"/>
<rect x="261.2" y="375.10" width="3.2" height="9.80" fill="#d4dbe5"/>
<rect x="264.1" y="375.10" width="1.7" height="9.80" fill="#d5dbe5"/>
<rect x="265.5" y="375.10" width="1.7" height="9.80" fill="#d8dce2"/>
<rect x="267.0" y="375.10" width="1.7" height="9.80" fill="#dadcdf"/>
<rect x="268.4" y="375.10" width="1.7" height="9.80" fill="#dddcdc"/>
<rect x="269.8" y="375.10" width="1.7" height="9.80" fill="#dfdbd9"/>
<rect x="271.3" y="375.10" width="1.7" height="9.80" fill="#e2dad5"/>
<rect x="272.7" y="375.10" width="4.6" height="9.80" fill="#e4d9d2"/>
<rect x="277.0" y="375.10" width="6.0" height="9.80" fill="#e3d9d3"/>
<rect x="282.8" y="375.10" width="6.0" height="9.80" fill="#e1dad6"/>
<rect x="288.5" y="375.10" width="6.0" height="9.80" fill="#dddcdc"/>
<rect x="294.3" y="375.10" width="1.7" height="9.80" fill="#e9d5cb"/>
<rect x="295.7" y="375.10" width="1.7" height="9.80" fill="#e8d6cc"/>
<rect x="297.1" y="375.10" width="1.7" height="9.80" fill="#e5d8d1"/>
<rect x="298.6" y="375.10" width="1.7" height="9.80" fill="#d8dce2"/>
<rect x="300.0" y="375.10" width="1.7" height="9.80" fill="#d6dbe4"/>
<rect x="301.4" y="375.10" width="1.7" height="9.80" fill="#d3dbe6"/>
<rect x="302.9" y="375.10" width="1.7" height="9.80" fill="#d1dae8"/>
<rect x="304.3" y="375.10" width="6.0" height="9.80" fill="#d4dbe5"/>
<rect x="310.1" y="375.10" width="6.0" height="9.80" fill="#d7dce3"/>
<rect x="200.9" y="384.60" width="3.2" height="9.80" fill="#e4d9d2"/>
<rect x="203.8" y="384.60" width="4.6" height="9.80" fill="#e1dad6"/>
<rect x="208.1" y="384.60" width="6.0" height="9.80" fill="#e7d7ce"/>
<rect x="213.8" y="384.60" width="6.0" height="9.80" fill="#dddcdc"/>
<rect x="219.6" y="384.60" width="6.0" height="9.80" fill="#e1dad6"/>
<rect x="225.3" y="384.60" width="10.4" height="9.80" fill="#dfdbd9"/>
<rect x="235.4" y="384.60" width="6.0" height="9.80" fill="#e1dad6"/>
<rect x="241.1" y="384.60" width="6.0" height="9.80" fill="#e5d8d1"/>
<rect x="246.9" y="384.60" width="11.8" height="9.80" fill="#dedcdb"/>
<rect x="258.4" y="384.60" width="3.2" height="9.80" fill="#e3d9d3"/>
<rect x="261.2" y="384.60" width="1.7" height="9.80" fill="#e5d8d1"/>
<rect x="262.7" y="384.60" width="1.7" height="9.80" fill="#e9d5cb"/>
<rect x="264.1" y="384.60" width="4.6" height="9.80" fill="#ead4c8"/>
<rect x="268.4" y="384.60" width="6.0" height="9.80" fill="#eed0c0"/>
<rect x="274.1" y="384.60" width="1.7" height="9.80" fill="#ecd3c5"/>
<rect x="275.6" y="384.60" width="1.7" height="9.80" fill="#ead5c9"/>
<rect x="277.0" y="384.60" width="1.7" height="9.80" fill="#e6d7cf"/>
<rect x="278.5" y="384.60" width="1.7" height="9.80" fill="#e1dad6"/>
<rect x="279.9" y="384.60" width="3.2" height="9.80" fill="#d8dce2"/>
<rect x="282.8" y="384.60" width="1.7" height="9.80" fill="#dedcdb"/>
<rect x="284.2" y="384.60" width="1.7" height="9.80" fill="#e1dad6"/>
<rect x="285.6" y="384.60" width="4.6" height="9.80" fill="#dfdbd9"/>
<rect x="289.9" y="384.60" width="6.0" height="9.80" fill="#e1dad6"/>
<rect x="295.7" y="384.60" width="6.0" height="9.80" fill="#e0dbd8"/>
<rect x="301.4" y="384.60" width="6.0" height="9.80" fill="#dcdddd"/>
<rect x="307.2" y="384.60" width="8.9" height="9.80" fill="#e0dbd8"/>
<rect x="200.9" y="394.10" width="1.7" height="9.80" fill="#efcfbf"/>
<rect x="202.3" y="394.10" width="1.7" height="9.80" fill="#edd2c3"/>
<rect x="203.8" y="394.10" width="1.7" height="9.80" fill="#ead5c9"/>
<rect x="205.2" y="394.10" width="1.7" height="9.80" fill="#e3d9d3"/>
<rect x="206.6" y="394.10" width="1.7" height="9.80" fill="#dcdddd"/>
<rect x="208.1" y="394.10" width="1.7" height="9.80" fill="#d6dbe4"/>
<rect x="209.5" y="394.10" width="4.6" height="9.80" fill="#d3dbe6"/>
<rect x="213.8" y="394.10" width="6.0" height="9.80" fill="#cdd8ea"/>
<rect x="219.6" y="394.10" width="1.7" height="9.80" fill="#cbd8eb"/>
<rect x="221.0" y="394.10" width="1.7" height="9.80" fill="#d0d9e8"/>
<rect x="222.4" y="394.10" width="1.7" height="9.80" fill="#d6dbe4"/>
<rect x="223.9" y="394.10" width="1.7" height="9.80" fill="#d9dce1"/>
<rect x="225.3" y="394.10" width="4.6" height="9.80" fill="#dcdddd"/>
<rect x="229.6" y="394.10" width="1.7" height="9.80" fill="#e5d8d1"/>
<rect x="231.1" y="394.10" width="4.6" height="9.80" fill="#ecd3c5"/>
<rect x="235.4" y="394.10" width="1.7" height="9.80" fill="#e7d7ce"/>
<rect x="236.8" y="394.10" width="1.7" height="9.80" fill="#dfdbd9"/>
<rect x="238.2" y="394.10" width="3.2" height="9.80" fill="#dbdcde"/>
<rect x="241.1" y="394.10" width="3.2" height="9.80" fill="#dcdddd"/>
<rect x="244.0" y="394.10" width="1.7" height="9.80" fill="#e1dad6"/>
<rect x="245.4" y="394.10" width="1.7" height="9.80" fill="#ead5c9"/>
<rect x="246.9" y="394.10" width="6.0" height="9.80" fill="#f0cdbb"/>
<rect x="252.6" y="394.10" width="4.6" height="9.80" fill="#efcfbf"/>
<rect x="256.9" y="394.10" width="4.6" height="9.80" fill="#ecd3c5"/>
<rect x="261.2" y="394.10" width="1.7" height="9.80" fill="#e8d6cc"/>
<rect x="262.7" y="394.10" width="1.7" height="9.80" fill="#e0dbd8"/>
<rect x="264.1" y="394.10" width="4.6" height="9.80" fill="#dbdcde"/>
<rect x="268.4" y="394.10" width="6.0" height="9.80" fill="#dadcdf"/>
<rect x="274.1" y="394.10" width="6.0" height="9.80" fill="#dddcdc"/>
<rect x="279.9" y="394.10" width="4.6" height="9.80" fill="#d9dce1"/>
<rect x="284.2" y="394.10" width="3.2" height="9.80" fill="#dcdddd"/>
<rect x="287.1" y="394.10" width="1.7" height="9.80" fill="#e1dad6"/>
<rect x="288.5" y="394.10" width="1.7" height="9.80" fill="#ead5c9"/>
<rect x="289.9" y="394.10" width="6.0" height="9.80" fill="#efcebd"/>
<rect x="295.7" y="394.10" width="3.2" height="9.80" fill="#eed0c0"/>
<rect x="298.6" y="394.10" width="1.7" height="9.80" fill="#ead4c8"/>
<rect x="300.0" y="394.10" width="1.7" height="9.80" fill="#e1dad6"/>
<rect x="301.4" y="394.10" width="1.7" height="9.80" fill="#d9dce1"/>
<rect x="302.9" y="394.10" width="1.7" height="9.80" fill="#d7dce3"/>
<rect x="304.3" y="394.10" width="1.7" height="9.80" fill="#d5dbe5"/>
<rect x="305.7" y="394.10" width="6.0" height="9.80" fill="#d3dbe6"/>
<rect x="311.5" y="394.10" width="4.6" height="9.80" fill="#d5dbe5"/>
<rect x="200.9" y="403.60" width="3.2" height="9.80" fill="#d6dbe4"/>
<rect x="203.8" y="403.60" width="6.0" height="9.80" fill="#d2dae7"/>
<rect x="209.5" y="403.60" width="6.0" height="9.80" fill="#dbdcde"/>
<rect x="215.3" y="403.60" width="16.1" height="9.80" fill="#d7dce3"/>
<rect x="231.1" y="403.60" width="6.0" height="9.80" fill="#d3dbe6"/>
<rect x="236.8" y="403.60" width="6.0" height="9.80" fill="#d5dbe5"/>
<rect x="242.6" y="403.60" width="6.0" height="9.80" fill="#d7dce3"/>
<rect x="248.3" y="403.60" width="4.6" height="9.80" fill="#d9dce1"/>
<rect x="252.6" y="403.60" width="6.0" height="9.80" fill="#d6dbe4"/>
<rect x="258.4" y="403.60" width="6.0" height="9.80" fill="#d0d9e8"/>
<rect x="264.1" y="403.60" width="6.0" height="9.80" fill="#d5dbe5"/>
<rect x="269.8" y="403.60" width="3.2" height="9.80" fill="#d7dce3"/>
<rect x="272.7" y="403.60" width="1.7" height="9.80" fill="#d5dbe5"/>
<rect x="274.1" y="403.60" width="6.0" height="9.80" fill="#d1dae8"/>
<rect x="279.9" y="403.60" width="1.7" height="9.80" fill="#ced9e9"/>
<rect x="281.3" y="403.60" width="1.7" height="9.80" fill="#d2dae7"/>
<rect x="282.8" y="403.60" width="1.7" height="9.80" fill="#d6dbe4"/>
<rect x="284.2" y="403.60" width="1.7" height="9.80" fill="#d8dce2"/>
<rect x="285.6" y="403.60" width="6.0" height="9.80" fill="#dddcdc"/>
<rect x="291.4" y="403.60" width="6.0" height="9.80" fill="#dbdcde"/>
<rect x="297.1" y="403.60" width="6.0" height="9.80" fill="#dadcdf"/>
<rect x="302.9" y="403.60" width="4.6" height="9.80" fill="#d9dce1"/>
<rect x="307.2" y="403.60" width="6.0" height="9.80" fill="#d2dae7"/>
<rect x="312.9" y="403.60" width="3.2" height="9.80" fill="#d9dce1"/>
<line x1="229.50" y1="327.60" x2="229.50" y2="413.10" stroke="#111" stroke-width="1.1"/>
<line x1="200.90" y1="327.60" x2="200.90" y2="413.60" stroke="#111" stroke-width="1.0"/>
<line x1="200.40" y1="413.10" x2="315.80" y2="413.10" stroke="#111" stroke-width="1.0"/>
<line x1="200.90" y1="327.60" x2="315.80" y2="327.60" stroke="#111" stroke-width="1.0"/>
<line x1="315.80" y1="327.60" x2="315.80" y2="413.10" stroke="#111" stroke-width="1.0"/>
<line x1="197.90" y1="332.35" x2="200.90" y2="332.35" stroke="#111" stroke-width="0.9"/>
<text x="196.50" y="336.25" font-size="11.5" text-anchor="end" font-weight="normal" font-style="normal" fill="#000">1</text>
<line x1="197.90" y1="351.35" x2="200.90" y2="351.35" stroke="#111" stroke-width="0.9"/>
<text x="196.50" y="355.25" font-size="11.5" text-anchor="end" font-weight="normal" font-style="normal" fill="#000">3</text>
<line x1="197.90" y1="370.35" x2="200.90" y2="370.35" stroke="#111" stroke-width="0.9"/>
<text x="196.50" y="374.25" font-size="11.5" text-anchor="end" font-weight="normal" font-style="normal" fill="#000">5</text>
<line x1="197.90" y1="389.35" x2="200.90" y2="389.35" stroke="#111" stroke-width="0.9"/>
<text x="196.50" y="393.25" font-size="11.5" text-anchor="end" font-weight="normal" font-style="normal" fill="#000">7</text>
<line x1="197.90" y1="408.35" x2="200.90" y2="408.35" stroke="#111" stroke-width="0.9"/>
<text x="196.50" y="412.25" font-size="11.5" text-anchor="end" font-weight="normal" font-style="normal" fill="#000">9</text>
<line x1="201.40" y1="413.10" x2="201.40" y2="415.70" stroke="#111" stroke-width="0.9"/>
<line x1="229.70" y1="413.10" x2="229.70" y2="415.70" stroke="#111" stroke-width="0.9"/>
<line x1="286.30" y1="413.10" x2="286.30" y2="415.70" stroke="#111" stroke-width="0.9"/>
<text x="201.40" y="426.60" font-size="11.5" text-anchor="middle" font-weight="normal" font-style="normal" fill="#000">10</text>
<text x="195.10" y="426.60" font-size="11.5" text-anchor="end" font-weight="normal" font-style="normal" fill="#000">−</text>
<text x="229.70" y="426.60" font-size="11.5" text-anchor="middle" font-weight="normal" font-style="normal" fill="#000">0</text>
<text x="286.30" y="426.60" font-size="11.5" text-anchor="middle" font-weight="normal" font-style="normal" fill="#000">20</text>
<text x="255.50" y="441.20" font-size="11.5" text-anchor="middle" font-weight="normal" font-style="normal" fill="#000">Time (s)</text>
<rect x="421.4" y="328.00" width="3.2" height="4.98" fill="#dcdddd"/>
<rect x="424.3" y="328.00" width="3.2" height="4.98" fill="#dbdcde"/>
<rect x="427.1" y="328.00" width="3.2" height="4.98" fill="#d8dce2"/>
<rect x="430.0" y="328.00" width="3.2" height="4.98" fill="#dadcdf"/>
<rect x="432.8" y="328.00" width="3.2" height="4.98" fill="#d9dce1"/>
<rect x="435.7" y="328.00" width="3.2" height="4.98" fill="#dbdcde"/>
<rect x="438.5" y="328.00" width="3.2" height="4.98" fill="#d9dce1"/>
<rect x="441.4" y="328.00" width="1.7" height="4.98" fill="#dadcdf"/>
<rect x="442.8" y="328.00" width="1.7" height="4.98" fill="#d6dbe4"/>
<rect x="444.2" y="328.00" width="3.2" height="4.98" fill="#cad7eb"/>
<rect x="447.1" y="328.00" width="1.7" height="4.98" fill="#d1dae8"/>
<rect x="448.5" y="328.00" width="1.7" height="4.98" fill="#d6dbe4"/>
<rect x="449.9" y="328.00" width="1.7" height="4.98" fill="#dddcdc"/>
<rect x="451.4" y="328.00" width="1.7" height="4.98" fill="#e3d9d3"/>
<rect x="452.8" y="328.00" width="3.2" height="4.98" fill="#e8d6cc"/>
<rect x="455.6" y="328.00" width="1.7" height="4.98" fill="#ebd3c6"/>
<rect x="457.1" y="328.00" width="1.7" height="4.98" fill="#ecd3c5"/>
<rect x="458.5" y="328.00" width="4.6" height="4.98" fill="#ead4c8"/>
<rect x="462.8" y="328.00" width="1.7" height="4.98" fill="#f5c4ac"/>
<rect x="464.2" y="328.00" width="1.7" height="4.98" fill="#f29274"/>
<rect x="465.6" y="328.00" width="1.7" height="4.98" fill="#d25543"/>
<rect x="467.0" y="328.00" width="3.2" height="4.98" fill="#b4142c"/>
<rect x="469.9" y="328.00" width="3.2" height="4.98" fill="#c53f38"/>
<rect x="472.7" y="328.00" width="3.2" height="4.98" fill="#b4142c"/>
<rect x="475.6" y="328.00" width="3.2" height="4.98" fill="#cb493c"/>
<rect x="478.4" y="328.00" width="3.2" height="4.98" fill="#be3133"/>
<rect x="481.3" y="328.00" width="3.2" height="4.98" fill="#b71c2e"/>
<rect x="484.2" y="328.00" width="3.2" height="4.98" fill="#c33a36"/>
<rect x="487.0" y="328.00" width="3.2" height="4.98" fill="#b71c2e"/>
<rect x="489.9" y="328.00" width="3.2" height="4.98" fill="#b4142c"/>
<rect x="492.7" y="328.00" width="3.2" height="4.98" fill="#c74139"/>
<rect x="495.6" y="328.00" width="3.2" height="4.98" fill="#ba2530"/>
<rect x="498.4" y="328.00" width="3.2" height="4.98" fill="#bd2d32"/>
<rect x="501.3" y="328.00" width="3.2" height="4.98" fill="#cf4e40"/>
<rect x="504.1" y="328.00" width="1.7" height="4.98" fill="#d05041"/>
<rect x="505.5" y="328.00" width="1.7" height="4.98" fill="#ed8366"/>
<rect x="507.0" y="328.00" width="1.7" height="4.98" fill="#f7a688"/>
<rect x="508.4" y="328.00" width="1.7" height="4.98" fill="#f7b093"/>
<rect x="509.8" y="328.00" width="3.2" height="4.98" fill="#f7a688"/>
<rect x="512.7" y="328.00" width="3.2" height="4.98" fill="#f7b79b"/>
<rect x="515.5" y="328.00" width="1.7" height="4.98" fill="#f6a586"/>
<rect x="517.0" y="328.00" width="1.7" height="4.98" fill="#f7a688"/>
<rect x="518.4" y="328.00" width="1.7" height="4.98" fill="#f7b599"/>
<rect x="519.8" y="328.00" width="1.7" height="4.98" fill="#f7b79b"/>
<rect x="521.2" y="328.00" width="1.7" height="4.98" fill="#f6a586"/>
<rect x="522.7" y="328.00" width="1.7" height="4.98" fill="#f7a688"/>
<rect x="524.1" y="328.00" width="3.2" height="4.98" fill="#f7b093"/>
<rect x="526.9" y="328.00" width="4.6" height="4.98" fill="#f7b194"/>
<rect x="531.2" y="328.00" width="1.7" height="4.98" fill="#f7b396"/>
<rect x="532.6" y="328.00" width="1.7" height="4.98" fill="#f7b497"/>
<rect x="534.1" y="328.00" width="1.7" height="4.98" fill="#f7b79b"/>
<rect x="421.4" y="332.68" width="1.7" height="4.98" fill="#d7dce3"/>
<rect x="422.8" y="332.68" width="1.7" height="4.98" fill="#d1dae8"/>
<rect x="424.3" y="332.68" width="1.7" height="4.98" fill="#cdd8ea"/>
<rect x="425.7" y="332.68" width="3.2" height="4.98" fill="#cad7eb"/>
<rect x="428.5" y="332.68" width="3.2" height="4.98" fill="#d1dae8"/>
<rect x="431.4" y="332.68" width="1.7" height="4.98" fill="#d5dbe5"/>
<rect x="432.8" y="332.68" width="1.7" height="4.98" fill="#dadcdf"/>
<rect x="434.2" y="332.68" width="3.2" height="4.98" fill="#dbdcde"/>
<rect x="437.1" y="332.68" width="3.2" height="4.98" fill="#dadcdf"/>
<rect x="439.9" y="332.68" width="3.2" height="4.98" fill="#d9dce1"/>
<rect x="442.8" y="332.68" width="3.2" height="4.98" fill="#d8dce2"/>
<rect x="445.6" y="332.68" width="3.2" height="4.98" fill="#d9dce1"/>
<rect x="448.5" y="332.68" width="1.7" height="4.98" fill="#dbdcde"/>
<rect x="449.9" y="332.68" width="1.7" height="4.98" fill="#e1dad6"/>
<rect x="451.4" y="332.68" width="1.7" height="4.98" fill="#e4d9d2"/>
<rect x="452.8" y="332.68" width="1.7" height="4.98" fill="#e9d5cb"/>
<rect x="454.2" y="332.68" width="3.2" height="4.98" fill="#f1cdba"/>
<rect x="457.1" y="332.68" width="1.7" height="4.98" fill="#ebd3c6"/>
<rect x="458.5" y="332.68" width="1.7" height="4.98" fill="#ecd3c5"/>
<rect x="459.9" y="332.68" width="3.2" height="4.98" fill="#f0cdbb"/>
<rect x="462.8" y="332.68" width="3.2" height="4.98" fill="#efcebd"/>
<rect x="465.6" y="332.68" width="1.7" height="4.98" fill="#f1cdba"/>
<rect x="467.0" y="332.68" width="1.7" height="4.98" fill="#f3c8b2"/>
<rect x="468.5" y="332.68" width="1.7" height="4.98" fill="#f5c1a9"/>
<rect x="469.9" y="332.68" width="4.6" height="4.98" fill="#f7bca1"/>
<rect x="474.2" y="332.68" width="3.2" height="4.98" fill="#f7b599"/>
<rect x="477.0" y="332.68" width="3.2" height="4.98" fill="#f7ba9f"/>
<rect x="479.9" y="332.68" width="3.2" height="4.98" fill="#f6a586"/>
<rect x="482.7" y="332.68" width="3.2" height="4.98" fill="#f7b599"/>
<rect x="485.6" y="332.68" width="1.7" height="4.98" fill="#f7b79b"/>
<rect x="487.0" y="332.68" width="3.2" height="4.98" fill="#f7b599"/>
<rect x="489.9" y="332.68" width="1.7" height="4.98" fill="#f7b497"/>
<rect x="491.3" y="332.68" width="3.2" height="4.98" fill="#f7b89c"/>
<rect x="494.1" y="332.68" width="1.7" height="4.98" fill="#f6bda2"/>
<rect x="495.6" y="332.68" width="1.7" height="4.98" fill="#f6bfa6"/>
<rect x="497.0" y="332.68" width="1.7" height="4.98" fill="#f7b99e"/>
<rect x="498.4" y="332.68" width="1.7" height="4.98" fill="#f7bca1"/>
<rect x="499.8" y="332.68" width="3.2" height="4.98" fill="#f7b89c"/>
<rect x="502.7" y="332.68" width="3.2" height="4.98" fill="#f5c2aa"/>
<rect x="505.5" y="332.68" width="3.2" height="4.98" fill="#f7ba9f"/>
<rect x="508.4" y="332.68" width="3.2" height="4.98" fill="#f5c1a9"/>
<rect x="511.3" y="332.68" width="3.2" height="4.98" fill="#f7bca1"/>
<rect x="514.1" y="332.68" width="7.4" height="4.98" fill="#f7b99e"/>
<rect x="521.2" y="332.68" width="1.7" height="4.98" fill="#f7ba9f"/>
<rect x="522.7" y="332.68" width="3.2" height="4.98" fill="#f5c0a7"/>
<rect x="525.5" y="332.68" width="1.7" height="4.98" fill="#f7b89c"/>
<rect x="526.9" y="332.68" width="1.7" height="4.98" fill="#f7b99e"/>
<rect x="528.4" y="332.68" width="1.7" height="4.98" fill="#f5c1a9"/>
<rect x="529.8" y="332.68" width="1.7" height="4.98" fill="#f5c2aa"/>
<rect x="531.2" y="332.68" width="1.7" height="4.98" fill="#f6bfa6"/>
<rect x="532.6" y="332.68" width="3.2" height="4.98" fill="#f5c0a7"/>
<rect x="421.4" y="337.37" width="1.7" height="4.98" fill="#d5dbe5"/>
<rect x="422.8" y="337.37" width="1.7" height="4.98" fill="#d3dbe6"/>
<rect x="424.3" y="337.37" width="1.7" height="4.98" fill="#d8dce2"/>
<rect x="425.7" y="337.37" width="1.7" height="4.98" fill="#d7dce3"/>
<rect x="427.1" y="337.37" width="1.7" height="4.98" fill="#ced9e9"/>
<rect x="428.5" y="337.37" width="1.7" height="4.98" fill="#cdd8ea"/>
<rect x="430.0" y="337.37" width="3.2" height="4.98" fill="#ced9e9"/>
<rect x="432.8" y="337.37" width="3.2" height="4.98" fill="#cdd8ea"/>
<rect x="435.7" y="337.37" width="1.7" height="4.98" fill="#dbdcde"/>
<rect x="437.1" y="337.37" width="1.7" height="4.98" fill="#e6d7cf"/>
<rect x="438.5" y="337.37" width="3.2" height="4.98" fill="#e9d5cb"/>
<rect x="441.4" y="337.37" width="1.7" height="4.98" fill="#e2dad5"/>
<rect x="442.8" y="337.37" width="1.7" height="4.98" fill="#dfdbd9"/>
<rect x="444.2" y="337.37" width="1.7" height="4.98" fill="#e2dad5"/>
<rect x="445.6" y="337.37" width="1.7" height="4.98" fill="#dfdbd9"/>
<rect x="447.1" y="337.37" width="4.6" height="4.98" fill="#e3d9d3"/>
<rect x="451.4" y="337.37" width="1.7" height="4.98" fill="#e5d8d1"/>
<rect x="452.8" y="337.37" width="1.7" height="4.98" fill="#dfdbd9"/>
<rect x="454.2" y="337.37" width="1.7" height="4.98" fill="#e0dbd8"/>
<rect x="455.6" y="337.37" width="1.7" height="4.98" fill="#e8d6cc"/>
<rect x="457.1" y="337.37" width="1.7" height="4.98" fill="#f0cdbb"/>
<rect x="458.5" y="337.37" width="1.7" height="4.98" fill="#f5c0a7"/>
<rect x="459.9" y="337.37" width="1.7" height="4.98" fill="#f7b89c"/>
<rect x="461.3" y="337.37" width="1.7" height="4.98" fill="#f7b093"/>
<rect x="462.8" y="337.37" width="1.7" height="4.98" fill="#f7aa8c"/>
<rect x="464.2" y="337.37" width="1.7" height="4.98" fill="#f7ac8e"/>
<rect x="465.6" y="337.37" width="1.7" height="4.98" fill="#f7a889"/>
<rect x="467.0" y="337.37" width="1.7" height="4.98" fill="#f7aa8c"/>
<rect x="468.5" y="337.37" width="1.7" height="4.98" fill="#f7a688"/>
<rect x="469.9" y="337.37" width="1.7" height="4.98" fill="#f18d6f"/>
<rect x="471.3" y="337.37" width="1.7" height="4.98" fill="#ec8165"/>
<rect x="472.7" y="337.37" width="3.2" height="4.98" fill="#eb7e62"/>
<rect x="475.6" y="337.37" width="3.2" height="4.98" fill="#f29274"/>
<rect x="478.4" y="337.37" width="1.7" height="4.98" fill="#f29072"/>
<rect x="479.9" y="337.37" width="1.7" height="4.98" fill="#f59f80"/>
<rect x="481.3" y="337.37" width="3.2" height="4.98" fill="#f6a283"/>
<rect x="484.2" y="337.37" width="3.2" height="4.98" fill="#f7a688"/>
<rect x="487.0" y="337.37" width="1.7" height="4.98" fill="#f6a385"/>
<rect x="488.4" y="337.37" width="1.7" height="4.98" fill="#f6a586"/>
<rect x="489.9" y="337.37" width="1.7" height="4.98" fill="#f6a385"/>
<rect x="491.3" y="337.37" width="1.7" height="4.98" fill="#f6a586"/>
<rect x="492.7" y="337.37" width="3.2" height="4.98" fill="#f7a889"/>
<rect x="495.6" y="337.37" width="1.7" height="4.98" fill="#f7af91"/>
<rect x="497.0" y="337.37" width="1.7" height="4.98" fill="#f7b093"/>
<rect x="498.4" y="337.37" width="1.7" height="4.98" fill="#f7ba9f"/>
<rect x="499.8" y="337.37" width="1.7" height="4.98" fill="#f6bda2"/>
<rect x="501.3" y="337.37" width="3.2" height="4.98" fill="#f7b194"/>
<rect x="504.1" y="337.37" width="3.2" height="4.98" fill="#f7ad90"/>
<rect x="507.0" y="337.37" width="3.2" height="4.98" fill="#f7aa8c"/>
<rect x="509.8" y="337.37" width="1.7" height="4.98" fill="#f7b89c"/>
<rect x="511.3" y="337.37" width="4.6" height="4.98" fill="#f7b99e"/>
<rect x="515.5" y="337.37" width="1.7" height="4.98" fill="#f7b093"/>
<rect x="517.0" y="337.37" width="3.2" height="4.98" fill="#f7b194"/>
<rect x="519.8" y="337.37" width="1.7" height="4.98" fill="#f7b396"/>
<rect x="521.2" y="337.37" width="1.7" height="4.98" fill="#f7b99e"/>
<rect x="522.7" y="337.37" width="1.7" height="4.98" fill="#f7ba9f"/>
<rect x="524.1" y="337.37" width="1.7" height="4.98" fill="#f7b89c"/>
<rect x="525.5" y="337.37" width="1.7" height="4.98" fill="#f7b99e"/>
<rect x="526.9" y="337.37" width="1.7" height="4.98" fill="#f5c4ac"/>
<rect x="528.4" y="337.37" width="1.7" height="4.98" fill="#f3c8b2"/>
<rect x="529.8" y="337.37" width="1.7" height="4.98" fill="#f4c6af"/>
<rect x="531.2" y="337.37" width="1.7" height="4.98" fill="#f2cab5"/>
<rect x="532.6" y="337.37" width="1.7" height="4.98" fill="#edd1c2"/>
<rect x="534.1" y="337.37" width="1.7" height="4.98" fill="#ecd3c5"/>
<rect x="421.4" y="342.05" width="3.2" height="4.98" fill="#d2dae7"/>
<rect x="424.3" y="342.05" width="3.2" height="4.98" fill="#d1dae8"/>
<rect x="427.1" y="342.05" width="3.2" height="4.98" fill="#cad7eb"/>
<rect x="430.0" y="342.05" width="1.7" height="4.98" fill="#d1dae8"/>
<rect x="431.4" y="342.05" width="1.7" height="4.98" fill="#d5dbe5"/>
<rect x="432.8" y="342.05" width="1.7" height="4.98" fill="#dddcdc"/>
<rect x="434.2" y="342.05" width="1.7" height="4.98" fill="#e2dad5"/>
<rect x="435.7" y="342.05" width="1.7" height="4.98" fill="#e5d8d1"/>
<rect x="437.1" y="342.05" width="1.7" height="4.98" fill="#e9d5cb"/>
<rect x="438.5" y="342.05" width="1.7" height="4.98" fill="#ebd3c6"/>
<rect x="439.9" y="342.05" width="1.7" height="4.98" fill="#edd2c3"/>
<rect x="441.4" y="342.05" width="3.2" height="4.98" fill="#efcfbf"/>
<rect x="444.2" y="342.05" width="3.2" height="4.98" fill="#efcebd"/>
<rect x="447.1" y="342.05" width="3.2" height="4.98" fill="#f0cdbb"/>
<rect x="449.9" y="342.05" width="1.7" height="4.98" fill="#ead4c8"/>
<rect x="451.4" y="342.05" width="1.7" height="4.98" fill="#e9d5cb"/>
<rect x="452.8" y="342.05" width="1.7" height="4.98" fill="#ead5c9"/>
<rect x="454.2" y="342.05" width="1.7" height="4.98" fill="#f0cdbb"/>
<rect x="455.6" y="342.05" width="1.7" height="4.98" fill="#f7bca1"/>
<rect x="457.1" y="342.05" width="1.7" height="4.98" fill="#f39577"/>
<rect x="458.5" y="342.05" width="1.7" height="4.98" fill="#dc634d"/>
<rect x="459.9" y="342.05" width="1.7" height="4.98" fill="#c74139"/>
<rect x="461.3" y="342.05" width="3.2" height="4.98" fill="#cd4c3f"/>
<rect x="464.2" y="342.05" width="3.2" height="4.98" fill="#be3133"/>
<rect x="467.0" y="342.05" width="3.2" height="4.98" fill="#c74139"/>
<rect x="469.9" y="342.05" width="3.2" height="4.98" fill="#b4142c"/>
<rect x="472.7" y="342.05" width="3.2" height="4.98" fill="#be3133"/>
<rect x="475.6" y="342.05" width="3.2" height="4.98" fill="#c03634"/>
<rect x="478.4" y="342.05" width="3.2" height="4.98" fill="#c13835"/>
<rect x="481.3" y="342.05" width="3.2" height="4.98" fill="#b4142c"/>
<rect x="484.2" y="342.05" width="3.2" height="4.98" fill="#c8443a"/>
<rect x="487.0" y="342.05" width="3.2" height="4.98" fill="#be3133"/>
<rect x="489.9" y="342.05" width="1.7" height="4.98" fill="#c53f38"/>
<rect x="491.3" y="342.05" width="1.7" height="4.98" fill="#c74139"/>
<rect x="492.7" y="342.05" width="1.7" height="4.98" fill="#d15342"/>
<rect x="494.1" y="342.05" width="1.7" height="4.98" fill="#df6850"/>
<rect x="495.6" y="342.05" width="1.7" height="4.98" fill="#e6755a"/>
<rect x="497.0" y="342.05" width="1.7" height="4.98" fill="#e97b60"/>
<rect x="498.4" y="342.05" width="1.7" height="4.98" fill="#e8785d"/>
<rect x="499.8" y="342.05" width="1.7" height="4.98" fill="#ec8064"/>
<rect x="501.3" y="342.05" width="1.7" height="4.98" fill="#f7aa8c"/>
<rect x="502.7" y="342.05" width="1.7" height="4.98" fill="#f5c1a9"/>
<rect x="504.1" y="342.05" width="1.7" height="4.98" fill="#f4c5ad"/>
<rect x="505.5" y="342.05" width="1.7" height="4.98" fill="#f4c6af"/>
<rect x="507.0" y="342.05" width="1.7" height="4.98" fill="#f6bea4"/>
<rect x="508.4" y="342.05" width="1.7" height="4.98" fill="#f6bfa6"/>
<rect x="509.8" y="342.05" width="1.7" height="4.98" fill="#f2c9b4"/>
<rect x="511.3" y="342.05" width="1.7" height="4.98" fill="#f2cab5"/>
<rect x="512.7" y="342.05" width="1.7" height="4.98" fill="#f2c9b4"/>
<rect x="514.1" y="342.05" width="1.7" height="4.98" fill="#f2cab5"/>
<rect x="515.5" y="342.05" width="1.7" height="4.98" fill="#f1cdba"/>
<rect x="517.0" y="342.05" width="1.7" height="4.98" fill="#f0cdbb"/>
<rect x="518.4" y="342.05" width="1.7" height="4.98" fill="#edd2c3"/>
<rect x="519.8" y="342.05" width="1.7" height="4.98" fill="#ecd3c5"/>
<rect x="521.2" y="342.05" width="1.7" height="4.98" fill="#f1ccb8"/>
<rect x="522.7" y="342.05" width="1.7" height="4.98" fill="#f1cdba"/>
<rect x="524.1" y="342.05" width="1.7" height="4.98" fill="#f3c8b2"/>
<rect x="525.5" y="342.05" width="1.7" height="4.98" fill="#f2c9b4"/>
<rect x="526.9" y="342.05" width="1.7" height="4.98" fill="#efcfbf"/>
<rect x="528.4" y="342.05" width="1.7" height="4.98" fill="#eed0c0"/>
<rect x="529.8" y="342.05" width="3.2" height="4.98" fill="#ead5c9"/>
<rect x="532.6" y="342.05" width="1.7" height="4.98" fill="#efcebd"/>
<rect x="534.1" y="342.05" width="1.7" height="4.98" fill="#efcfbf"/>
<rect x="421.4" y="346.73" width="3.2" height="4.98" fill="#dcdddd"/>
<rect x="424.3" y="346.73" width="3.2" height="4.98" fill="#dedcdb"/>
<rect x="427.1" y="346.73" width="3.2" height="4.98" fill="#d7dce3"/>
<rect x="430.0" y="346.73" width="3.2" height="4.98" fill="#e0dbd8"/>
<rect x="432.8" y="346.73" width="3.2" height="4.98" fill="#dddcdc"/>
<rect x="435.7" y="346.73" width="4.6" height="4.98" fill="#e0dbd8"/>
<rect x="439.9" y="346.73" width="1.7" height="4.98" fill="#ead5c9"/>
<rect x="441.4" y="346.73" width="3.2" height="4.98" fill="#edd2c3"/>
<rect x="444.2" y="346.73" width="3.2" height="4.98" fill="#edd1c2"/>
<rect x="447.1" y="346.73" width="3.2" height="4.98" fill="#ebd3c6"/>
<rect x="449.9" y="346.73" width="1.7" height="4.98" fill="#e8d6cc"/>
<rect x="451.4" y="346.73" width="1.7" height="4.98" fill="#e7d7ce"/>
<rect x="452.8" y="346.73" width="1.7" height="4.98" fill="#ebd3c6"/>
<rect x="454.2" y="346.73" width="4.6" height="4.98" fill="#ead5c9"/>
<rect x="458.5" y="346.73" width="3.2" height="4.98" fill="#e5d8d1"/>
<rect x="461.3" y="346.73" width="3.2" height="4.98" fill="#ebd3c6"/>
<rect x="464.2" y="346.73" width="3.2" height="4.98" fill="#ead5c9"/>
<rect x="467.0" y="346.73" width="3.2" height="4.98" fill="#ead4c8"/>
<rect x="469.9" y="346.73" width="3.2" height="4.98" fill="#e6d7cf"/>
<rect x="472.7" y="346.73" width="3.2" height="4.98" fill="#e3d9d3"/>
<rect x="475.6" y="346.73" width="6.0" height="4.98" fill="#ebd3c6"/>
<rect x="481.3" y="346.73" width="3.2" height="4.98" fill="#e9d5cb"/>
<rect x="484.2" y="346.73" width="6.0" height="4.98" fill="#e8d6cc"/>
<rect x="489.9" y="346.73" width="3.2" height="4.98" fill="#e9d5cb"/>
<rect x="492.7" y="346.73" width="3.2" height="4.98" fill="#e7d7ce"/>
<rect x="495.6" y="346.73" width="3.2" height="4.98" fill="#e2dad5"/>
<rect x="498.4" y="346.73" width="3.2" height="4.98" fill="#ebd3c6"/>
<rect x="501.3" y="346.73" width="3.2" height="4.98" fill="#e4d9d2"/>
<rect x="504.1" y="346.73" width="6.0" height="4.98" fill="#e8d6cc"/>
<rect x="509.8" y="346.73" width="3.2" height="4.98" fill="#ead5c9"/>
<rect x="512.7" y="346.73" width="3.2" height="4.98" fill="#e3d9d3"/>
<rect x="515.5" y="346.73" width="3.2" height="4.98" fill="#edd2c3"/>
<rect x="518.4" y="346.73" width="6.0" height="4.98" fill="#ebd3c6"/>
<rect x="524.1" y="346.73" width="3.2" height="4.98" fill="#edd2c3"/>
<rect x="526.9" y="346.73" width="3.2" height="4.98" fill="#e6d7cf"/>
<rect x="529.8" y="346.73" width="3.2" height="4.98" fill="#e2dad5"/>
<rect x="532.6" y="346.73" width="3.2" height="4.98" fill="#ead5c9"/>
<rect x="421.4" y="351.42" width="1.7" height="4.98" fill="#d6dbe4"/>
<rect x="422.8" y="351.42" width="1.7" height="4.98" fill="#cdd8ea"/>
<rect x="424.3" y="351.42" width="3.2" height="4.98" fill="#c5d5ec"/>
<rect x="427.1" y="351.42" width="3.2" height="4.98" fill="#c8d6ec"/>
<rect x="430.0" y="351.42" width="3.2" height="4.98" fill="#c9d6eb"/>
<rect x="432.8" y="351.42" width="3.2" height="4.98" fill="#bfd1ed"/>
<rect x="435.7" y="351.42" width="1.7" height="4.98" fill="#cbd8eb"/>
<rect x="437.1" y="351.42" width="1.7" height="4.98" fill="#d5dbe5"/>
<rect x="438.5" y="351.42" width="3.2" height="4.98" fill="#dadcdf"/>
<rect x="441.4" y="351.42" width="3.2" height="4.98" fill="#e2dad5"/>
<rect x="444.2" y="351.42" width="3.2" height="4.98" fill="#dadcdf"/>
<rect x="447.1" y="351.42" width="3.2" height="4.98" fill="#e2dad5"/>
<rect x="449.9" y="351.42" width="1.7" height="4.98" fill="#e3d9d3"/>
<rect x="451.4" y="351.42" width="1.7" height="4.98" fill="#e9d5cb"/>
<rect x="452.8" y="351.42" width="3.2" height="4.98" fill="#e3d9d3"/>
<rect x="455.6" y="351.42" width="3.2" height="4.98" fill="#efcfbf"/>
<rect x="458.5" y="351.42" width="3.2" height="4.98" fill="#e6d7cf"/>
<rect x="461.3" y="351.42" width="3.2" height="4.98" fill="#ebd3c6"/>
<rect x="464.2" y="351.42" width="3.2" height="4.98" fill="#eed0c0"/>
<rect x="467.0" y="351.42" width="3.2" height="4.98" fill="#e7d7ce"/>
<rect x="469.9" y="351.42" width="3.2" height="4.98" fill="#e5d8d1"/>
<rect x="472.7" y="351.42" width="3.2" height="4.98" fill="#ecd3c5"/>
<rect x="475.6" y="351.42" width="3.2" height="4.98" fill="#ead5c9"/>
<rect x="478.4" y="351.42" width="6.0" height="4.98" fill="#e5d8d1"/>
<rect x="484.2" y="351.42" width="3.2" height="4.98" fill="#e8d6cc"/>
<rect x="487.0" y="351.42" width="3.2" height="4.98" fill="#ecd3c5"/>
<rect x="489.9" y="351.42" width="3.2" height="4.98" fill="#e8d6cc"/>
<rect x="492.7" y="351.42" width="3.2" height="4.98" fill="#ebd3c6"/>
<rect x="495.6" y="351.42" width="3.2" height="4.98" fill="#edd1c2"/>
<rect x="498.4" y="351.42" width="3.2" height="4.98" fill="#edd2c3"/>
<rect x="501.3" y="351.42" width="3.2" height="4.98" fill="#edd1c2"/>
<rect x="504.1" y="351.42" width="3.2" height="4.98" fill="#edd2c3"/>
<rect x="507.0" y="351.42" width="3.2" height="4.98" fill="#e3d9d3"/>
<rect x="509.8" y="351.42" width="3.2" height="4.98" fill="#edd2c3"/>
<rect x="512.7" y="351.42" width="1.7" height="4.98" fill="#efcfbf"/>
<rect x="514.1" y="351.42" width="1.7" height="4.98" fill="#f2cab5"/>
<rect x="515.5" y="351.42" width="3.2" height="4.98" fill="#f2cbb7"/>
<rect x="518.4" y="351.42" width="3.2" height="4.98" fill="#efcebd"/>
<rect x="521.2" y="351.42" width="1.7" height="4.98" fill="#e9d5cb"/>
<rect x="522.7" y="351.42" width="1.7" height="4.98" fill="#e3d9d3"/>
<rect x="524.1" y="351.42" width="1.7" height="4.98" fill="#e5d8d1"/>
<rect x="525.5" y="351.42" width="1.7" height="4.98" fill="#e4d9d2"/>
<rect x="526.9" y="351.42" width="3.2" height="4.98" fill="#e8d6cc"/>
<rect x="529.8" y="351.42" width="3.2" height="4.98" fill="#e3d9d3"/>
<rect x="532.6" y="351.42" width="3.2" height="4.98" fill="#e4d9d2"/>
<rect x="421.4" y="356.10" width="4.6" height="4.98" fill="#d8dce2"/>
<rect x="425.7" y="356.10" width="3.2" height="4.98" fill="#dddcdc"/>
<rect x="428.5" y="356.10" width="3.2" height="4.98" fill="#d8dce2"/>
<rect x="431.4" y="356.10" width="3.2" height="4.98" fill="#dbdcde"/>
<rect x="434.2" y="356.10" width="3.2" height="4.98" fill="#d5dbe5"/>
<rect x="437.1" y="356.10" width="3.2" height="4.98" fill="#dadcdf"/>
<rect x="439.9" y="356.10" width="6.0" height="4.98" fill="#d9dce1"/>
<rect x="445.6" y="356.10" width="3.2" height="4.98" fill="#d7dce3"/>
<rect x="448.5" y="356.10" width="1.7" height="4.98" fill="#d5dbe5"/>
<rect x="449.9" y="356.10" width="1.7" height="4.98" fill="#dfdbd9"/>
<rect x="451.4" y="356.10" width="3.2" height="4.98" fill="#ead4c8"/>
<rect x="454.2" y="356.10" width="3.2" height="4.98" fill="#ead5c9"/>
<rect x="457.1" y="356.10" width="3.2" height="4.98" fill="#eed0c0"/>
<rect x="459.9" y="356.10" width="3.2" height="4.98" fill="#edd1c2"/>
<rect x="462.8" y="356.10" width="3.2" height="4.98" fill="#e7d7ce"/>
<rect x="465.6" y="356.10" width="3.2" height="4.98" fill="#edd2c3"/>
<rect x="468.5" y="356.10" width="3.2" height="4.98" fill="#e9d5cb"/>
<rect x="471.3" y="356.10" width="3.2" height="4.98" fill="#ecd3c5"/>
<rect x="474.2" y="356.10" width="3.2" height="4.98" fill="#e9d5cb"/>
<rect x="477.0" y="356.10" width="3.2" height="4.98" fill="#e5d8d1"/>
<rect x="479.9" y="356.10" width="3.2" height="4.98" fill="#edd1c2"/>
<rect x="482.7" y="356.10" width="3.2" height="4.98" fill="#ecd3c5"/>
<rect x="485.6" y="356.10" width="3.2" height="4.98" fill="#e6d7cf"/>
<rect x="488.4" y="356.10" width="3.2" height="4.98" fill="#e4d9d2"/>
<rect x="491.3" y="356.10" width="3.2" height="4.98" fill="#e9d5cb"/>
<rect x="494.1" y="356.10" width="3.2" height="4.98" fill="#e6d7cf"/>
<rect x="497.0" y="356.10" width="3.2" height="4.98" fill="#e9d5cb"/>
<rect x="499.8" y="356.10" width="3.2" height="4.98" fill="#ecd3c5"/>
<rect x="502.7" y="356.10" width="3.2" height="4.98" fill="#eed0c0"/>
<rect x="505.5" y="356.10" width="3.2" height="4.98" fill="#e9d5cb"/>
<rect x="508.4" y="356.10" width="3.2" height="4.98" fill="#edd1c2"/>
<rect x="511.3" y="356.10" width="3.2" height="4.98" fill="#edd2c3"/>
<rect x="514.1" y="356.10" width="3.2" height="4.98" fill="#e8d6cc"/>
<rect x="517.0" y="356.10" width="3.2" height="4.98" fill="#e4d9d2"/>
<rect x="519.8" y="356.10" width="3.2" height="4.98" fill="#ecd3c5"/>
<rect x="522.7" y="356.10" width="3.2" height="4.98" fill="#ebd3c6"/>
<rect x="525.5" y="356.10" width="3.2" height="4.98" fill="#efcfbf"/>
<rect x="528.4" y="356.10" width="3.2" height="4.98" fill="#edd1c2"/>
<rect x="531.2" y="356.10" width="3.2" height="4.98" fill="#ebd3c6"/>
<rect x="534.1" y="356.10" width="1.7" height="4.98" fill="#eed0c0"/>
<rect x="421.4" y="360.78" width="1.7" height="4.98" fill="#e1dad6"/>
<rect x="422.8" y="360.78" width="1.7" height="4.98" fill="#e7d7ce"/>
<rect x="424.3" y="360.78" width="1.7" height="4.98" fill="#ead4c8"/>
<rect x="425.7" y="360.78" width="3.2" height="4.98" fill="#f0cdbb"/>
<rect x="428.5" y="360.78" width="3.2" height="4.98" fill="#edd2c3"/>
<rect x="431.4" y="360.78" width="1.7" height="4.98" fill="#e4d9d2"/>
<rect x="432.8" y="360.78" width="1.7" height="4.98" fill="#e1dad6"/>
<rect x="434.2" y="360.78" width="1.7" height="4.98" fill="#e5d8d1"/>
<rect x="435.7" y="360.78" width="1.7" height="4.98" fill="#e1dad6"/>
<rect x="437.1" y="360.78" width="3.2" height="4.98" fill="#dadcdf"/>
<rect x="439.9" y="360.78" width="3.2" height="4.98" fill="#dfdbd9"/>
<rect x="442.8" y="360.78" width="3.2" height="4.98" fill="#dbdcde"/>
<rect x="445.6" y="360.78" width="3.2" height="4.98" fill="#dddcdc"/>
<rect x="448.5" y="360.78" width="1.7" height="4.98" fill="#dfdbd9"/>
<rect x="449.9" y="360.78" width="1.7" height="4.98" fill="#e8d6cc"/>
<rect x="451.4" y="360.78" width="3.2" height="4.98" fill="#efcfbf"/>
<rect x="454.2" y="360.78" width="3.2" height="4.98" fill="#ebd3c6"/>
<rect x="457.1" y="360.78" width="3.2" height="4.98" fill="#f1ccb8"/>
<rect x="459.9" y="360.78" width="3.2" height="4.98" fill="#efcfbf"/>
<rect x="462.8" y="360.78" width="3.2" height="4.98" fill="#eed0c0"/>
<rect x="465.6" y="360.78" width="3.2" height="4.98" fill="#f0cdbb"/>
<rect x="468.5" y="360.78" width="3.2" height="4.98" fill="#edd2c3"/>
<rect x="471.3" y="360.78" width="3.2" height="4.98" fill="#f2cab5"/>
<rect x="474.2" y="360.78" width="8.9" height="4.98" fill="#efcfbf"/>
<rect x="482.7" y="360.78" width="3.2" height="4.98" fill="#ebd3c6"/>
<rect x="485.6" y="360.78" width="3.2" height="4.98" fill="#ead4c8"/>
<rect x="488.4" y="360.78" width="1.7" height="4.98" fill="#efcfbf"/>
<rect x="489.9" y="360.78" width="1.7" height="4.98" fill="#efcebd"/>
<rect x="491.3" y="360.78" width="1.7" height="4.98" fill="#f2cbb7"/>
<rect x="492.7" y="360.78" width="1.7" height="4.98" fill="#f2c9b4"/>
<rect x="494.1" y="360.78" width="3.2" height="4.98" fill="#f4c5ad"/>
<rect x="497.0" y="360.78" width="3.2" height="4.98" fill="#f2c9b4"/>
<rect x="499.8" y="360.78" width="3.2" height="4.98" fill="#efcebd"/>
<rect x="502.7" y="360.78" width="3.2" height="4.98" fill="#f2c9b4"/>
<rect x="505.5" y="360.78" width="6.0" height="4.98" fill="#f3c7b1"/>
<rect x="511.3" y="360.78" width="3.2" height="4.98" fill="#f2c9b4"/>
<rect x="514.1" y="360.78" width="3.2" height="4.98" fill="#efcfbf"/>
<rect x="517.0" y="360.78" width="1.7" height="4.98" fill="#f4c6af"/>
<rect x="518.4" y="360.78" width="1.7" height="4.98" fill="#f2c9b4"/>
<rect x="519.8" y="360.78" width="1.7" height="4.98" fill="#ead5c9"/>
<rect x="521.2" y="360.78" width="1.7" height="4.98" fill="#e7d7ce"/>
<rect x="522.7" y="360.78" width="3.2" height="4.98" fill="#ebd3c6"/>
<rect x="525.5" y="360.78" width="3.2" height="4.98" fill="#e4d9d2"/>
<rect x="528.4" y="360.78" width="3.2" height="4.98" fill="#ebd3c6"/>
<rect x="531.2" y="360.78" width="3.2" height="4.98" fill="#e6d7cf"/>
<rect x="534.1" y="360.78" width="1.7" height="4.98" fill="#ecd3c5"/>
<rect x="421.4" y="365.47" width="1.7" height="4.98" fill="#dcdddd"/>
<rect x="422.8" y="365.47" width="1.7" height="4.98" fill="#d8dce2"/>
<rect x="424.3" y="365.47" width="3.2" height="4.98" fill="#cdd8ea"/>
<rect x="427.1" y="365.47" width="3.2" height="4.98" fill="#ced9e9"/>
<rect x="430.0" y="365.47" width="1.7" height="4.98" fill="#d1dae8"/>
<rect x="431.4" y="365.47" width="1.7" height="4.98" fill="#d5dbe5"/>
<rect x="432.8" y="365.47" width="1.7" height="4.98" fill="#dbdcde"/>
<rect x="434.2" y="365.47" width="1.7" height="4.98" fill="#d9dce1"/>
<rect x="435.7" y="365.47" width="1.7" height="4.98" fill="#d6dbe4"/>
<rect x="437.1" y="365.47" width="3.2" height="4.98" fill="#d5dbe5"/>
<rect x="439.9" y="365.47" width="1.7" height="4.98" fill="#d9dce1"/>
<rect x="441.4" y="365.47" width="3.2" height="4.98" fill="#dbdcde"/>
<rect x="444.2" y="365.47" width="7.4" height="4.98" fill="#dcdddd"/>
<rect x="451.4" y="365.47" width="1.7" height="4.98" fill="#d8dce2"/>
<rect x="452.8" y="365.47" width="3.2" height="4.98" fill="#d2dae7"/>
<rect x="455.6" y="365.47" width="3.2" height="4.98" fill="#d3dbe6"/>
<rect x="458.5" y="365.47" width="3.2" height="4.98" fill="#cbd8eb"/>
<rect x="461.3" y="365.47" width="3.2" height="4.98" fill="#cdd8ea"/>
<rect x="464.2" y="365.47" width="3.2" height="4.98" fill="#d0d9e8"/>
<rect x="467.0" y="365.47" width="3.2" height="4.98" fill="#cdd8ea"/>
<rect x="469.9" y="365.47" width="3.2" height="4.98" fill="#d3dbe6"/>
<rect x="472.7" y="365.47" width="3.2" height="4.98" fill="#d6dbe4"/>
<rect x="475.6" y="365.47" width="6.0" height="4.98" fill="#d1dae8"/>
<rect x="481.3" y="365.47" width="3.2" height="4.98" fill="#d0d9e8"/>
<rect x="484.2" y="365.47" width="3.2" height="4.98" fill="#d3dbe6"/>
<rect x="487.0" y="365.47" width="3.2" height="4.98" fill="#d0d9e8"/>
<rect x="489.9" y="365.47" width="3.2" height="4.98" fill="#d4dbe5"/>
<rect x="492.7" y="365.47" width="3.2" height="4.98" fill="#d3dbe6"/>
<rect x="495.6" y="365.47" width="3.2" height="4.98" fill="#d4dbe5"/>
<rect x="498.4" y="365.47" width="1.7" height="4.98" fill="#d7dce3"/>
<rect x="499.8" y="365.47" width="1.7" height="4.98" fill="#dbdcde"/>
<rect x="501.3" y="365.47" width="6.0" height="4.98" fill="#dadcdf"/>
<rect x="507.0" y="365.47" width="3.2" height="4.98" fill="#e0dbd8"/>
<rect x="509.8" y="365.47" width="3.2" height="4.98" fill="#dadcdf"/>
<rect x="512.7" y="365.47" width="3.2" height="4.98" fill="#dddcdc"/>
<rect x="515.5" y="365.47" width="3.2" height="4.98" fill="#dadcdf"/>
<rect x="518.4" y="365.47" width="6.0" height="4.98" fill="#d8dce2"/>
<rect x="524.1" y="365.47" width="3.2" height="4.98" fill="#d7dce3"/>
<rect x="526.9" y="365.47" width="3.2" height="4.98" fill="#dadcdf"/>
<rect x="529.8" y="365.47" width="3.2" height="4.98" fill="#d8dce2"/>
<rect x="532.6" y="365.47" width="3.2" height="4.98" fill="#d9dce1"/>
<rect x="421.4" y="370.15" width="1.7" height="4.98" fill="#d7dce3"/>
<rect x="422.8" y="370.15" width="1.7" height="4.98" fill="#d3dbe6"/>
<rect x="424.3" y="370.15" width="3.2" height="4.98" fill="#d5dbe5"/>
<rect x="427.1" y="370.15" width="1.7" height="4.98" fill="#d3dbe6"/>
<rect x="428.5" y="370.15" width="1.7" height="4.98" fill="#d8dce2"/>
<rect x="430.0" y="370.15" width="3.2" height="4.98" fill="#dddcdc"/>
<rect x="432.8" y="370.15" width="3.2" height="4.98" fill="#e3d9d3"/>
<rect x="435.7" y="370.15" width="3.2" height="4.98" fill="#dfdbd9"/>
<rect x="438.5" y="370.15" width="3.2" height="4.98" fill="#e0dbd8"/>
<rect x="441.4" y="370.15" width="3.2" height="4.98" fill="#dddcdc"/>
<rect x="444.2" y="370.15" width="3.2" height="4.98" fill="#dfdbd9"/>
<rect x="447.1" y="370.15" width="3.2" height="4.98" fill="#d9dce1"/>
<rect x="449.9" y="370.15" width="1.7" height="4.98" fill="#e3d9d3"/>
<rect x="451.4" y="370.15" width="1.7" height="4.98" fill="#ebd3c6"/>
<rect x="452.8" y="370.15" width="3.2" height="4.98" fill="#efcebd"/>
<rect x="455.6" y="370.15" width="3.2" height="4.98" fill="#f1cdba"/>
<rect x="458.5" y="370.15" width="3.2" height="4.98" fill="#edd1c2"/>
<rect x="461.3" y="370.15" width="1.7" height="4.98" fill="#eed0c0"/>
<rect x="462.8" y="370.15" width="1.7" height="4.98" fill="#efcfbf"/>
<rect x="464.2" y="370.15" width="3.2" height="4.98" fill="#eed0c0"/>
<rect x="467.0" y="370.15" width="3.2" height="4.98" fill="#efcfbf"/>
<rect x="469.9" y="370.15" width="3.2" height="4.98" fill="#edd2c3"/>
<rect x="472.7" y="370.15" width="3.2" height="4.98" fill="#ecd3c5"/>
<rect x="475.6" y="370.15" width="3.2" height="4.98" fill="#f0cdbb"/>
<rect x="478.4" y="370.15" width="1.7" height="4.98" fill="#efcfbf"/>
<rect x="479.9" y="370.15" width="1.7" height="4.98" fill="#f4c5ad"/>
<rect x="481.3" y="370.15" width="3.2" height="4.98" fill="#f7bca1"/>
<rect x="484.2" y="370.15" width="3.2" height="4.98" fill="#f7b99e"/>
<rect x="487.0" y="370.15" width="3.2" height="4.98" fill="#f7bca1"/>
<rect x="489.9" y="370.15" width="1.7" height="4.98" fill="#f6bea4"/>
<rect x="491.3" y="370.15" width="1.7" height="4.98" fill="#efcebd"/>
<rect x="492.7" y="370.15" width="3.2" height="4.98" fill="#e7d7ce"/>
<rect x="495.6" y="370.15" width="3.2" height="4.98" fill="#e8d6cc"/>
<rect x="498.4" y="370.15" width="1.7" height="4.98" fill="#e5d8d1"/>
<rect x="499.8" y="370.15" width="1.7" height="4.98" fill="#e4d9d2"/>
<rect x="501.3" y="370.15" width="3.2" height="4.98" fill="#e5d8d1"/>
<rect x="504.1" y="370.15" width="3.2" height="4.98" fill="#e9d5cb"/>
<rect x="507.0" y="370.15" width="3.2" height="4.98" fill="#e8d6cc"/>
<rect x="509.8" y="370.15" width="3.2" height="4.98" fill="#e5d8d1"/>
<rect x="512.7" y="370.15" width="3.2" height="4.98" fill="#e7d7ce"/>
<rect x="515.5" y="370.15" width="6.0" height="4.98" fill="#e6d7cf"/>
<rect x="521.2" y="370.15" width="3.2" height="4.98" fill="#ead5c9"/>
<rect x="524.1" y="370.15" width="3.2" height="4.98" fill="#e3d9d3"/>
<rect x="526.9" y="370.15" width="6.0" height="4.98" fill="#e5d8d1"/>
<rect x="532.6" y="370.15" width="3.2" height="4.98" fill="#e2dad5"/>
<rect x="421.4" y="374.83" width="1.7" height="4.98" fill="#dadcdf"/>
<rect x="422.8" y="374.83" width="1.7" height="4.98" fill="#d7dce3"/>
<rect x="424.3" y="374.83" width="3.2" height="4.98" fill="#d3dbe6"/>
<rect x="427.1" y="374.83" width="6.0" height="4.98" fill="#d2dae7"/>
<rect x="432.8" y="374.83" width="1.7" height="4.98" fill="#d4dbe5"/>
<rect x="434.2" y="374.83" width="1.7" height="4.98" fill="#d8dce2"/>
<rect x="435.7" y="374.83" width="3.2" height="4.98" fill="#d7dce3"/>
<rect x="438.5" y="374.83" width="3.2" height="4.98" fill="#dbdcde"/>
<rect x="441.4" y="374.83" width="3.2" height="4.98" fill="#d4dbe5"/>
<rect x="444.2" y="374.83" width="3.2" height="4.98" fill="#dadcdf"/>
<rect x="447.1" y="374.83" width="4.6" height="4.98" fill="#d5dbe5"/>
<rect x="451.4" y="374.83" width="1.7" height="4.98" fill="#d1dae8"/>
<rect x="452.8" y="374.83" width="3.2" height="4.98" fill="#d5dbe5"/>
<rect x="455.6" y="374.83" width="3.2" height="4.98" fill="#d1dae8"/>
<rect x="458.5" y="374.83" width="3.2" height="4.98" fill="#d0d9e8"/>
<rect x="461.3" y="374.83" width="1.7" height="4.98" fill="#d4dbe5"/>
<rect x="462.8" y="374.83" width="1.7" height="4.98" fill="#d6dbe4"/>
<rect x="464.2" y="374.83" width="1.7" height="4.98" fill="#d9dce1"/>
<rect x="465.6" y="374.83" width="1.7" height="4.98" fill="#dcdddd"/>
<rect x="467.0" y="374.83" width="1.7" height="4.98" fill="#dbdcde"/>
<rect x="468.5" y="374.83" width="4.6" height="4.98" fill="#dcdddd"/>
<rect x="472.7" y="374.83" width="3.2" height="4.98" fill="#e3d9d3"/>
<rect x="475.6" y="374.83" width="1.7" height="4.98" fill="#e0dbd8"/>
<rect x="477.0" y="374.83" width="1.7" height="4.98" fill="#e1dad6"/>
<rect x="478.4" y="374.83" width="1.7" height="4.98" fill="#e0dbd8"/>
<rect x="479.9" y="374.83" width="1.7" height="4.98" fill="#e1dad6"/>
<rect x="481.3" y="374.83" width="1.7" height="4.98" fill="#dbdcde"/>
<rect x="482.7" y="374.83" width="1.7" height="4.98" fill="#dcdddd"/>
<rect x="484.2" y="374.83" width="3.2" height="4.98" fill="#e2dad5"/>
<rect x="487.0" y="374.83" width="3.2" height="4.98" fill="#dcdddd"/>
<rect x="489.9" y="374.83" width="1.7" height="4.98" fill="#e2dad5"/>
<rect x="491.3" y="374.83" width="1.7" height="4.98" fill="#e3d9d3"/>
<rect x="492.7" y="374.83" width="3.2" height="4.98" fill="#dedcdb"/>
<rect x="495.6" y="374.83" width="1.7" height="4.98" fill="#e8d6cc"/>
<rect x="497.0" y="374.83" width="1.7" height="4.98" fill="#e9d5cb"/>
<rect x="498.4" y="374.83" width="3.2" height="4.98" fill="#dddcdc"/>
<rect x="501.3" y="374.83" width="1.7" height="4.98" fill="#e9d5cb"/>
<rect x="502.7" y="374.83" width="4.6" height="4.98" fill="#ebd3c6"/>
<rect x="507.0" y="374.83" width="3.2" height="4.98" fill="#e2dad5"/>
<rect x="509.8" y="374.83" width="3.2" height="4.98" fill="#e8d6cc"/>
<rect x="512.7" y="374.83" width="3.2" height="4.98" fill="#edd2c3"/>
<rect x="515.5" y="374.83" width="3.2" height="4.98" fill="#ecd3c5"/>
<rect x="518.4" y="374.83" width="1.7" height="4.98" fill="#e1dad6"/>
<rect x="519.8" y="374.83" width="1.7" height="4.98" fill="#dcdddd"/>
<rect x="521.2" y="374.83" width="3.2" height="4.98" fill="#dddcdc"/>
<rect x="524.1" y="374.83" width="6.0" height="4.98" fill="#dbdcde"/>
<rect x="529.8" y="374.83" width="3.2" height="4.98" fill="#dddcdc"/>
<rect x="532.6" y="374.83" width="3.2" height="4.98" fill="#e5d8d1"/>
<rect x="421.4" y="379.52" width="1.7" height="4.98" fill="#d7dce3"/>
<rect x="422.8" y="379.52" width="4.6" height="4.98" fill="#d2dae7"/>
<rect x="427.1" y="379.52" width="3.2" height="4.98" fill="#cbd8eb"/>
<rect x="430.0" y="379.52" width="1.7" height="4.98" fill="#d7dce3"/>
<rect x="431.4" y="379.52" width="1.7" height="4.98" fill="#dcdddd"/>
<rect x="432.8" y="379.52" width="3.2" height="4.98" fill="#d6dbe4"/>
<rect x="435.7" y="379.52" width="1.7" height="4.98" fill="#d9dce1"/>
<rect x="437.1" y="379.52" width="1.7" height="4.98" fill="#dadcdf"/>
<rect x="438.5" y="379.52" width="3.2" height="4.98" fill="#dcdddd"/>
<rect x="441.4" y="379.52" width="3.2" height="4.98" fill="#e1dad6"/>
<rect x="444.2" y="379.52" width="1.7" height="4.98" fill="#dadcdf"/>
<rect x="445.6" y="379.52" width="1.7" height="4.98" fill="#dbdcde"/>
<rect x="447.1" y="379.52" width="3.2" height="4.98" fill="#dddcdc"/>
<rect x="449.9" y="379.52" width="3.2" height="4.98" fill="#e0dbd8"/>
<rect x="452.8" y="379.52" width="3.2" height="4.98" fill="#dedcdb"/>
<rect x="455.6" y="379.52" width="6.0" height="4.98" fill="#e0dbd8"/>
<rect x="461.3" y="379.52" width="1.7" height="4.98" fill="#dddcdc"/>
<rect x="462.8" y="379.52" width="1.7" height="4.98" fill="#e5d8d1"/>
<rect x="464.2" y="379.52" width="1.7" height="4.98" fill="#f2cab5"/>
<rect x="465.6" y="379.52" width="1.7" height="4.98" fill="#f7b99e"/>
<rect x="467.0" y="379.52" width="3.2" height="4.98" fill="#f7b79b"/>
<rect x="469.9" y="379.52" width="1.7" height="4.98" fill="#f7bca1"/>
<rect x="471.3" y="379.52" width="1.7" height="4.98" fill="#f7ba9f"/>
<rect x="472.7" y="379.52" width="1.7" height="4.98" fill="#f7b093"/>
<rect x="474.2" y="379.52" width="1.7" height="4.98" fill="#f7af91"/>
<rect x="475.6" y="379.52" width="1.7" height="4.98" fill="#f5c4ac"/>
<rect x="477.0" y="379.52" width="1.7" height="4.98" fill="#f5c2aa"/>
<rect x="478.4" y="379.52" width="3.2" height="4.98" fill="#f7bca1"/>
<rect x="481.3" y="379.52" width="3.2" height="4.98" fill="#f7aa8c"/>
<rect x="484.2" y="379.52" width="3.2" height="4.98" fill="#f7b093"/>
<rect x="487.0" y="379.52" width="3.2" height="4.98" fill="#f7b599"/>
<rect x="489.9" y="379.52" width="1.7" height="4.98" fill="#f7ad90"/>
<rect x="491.3" y="379.52" width="1.7" height="4.98" fill="#f7af91"/>
<rect x="492.7" y="379.52" width="3.2" height="4.98" fill="#f7aa8c"/>
<rect x="495.6" y="379.52" width="3.2" height="4.98" fill="#f7b79b"/>
<rect x="498.4" y="379.52" width="1.7" height="4.98" fill="#f7af91"/>
<rect x="499.8" y="379.52" width="1.7" height="4.98" fill="#f7b093"/>
<rect x="501.3" y="379.52" width="1.7" height="4.98" fill="#f7b599"/>
<rect x="502.7" y="379.52" width="3.2" height="4.98" fill="#f7b79b"/>
<rect x="505.5" y="379.52" width="4.6" height="4.98" fill="#f7b89c"/>
<rect x="509.8" y="379.52" width="3.2" height="4.98" fill="#f7b194"/>
<rect x="512.7" y="379.52" width="3.2" height="4.98" fill="#f5c0a7"/>
<rect x="515.5" y="379.52" width="3.2" height="4.98" fill="#f6bda2"/>
<rect x="518.4" y="379.52" width="3.2" height="4.98" fill="#f7b89c"/>
<rect x="521.2" y="379.52" width="3.2" height="4.98" fill="#f5c4ac"/>
<rect x="524.1" y="379.52" width="1.7" height="4.98" fill="#f1cdba"/>
<rect x="525.5" y="379.52" width="4.6" height="4.98" fill="#e5d8d1"/>
<rect x="529.8" y="379.52" width="3.2" height="4.98" fill="#e3d9d3"/>
<rect x="532.6" y="379.52" width="3.2" height="4.98" fill="#e2dad5"/>
<rect x="421.4" y="384.20" width="1.7" height="4.98" fill="#d9dce1"/>
<rect x="422.8" y="384.20" width="3.2" height="4.98" fill="#e3d9d3"/>
<rect x="425.7" y="384.20" width="3.2" height="4.98" fill="#d9dce1"/>
<rect x="428.5" y="384.20" width="3.2" height="4.98" fill="#dbdcde"/>
<rect x="431.4" y="384.20" width="3.2" height="4.98" fill="#d8dce2"/>
<rect x="434.2" y="384.20" width="1.7" height="4.98" fill="#dbdcde"/>
<rect x="435.7" y="384.20" width="1.7" height="4.98" fill="#dedcdb"/>
<rect x="437.1" y="384.20" width="1.7" height="4.98" fill="#ead4c8"/>
<rect x="438.5" y="384.20" width="1.7" height="4.98" fill="#edd1c2"/>
<rect x="439.9" y="384.20" width="3.2" height="4.98" fill="#e9d5cb"/>
<rect x="442.8" y="384.20" width="1.7" height="4.98" fill="#ead4c8"/>
<rect x="444.2" y="384.20" width="1.7" height="4.98" fill="#e7d7ce"/>
<rect x="445.6" y="384.20" width="1.7" height="4.98" fill="#dcdddd"/>
<rect x="447.1" y="384.20" width="1.7" height="4.98" fill="#d7dce3"/>
<rect x="448.5" y="384.20" width="1.7" height="4.98" fill="#dddcdc"/>
<rect x="449.9" y="384.20" width="1.7" height="4.98" fill="#dcdddd"/>
<rect x="451.4" y="384.20" width="3.2" height="4.98" fill="#d5dbe5"/>
<rect x="454.2" y="384.20" width="1.7" height="4.98" fill="#d0d9e8"/>
<rect x="455.6" y="384.20" width="1.7" height="4.98" fill="#d2dae7"/>
<rect x="457.1" y="384.20" width="3.2" height="4.98" fill="#dddcdc"/>
<rect x="459.9" y="384.20" width="1.7" height="4.98" fill="#d5dbe5"/>
<rect x="461.3" y="384.20" width="1.7" height="4.98" fill="#d3dbe6"/>
<rect x="462.8" y="384.20" width="1.7" height="4.98" fill="#d7dce3"/>
<rect x="464.2" y="384.20" width="1.7" height="4.98" fill="#d9dce1"/>
<rect x="465.6" y="384.20" width="1.7" height="4.98" fill="#dbdcde"/>
<rect x="467.0" y="384.20" width="7.4" height="4.98" fill="#dddcdc"/>
<rect x="474.2" y="384.20" width="3.2" height="4.98" fill="#d9dce1"/>
<rect x="477.0" y="384.20" width="3.2" height="4.98" fill="#d7dce3"/>
<rect x="479.9" y="384.20" width="3.2" height="4.98" fill="#dfdbd9"/>
<rect x="482.7" y="384.20" width="3.2" height="4.98" fill="#dcdddd"/>
<rect x="485.6" y="384.20" width="3.2" height="4.98" fill="#dddcdc"/>
<rect x="488.4" y="384.20" width="3.2" height="4.98" fill="#dbdcde"/>
<rect x="491.3" y="384.20" width="3.2" height="4.98" fill="#d6dbe4"/>
<rect x="494.1" y="384.20" width="3.2" height="4.98" fill="#d8dce2"/>
<rect x="497.0" y="384.20" width="3.2" height="4.98" fill="#e1dad6"/>
<rect x="499.8" y="384.20" width="3.2" height="4.98" fill="#dadcdf"/>
<rect x="502.7" y="384.20" width="3.2" height="4.98" fill="#dbdcde"/>
<rect x="505.5" y="384.20" width="3.2" height="4.98" fill="#d8dce2"/>
<rect x="508.4" y="384.20" width="6.0" height="4.98" fill="#dbdcde"/>
<rect x="514.1" y="384.20" width="6.0" height="4.98" fill="#dcdddd"/>
<rect x="519.8" y="384.20" width="6.0" height="4.98" fill="#dadcdf"/>
<rect x="525.5" y="384.20" width="3.2" height="4.98" fill="#dcdddd"/>
<rect x="528.4" y="384.20" width="3.2" height="4.98" fill="#dddcdc"/>
<rect x="531.2" y="384.20" width="3.2" height="4.98" fill="#dcdddd"/>
<rect x="534.1" y="384.20" width="1.7" height="4.98" fill="#e2dad5"/>
<rect x="421.4" y="388.88" width="3.2" height="4.98" fill="#d5dbe5"/>
<rect x="424.3" y="388.88" width="3.2" height="4.98" fill="#dbdcde"/>
<rect x="427.1" y="388.88" width="3.2" height="4.98" fill="#d4dbe5"/>
<rect x="430.0" y="388.88" width="3.2" height="4.98" fill="#d2dae7"/>
<rect x="432.8" y="388.88" width="3.2" height="4.98" fill="#d4dbe5"/>
<rect x="435.7" y="388.88" width="3.2" height="4.98" fill="#d9dce1"/>
<rect x="438.5" y="388.88" width="3.2" height="4.98" fill="#d3dbe6"/>
<rect x="441.4" y="388.88" width="3.2" height="4.98" fill="#dcdddd"/>
<rect x="444.2" y="388.88" width="3.2" height="4.98" fill="#d7dce3"/>
<rect x="447.1" y="388.88" width="3.2" height="4.98" fill="#d2dae7"/>
<rect x="449.9" y="388.88" width="1.7" height="4.98" fill="#dedcdb"/>
<rect x="451.4" y="388.88" width="1.7" height="4.98" fill="#e8d6cc"/>
<rect x="452.8" y="388.88" width="3.2" height="4.98" fill="#eed0c0"/>
<rect x="455.6" y="388.88" width="1.7" height="4.98" fill="#e3d9d3"/>
<rect x="457.1" y="388.88" width="1.7" height="4.98" fill="#dddcdc"/>
<rect x="458.5" y="388.88" width="3.2" height="4.98" fill="#d8dce2"/>
<rect x="461.3" y="388.88" width="3.2" height="4.98" fill="#dedcdb"/>
<rect x="464.2" y="388.88" width="6.0" height="4.98" fill="#e0dbd8"/>
<rect x="469.9" y="388.88" width="3.2" height="4.98" fill="#dbdcde"/>
<rect x="472.7" y="388.88" width="6.0" height="4.98" fill="#dddcdc"/>
<rect x="478.4" y="388.88" width="3.2" height="4.98" fill="#e0dbd8"/>
<rect x="481.3" y="388.88" width="1.7" height="4.98" fill="#dbdcde"/>
<rect x="482.7" y="388.88" width="1.7" height="4.98" fill="#d9dce1"/>
<rect x="484.2" y="388.88" width="3.2" height="4.98" fill="#d2dae7"/>
<rect x="487.0" y="388.88" width="3.2" height="4.98" fill="#d7dce3"/>
<rect x="489.9" y="388.88" width="3.2" height="4.98" fill="#d1dae8"/>
<rect x="492.7" y="388.88" width="1.7" height="4.98" fill="#dbdcde"/>
<rect x="494.1" y="388.88" width="1.7" height="4.98" fill="#dedcdb"/>
<rect x="495.6" y="388.88" width="3.2" height="4.98" fill="#d9dce1"/>
<rect x="498.4" y="388.88" width="3.2" height="4.98" fill="#dadcdf"/>
<rect x="501.3" y="388.88" width="3.2" height="4.98" fill="#dedcdb"/>
<rect x="504.1" y="388.88" width="3.2" height="4.98" fill="#d9dce1"/>
<rect x="507.0" y="388.88" width="3.2" height="4.98" fill="#dfdbd9"/>
<rect x="509.8" y="388.88" width="3.2" height="4.98" fill="#dbdcde"/>
<rect x="512.7" y="388.88" width="3.2" height="4.98" fill="#dddcdc"/>
<rect x="515.5" y="388.88" width="3.2" height="4.98" fill="#dcdddd"/>
<rect x="518.4" y="388.88" width="3.2" height="4.98" fill="#dbdcde"/>
<rect x="521.2" y="388.88" width="3.2" height="4.98" fill="#dddcdc"/>
<rect x="524.1" y="388.88" width="3.2" height="4.98" fill="#e0dbd8"/>
<rect x="526.9" y="388.88" width="3.2" height="4.98" fill="#e3d9d3"/>
<rect x="529.8" y="388.88" width="3.2" height="4.98" fill="#d8dce2"/>
<rect x="532.6" y="388.88" width="3.2" height="4.98" fill="#dddcdc"/>
<rect x="421.4" y="393.57" width="3.2" height="4.98" fill="#d7dce3"/>
<rect x="424.3" y="393.57" width="3.2" height="4.98" fill="#dbdcde"/>
<rect x="427.1" y="393.57" width="3.2" height="4.98" fill="#d7dce3"/>
<rect x="430.0" y="393.57" width="3.2" height="4.98" fill="#d9dce1"/>
<rect x="432.8" y="393.57" width="3.2" height="4.98" fill="#dedcdb"/>
<rect x="435.7" y="393.57" width="3.2" height="4.98" fill="#d3dbe6"/>
<rect x="438.5" y="393.57" width="6.0" height="4.98" fill="#dbdcde"/>
<rect x="444.2" y="393.57" width="3.2" height="4.98" fill="#d7dce3"/>
<rect x="447.1" y="393.57" width="6.0" height="4.98" fill="#dbdcde"/>
<rect x="452.8" y="393.57" width="3.2" height="4.98" fill="#d9dce1"/>
<rect x="455.6" y="393.57" width="1.7" height="4.98" fill="#dadcdf"/>
<rect x="457.1" y="393.57" width="1.7" height="4.98" fill="#d6dbe4"/>
<rect x="458.5" y="393.57" width="3.2" height="4.98" fill="#ccd8ea"/>
<rect x="461.3" y="393.57" width="1.7" height="4.98" fill="#d4dbe5"/>
<rect x="462.8" y="393.57" width="1.7" height="4.98" fill="#d8dce2"/>
<rect x="464.2" y="393.57" width="3.2" height="4.98" fill="#d9dce1"/>
<rect x="467.0" y="393.57" width="3.2" height="4.98" fill="#d6dbe4"/>
<rect x="469.9" y="393.57" width="6.0" height="4.98" fill="#d9dce1"/>
<rect x="475.6" y="393.57" width="3.2" height="4.98" fill="#dcdddd"/>
<rect x="478.4" y="393.57" width="3.2" height="4.98" fill="#d5dbe5"/>
<rect x="481.3" y="393.57" width="3.2" height="4.98" fill="#d9dce1"/>
<rect x="484.2" y="393.57" width="3.2" height="4.98" fill="#d8dce2"/>
<rect x="487.0" y="393.57" width="3.2" height="4.98" fill="#dfdbd9"/>
<rect x="489.9" y="393.57" width="3.2" height="4.98" fill="#d6dbe4"/>
<rect x="492.7" y="393.57" width="3.2" height="4.98" fill="#dddcdc"/>
<rect x="495.6" y="393.57" width="3.2" height="4.98" fill="#d4dbe5"/>
<rect x="498.4" y="393.57" width="3.2" height="4.98" fill="#dbdcde"/>
<rect x="501.3" y="393.57" width="1.7" height="4.98" fill="#d8dce2"/>
<rect x="502.7" y="393.57" width="1.7" height="4.98" fill="#d5dbe5"/>
<rect x="504.1" y="393.57" width="3.2" height="4.98" fill="#d6dbe4"/>
<rect x="507.0" y="393.57" width="3.2" height="4.98" fill="#d2dae7"/>
<rect x="509.8" y="393.57" width="3.2" height="4.98" fill="#cdd8ea"/>
<rect x="512.7" y="393.57" width="3.2" height="4.98" fill="#ced9e9"/>
<rect x="515.5" y="393.57" width="3.2" height="4.98" fill="#d9dce1"/>
<rect x="518.4" y="393.57" width="3.2" height="4.98" fill="#d5dbe5"/>
<rect x="521.2" y="393.57" width="1.7" height="4.98" fill="#d3dbe6"/>
<rect x="522.7" y="393.57" width="1.7" height="4.98" fill="#d5dbe5"/>
<rect x="524.1" y="393.57" width="3.2" height="4.98" fill="#dddcdc"/>
<rect x="526.9" y="393.57" width="6.0" height="4.98" fill="#d7dce3"/>
<rect x="532.6" y="393.57" width="3.2" height="4.98" fill="#d6dbe4"/>
<rect x="421.4" y="398.25" width="1.7" height="4.98" fill="#dedcdb"/>
<rect x="422.8" y="398.25" width="1.7" height="4.98" fill="#e1dad6"/>
<rect x="424.3" y="398.25" width="1.7" height="4.98" fill="#e6d7cf"/>
<rect x="425.7" y="398.25" width="1.7" height="4.98" fill="#e9d5cb"/>
<rect x="427.1" y="398.25" width="1.7" height="4.98" fill="#edd1c2"/>
<rect x="428.5" y="398.25" width="1.7" height="4.98" fill="#efcebd"/>
<rect x="430.0" y="398.25" width="3.2" height="4.98" fill="#e4d9d2"/>
<rect x="432.8" y="398.25" width="3.2" height="4.98" fill="#ebd3c6"/>
<rect x="435.7" y="398.25" width="3.2" height="4.98" fill="#edd2c3"/>
<rect x="438.5" y="398.25" width="1.7" height="4.98" fill="#e2dad5"/>
<rect x="439.9" y="398.25" width="1.7" height="4.98" fill="#dbdcde"/>
<rect x="441.4" y="398.25" width="3.2" height="4.98" fill="#dedcdb"/>
<rect x="444.2" y="398.25" width="3.2" height="4.98" fill="#dddcdc"/>
<rect x="447.1" y="398.25" width="3.2" height="4.98" fill="#dfdbd9"/>
<rect x="449.9" y="398.25" width="1.7" height="4.98" fill="#e1dad6"/>
<rect x="451.4" y="398.25" width="1.7" height="4.98" fill="#e9d5cb"/>
<rect x="452.8" y="398.25" width="3.2" height="4.98" fill="#ecd3c5"/>
<rect x="455.6" y="398.25" width="3.2" height="4.98" fill="#e9d5cb"/>
<rect x="458.5" y="398.25" width="3.2" height="4.98" fill="#edd2c3"/>
<rect x="461.3" y="398.25" width="1.7" height="4.98" fill="#ebd3c6"/>
<rect x="462.8" y="398.25" width="1.7" height="4.98" fill="#e4d9d2"/>
<rect x="464.2" y="398.25" width="3.2" height="4.98" fill="#dbdcde"/>
<rect x="467.0" y="398.25" width="3.2" height="4.98" fill="#d8dce2"/>
<rect x="469.9" y="398.25" width="3.2" height="4.98" fill="#e1dad6"/>
<rect x="472.7" y="398.25" width="3.2" height="4.98" fill="#e0dbd8"/>
<rect x="475.6" y="398.25" width="3.2" height="4.98" fill="#dfdbd9"/>
<rect x="478.4" y="398.25" width="3.2" height="4.98" fill="#dadcdf"/>
<rect x="481.3" y="398.25" width="3.2" height="4.98" fill="#dbdcde"/>
<rect x="484.2" y="398.25" width="3.2" height="4.98" fill="#e2dad5"/>
<rect x="487.0" y="398.25" width="3.2" height="4.98" fill="#dfdbd9"/>
<rect x="489.9" y="398.25" width="3.2" height="4.98" fill="#d9dce1"/>
<rect x="492.7" y="398.25" width="3.2" height="4.98" fill="#dcdddd"/>
<rect x="495.6" y="398.25" width="3.2" height="4.98" fill="#dddcdc"/>
<rect x="498.4" y="398.25" width="3.2" height="4.98" fill="#dcdddd"/>
<rect x="501.3" y="398.25" width="1.7" height="4.98" fill="#d8dce2"/>
<rect x="502.7" y="398.25" width="1.7" height="4.98" fill="#d4dbe5"/>
<rect x="504.1" y="398.25" width="3.2" height="4.98" fill="#dadcdf"/>
<rect x="507.0" y="398.25" width="3.2" height="4.98" fill="#d8dce2"/>
<rect x="509.8" y="398.25" width="3.2" height="4.98" fill="#d5dbe5"/>
<rect x="512.7" y="398.25" width="3.2" height="4.98" fill="#d0d9e8"/>
<rect x="515.5" y="398.25" width="3.2" height="4.98" fill="#d4dbe5"/>
<rect x="518.4" y="398.25" width="3.2" height="4.98" fill="#d6dbe4"/>
<rect x="521.2" y="398.25" width="1.7" height="4.98" fill="#dadcdf"/>
<rect x="522.7" y="398.25" width="1.7" height="4.98" fill="#dddcdc"/>
<rect x="524.1" y="398.25" width="3.2" height="4.98" fill="#dbdcde"/>
<rect x="526.9" y="398.25" width="3.2" height="4.98" fill="#e0dbd8"/>
<rect x="529.8" y="398.25" width="3.2" height="4.98" fill="#dddcdc"/>
<rect x="532.6" y="398.25" width="3.2" height="4.98" fill="#dadcdf"/>
<rect x="421.4" y="402.93" width="3.2" height="4.98" fill="#d5dbe5"/>
<rect x="424.3" y="402.93" width="3.2" height="4.98" fill="#d3dbe6"/>
<rect x="427.1" y="402.93" width="1.7" height="4.98" fill="#d7dce3"/>
<rect x="428.5" y="402.93" width="1.7" height="4.98" fill="#d6dbe4"/>
<rect x="430.0" y="402.93" width="3.2" height="4.98" fill="#d7dce3"/>
<rect x="432.8" y="402.93" width="1.7" height="4.98" fill="#dadcdf"/>
<rect x="434.2" y="402.93" width="1.7" height="4.98" fill="#d9dce1"/>
<rect x="435.7" y="402.93" width="1.7" height="4.98" fill="#d4dbe5"/>
<rect x="437.1" y="402.93" width="1.7" height="4.98" fill="#d3dbe6"/>
<rect x="438.5" y="402.93" width="1.7" height="4.98" fill="#ced9e9"/>
<rect x="439.9" y="402.93" width="1.7" height="4.98" fill="#cdd8ea"/>
<rect x="441.4" y="402.93" width="3.2" height="4.98" fill="#d9dce1"/>
<rect x="444.2" y="402.93" width="4.6" height="4.98" fill="#d3dbe6"/>
<rect x="448.5" y="402.93" width="1.7" height="4.98" fill="#d7dce3"/>
<rect x="449.9" y="402.93" width="1.7" height="4.98" fill="#d4dbe5"/>
<rect x="451.4" y="402.93" width="1.7" height="4.98" fill="#cdd8ea"/>
<rect x="452.8" y="402.93" width="3.2" height="4.98" fill="#c9d6eb"/>
<rect x="455.6" y="402.93" width="3.2" height="4.98" fill="#d2dae7"/>
<rect x="458.5" y="402.93" width="3.2" height="4.98" fill="#d1dae8"/>
<rect x="461.3" y="402.93" width="3.2" height="4.98" fill="#d5dbe5"/>
<rect x="464.2" y="402.93" width="3.2" height="4.98" fill="#d4dbe5"/>
<rect x="467.0" y="402.93" width="3.2" height="4.98" fill="#d3dbe6"/>
<rect x="469.9" y="402.93" width="3.2" height="4.98" fill="#d4dbe5"/>
<rect x="472.7" y="402.93" width="3.2" height="4.98" fill="#cdd8ea"/>
<rect x="475.6" y="402.93" width="1.7" height="4.98" fill="#d0d9e8"/>
<rect x="477.0" y="402.93" width="1.7" height="4.98" fill="#d5dbe5"/>
<rect x="478.4" y="402.93" width="3.2" height="4.98" fill="#d8dce2"/>
<rect x="481.3" y="402.93" width="3.2" height="4.98" fill="#d4dbe5"/>
<rect x="484.2" y="402.93" width="6.0" height="4.98" fill="#d8dce2"/>
<rect x="489.9" y="402.93" width="3.2" height="4.98" fill="#dbdcde"/>
<rect x="492.7" y="402.93" width="3.2" height="4.98" fill="#d9dce1"/>
<rect x="495.6" y="402.93" width="3.2" height="4.98" fill="#d3dbe6"/>
<rect x="498.4" y="402.93" width="3.2" height="4.98" fill="#d9dce1"/>
<rect x="501.3" y="402.93" width="3.2" height="4.98" fill="#dedcdb"/>
<rect x="504.1" y="402.93" width="3.2" height="4.98" fill="#d3dbe6"/>
<rect x="507.0" y="402.93" width="3.2" height="4.98" fill="#d7dce3"/>
<rect x="509.8" y="402.93" width="3.2" height="4.98" fill="#d9dce1"/>
<rect x="512.7" y="402.93" width="3.2" height="4.98" fill="#d5dbe5"/>
<rect x="515.5" y="402.93" width="3.2" height="4.98" fill="#d8dce2"/>
<rect x="518.4" y="402.93" width="3.2" height="4.98" fill="#dadcdf"/>
<rect x="521.2" y="402.93" width="3.2" height="4.98" fill="#d5dbe5"/>
<rect x="524.1" y="402.93" width="1.7" height="4.98" fill="#edd1c2"/>
<rect x="525.5" y="402.93" width="1.7" height="4.98" fill="#f7bca1"/>
<rect x="526.9" y="402.93" width="3.2" height="4.98" fill="#f7ba9f"/>
<rect x="529.8" y="402.93" width="3.2" height="4.98" fill="#f5c4ac"/>
<rect x="532.6" y="402.93" width="3.2" height="4.98" fill="#f6bda2"/>
<rect x="421.4" y="407.62" width="1.7" height="4.98" fill="#dedcdb"/>
<rect x="422.8" y="407.62" width="1.7" height="4.98" fill="#e0dbd8"/>
<rect x="424.3" y="407.62" width="1.7" height="4.98" fill="#e2dad5"/>
<rect x="425.7" y="407.62" width="1.7" height="4.98" fill="#e0dbd8"/>
<rect x="427.1" y="407.62" width="1.7" height="4.98" fill="#e1dad6"/>
<rect x="428.5" y="407.62" width="1.7" height="4.98" fill="#e7d7ce"/>
<rect x="430.0" y="407.62" width="1.7" height="4.98" fill="#e8d6cc"/>
<rect x="431.4" y="407.62" width="1.7" height="4.98" fill="#e7d7ce"/>
<rect x="432.8" y="407.62" width="1.7" height="4.98" fill="#e9d5cb"/>
<rect x="434.2" y="407.62" width="3.2" height="4.98" fill="#e5d8d1"/>
<rect x="437.1" y="407.62" width="3.2" height="4.98" fill="#ead4c8"/>
<rect x="439.9" y="407.62" width="1.7" height="4.98" fill="#ebd3c6"/>
<rect x="441.4" y="407.62" width="1.7" height="4.98" fill="#e9d5cb"/>
<rect x="442.8" y="407.62" width="1.7" height="4.98" fill="#e2dad5"/>
<rect x="444.2" y="407.62" width="1.7" height="4.98" fill="#dedcdb"/>
<rect x="445.6" y="407.62" width="1.7" height="4.98" fill="#d8dce2"/>
<rect x="447.1" y="407.62" width="1.7" height="4.98" fill="#d6dbe4"/>
<rect x="448.5" y="407.62" width="1.7" height="4.98" fill="#d8dce2"/>
<rect x="449.9" y="407.62" width="1.7" height="4.98" fill="#d1dae8"/>
<rect x="451.4" y="407.62" width="3.2" height="4.98" fill="#ced9e9"/>
<rect x="454.2" y="407.62" width="3.2" height="4.98" fill="#c9d6eb"/>
<rect x="457.1" y="407.62" width="1.7" height="4.98" fill="#cdd8ea"/>
<rect x="458.5" y="407.62" width="1.7" height="4.98" fill="#ccd8ea"/>
<rect x="459.9" y="407.62" width="3.2" height="4.98" fill="#cdd8ea"/>
<rect x="462.8" y="407.62" width="3.2" height="4.98" fill="#c6d5ec"/>
<rect x="465.6" y="407.62" width="3.2" height="4.98" fill="#cad7eb"/>
<rect x="468.5" y="407.62" width="3.2" height="4.98" fill="#c5d5ec"/>
<rect x="471.3" y="407.62" width="3.2" height="4.98" fill="#cbd8eb"/>
<rect x="474.2" y="407.62" width="3.2" height="4.98" fill="#c6d5ec"/>
<rect x="477.0" y="407.62" width="3.2" height="4.98" fill="#c4d4ed"/>
<rect x="479.9" y="407.62" width="3.2" height="4.98" fill="#c6d5ec"/>
<rect x="482.7" y="407.62" width="3.2" height="4.98" fill="#c5d5ec"/>
<rect x="485.6" y="407.62" width="6.0" height="4.98" fill="#c8d6ec"/>
<rect x="491.3" y="407.62" width="1.7" height="4.98" fill="#c1d2ed"/>
<rect x="492.7" y="407.62" width="1.7" height="4.98" fill="#bfd1ed"/>
<rect x="494.1" y="407.62" width="3.2" height="4.98" fill="#c2d3ed"/>
<rect x="497.0" y="407.62" width="3.2" height="4.98" fill="#c6d5ec"/>
<rect x="499.8" y="407.62" width="3.2" height="4.98" fill="#c8d6ec"/>
<rect x="502.7" y="407.62" width="3.2" height="4.98" fill="#c5d5ec"/>
<rect x="505.5" y="407.62" width="3.2" height="4.98" fill="#d0d9e8"/>
<rect x="508.4" y="407.62" width="1.7" height="4.98" fill="#ccd8ea"/>
<rect x="509.8" y="407.62" width="1.7" height="4.98" fill="#cdd8ea"/>
<rect x="511.3" y="407.62" width="1.7" height="4.98" fill="#c8d6ec"/>
<rect x="512.7" y="407.62" width="1.7" height="4.98" fill="#c9d6eb"/>
<rect x="514.1" y="407.62" width="3.2" height="4.98" fill="#cdd8ea"/>
<rect x="517.0" y="407.62" width="3.2" height="4.98" fill="#d1dae8"/>
<rect x="519.8" y="407.62" width="3.2" height="4.98" fill="#cdd8ea"/>
<rect x="522.7" y="407.62" width="3.2" height="4.98" fill="#c4d4ed"/>
<rect x="525.5" y="407.62" width="6.0" height="4.98" fill="#ccd8ea"/>
<rect x="531.2" y="407.62" width="3.2" height="4.98" fill="#d5dbe5"/>
<rect x="534.1" y="407.62" width="1.7" height="4.98" fill="#c4d4ed"/>
<line x1="450.20" y1="328.00" x2="450.20" y2="412.30" stroke="#111" stroke-width="1.1"/>
<line x1="421.40" y1="328.00" x2="421.40" y2="412.80" stroke="#111" stroke-width="1.0"/>
<line x1="420.90" y1="412.30" x2="535.50" y2="412.30" stroke="#111" stroke-width="1.0"/>
<line x1="421.40" y1="328.00" x2="535.50" y2="328.00" stroke="#111" stroke-width="1.0"/>
<line x1="535.50" y1="328.00" x2="535.50" y2="412.30" stroke="#111" stroke-width="1.0"/>
<line x1="418.40" y1="330.34" x2="421.40" y2="330.34" stroke="#111" stroke-width="0.9"/>
<text x="417.00" y="334.24" font-size="11.5" text-anchor="end" font-weight="normal" font-style="normal" fill="#000">1</text>
<line x1="418.40" y1="349.07" x2="421.40" y2="349.07" stroke="#111" stroke-width="0.9"/>
<text x="417.00" y="352.97" font-size="11.5" text-anchor="end" font-weight="normal" font-style="normal" fill="#000">5</text>
<line x1="418.40" y1="367.81" x2="421.40" y2="367.81" stroke="#111" stroke-width="0.9"/>
<text x="417.00" y="371.71" font-size="11.5" text-anchor="end" font-weight="normal" font-style="normal" fill="#000">9</text>
<line x1="418.40" y1="386.54" x2="421.40" y2="386.54" stroke="#111" stroke-width="0.9"/>
<text x="417.00" y="390.44" font-size="11.5" text-anchor="end" font-weight="normal" font-style="normal" fill="#000">13</text>
<line x1="418.40" y1="405.27" x2="421.40" y2="405.27" stroke="#111" stroke-width="0.9"/>
<text x="417.00" y="409.17" font-size="11.5" text-anchor="end" font-weight="normal" font-style="normal" fill="#000">17</text>
<line x1="422.50" y1="412.30" x2="422.50" y2="414.90" stroke="#111" stroke-width="0.9"/>
<line x1="450.40" y1="412.30" x2="450.40" y2="414.90" stroke="#111" stroke-width="0.9"/>
<line x1="506.20" y1="412.30" x2="506.20" y2="414.90" stroke="#111" stroke-width="0.9"/>
<text x="422.50" y="425.80" font-size="11.5" text-anchor="middle" font-weight="normal" font-style="normal" fill="#000">10</text>
<text x="416.20" y="425.80" font-size="11.5" text-anchor="end" font-weight="normal" font-style="normal" fill="#000">−</text>
<text x="450.40" y="425.80" font-size="11.5" text-anchor="middle" font-weight="normal" font-style="normal" fill="#000">0</text>
<text x="506.20" y="425.80" font-size="11.5" text-anchor="middle" font-weight="normal" font-style="normal" fill="#000">20</text>
<text x="476.20" y="440.10" font-size="11.5" text-anchor="middle" font-weight="normal" font-style="normal" fill="#000">Time (s)</text>
<text x="393.60" y="367.20" font-size="12.0" text-anchor="middle" font-weight="normal" font-style="normal" fill="#000" transform="rotate(-90 393.6 367.2)">Sorted trials</text>
<rect x="563.2" y="328.50" width="4.6" height="3.65" fill="#d9dce1"/>
<rect x="567.5" y="328.50" width="6.0" height="3.65" fill="#dddcdc"/>
<rect x="573.1" y="328.50" width="1.7" height="3.65" fill="#d6dbe4"/>
<rect x="574.6" y="328.50" width="3.1" height="3.65" fill="#d4dbe5"/>
<rect x="577.4" y="328.50" width="1.7" height="3.65" fill="#d6dbe4"/>
<rect x="578.8" y="328.50" width="4.6" height="3.65" fill="#dbdcde"/>
<rect x="583.1" y="328.50" width="6.0" height="3.65" fill="#dedcdb"/>
<rect x="588.8" y="328.50" width="3.1" height="3.65" fill="#dadcdf"/>
<rect x="591.6" y="328.50" width="1.7" height="3.65" fill="#d9dce1"/>
<rect x="593.0" y="328.50" width="1.7" height="3.65" fill="#d6dbe4"/>
<rect x="594.4" y="328.50" width="6.0" height="3.65" fill="#d9dce1"/>
<rect x="600.1" y="328.50" width="1.7" height="3.65" fill="#dfdbd9"/>
<rect x="601.5" y="328.50" width="4.6" height="3.65" fill="#e9d5cb"/>
<rect x="605.8" y="328.50" width="4.6" height="3.65" fill="#e8d6cc"/>
<rect x="610.1" y="328.50" width="6.0" height="3.65" fill="#e9d5cb"/>
<rect x="615.7" y="328.50" width="6.0" height="3.65" fill="#e8d6cc"/>
<rect x="621.4" y="328.50" width="6.0" height="3.65" fill="#ead5c9"/>
<rect x="627.1" y="328.50" width="6.0" height="3.65" fill="#edd1c2"/>
<rect x="632.8" y="328.50" width="4.6" height="3.65" fill="#e6d7cf"/>
<rect x="637.0" y="328.50" width="6.0" height="3.65" fill="#e5d8d1"/>
<rect x="642.7" y="328.50" width="6.0" height="3.65" fill="#ead4c8"/>
<rect x="648.4" y="328.50" width="6.0" height="3.65" fill="#efcfbf"/>
<rect x="654.1" y="328.50" width="6.0" height="3.65" fill="#edd1c2"/>
<rect x="659.8" y="328.50" width="10.2" height="3.65" fill="#eed0c0"/>
<rect x="669.7" y="328.50" width="6.0" height="3.65" fill="#e9d5cb"/>
<rect x="675.4" y="328.50" width="1.7" height="3.65" fill="#ebd3c6"/>
<rect x="563.2" y="331.85" width="1.7" height="3.65" fill="#d8dce2"/>
<rect x="564.6" y="331.85" width="3.1" height="3.65" fill="#d2dae7"/>
<rect x="567.5" y="331.85" width="1.7" height="3.65" fill="#c9d6eb"/>
<rect x="568.9" y="331.85" width="1.7" height="3.65" fill="#d1dae8"/>
<rect x="570.3" y="331.85" width="1.7" height="3.65" fill="#d8dce2"/>
<rect x="571.7" y="331.85" width="1.7" height="3.65" fill="#d9dce1"/>
<rect x="573.1" y="331.85" width="1.7" height="3.65" fill="#d8dce2"/>
<rect x="574.6" y="331.85" width="1.7" height="3.65" fill="#d9dce1"/>
<rect x="576.0" y="331.85" width="1.7" height="3.65" fill="#dadcdf"/>
<rect x="577.4" y="331.85" width="1.7" height="3.65" fill="#dbdcde"/>
<rect x="578.8" y="331.85" width="1.7" height="3.65" fill="#dfdbd9"/>
<rect x="580.2" y="331.85" width="3.1" height="3.65" fill="#e0dbd8"/>
<rect x="583.1" y="331.85" width="1.7" height="3.65" fill="#dcdddd"/>
<rect x="584.5" y="331.85" width="4.6" height="3.65" fill="#dddcdc"/>
<rect x="588.8" y="331.85" width="3.1" height="3.65" fill="#e1dad6"/>
<rect x="591.6" y="331.85" width="1.7" height="3.65" fill="#e6d7cf"/>
<rect x="593.0" y="331.85" width="1.7" height="3.65" fill="#ead4c8"/>
<rect x="594.4" y="331.85" width="1.7" height="3.65" fill="#edd2c3"/>
<rect x="595.9" y="331.85" width="3.1" height="3.65" fill="#edd1c2"/>
<rect x="598.7" y="331.85" width="1.7" height="3.65" fill="#eed0c0"/>
<rect x="600.1" y="331.85" width="3.1" height="3.65" fill="#edd2c3"/>
<rect x="603.0" y="331.85" width="1.7" height="3.65" fill="#f4c6af"/>
<rect x="604.4" y="331.85" width="1.7" height="3.65" fill="#f7b497"/>
<rect x="605.8" y="331.85" width="1.7" height="3.65" fill="#f7bca1"/>
<rect x="607.2" y="331.85" width="1.7" height="3.65" fill="#f7b79b"/>
<rect x="608.6" y="331.85" width="1.7" height="3.65" fill="#f59c7d"/>
<rect x="610.1" y="331.85" width="1.7" height="3.65" fill="#ec8265"/>
<rect x="611.5" y="331.85" width="3.1" height="3.65" fill="#ee8468"/>
<rect x="614.3" y="331.85" width="1.7" height="3.65" fill="#ee8669"/>
<rect x="615.7" y="331.85" width="1.7" height="3.65" fill="#e97a5e"/>
<rect x="617.2" y="331.85" width="3.1" height="3.65" fill="#e97b60"/>
<rect x="620.0" y="331.85" width="1.7" height="3.65" fill="#ea7d61"/>
<rect x="621.4" y="331.85" width="3.1" height="3.65" fill="#e8785d"/>
<rect x="624.3" y="331.85" width="1.7" height="3.65" fill="#e97a5e"/>
<rect x="625.7" y="331.85" width="1.7" height="3.65" fill="#ea7d61"/>
<rect x="627.1" y="331.85" width="1.7" height="3.65" fill="#f6a283"/>
<rect x="628.5" y="331.85" width="4.6" height="3.65" fill="#f7ac8e"/>
<rect x="632.8" y="331.85" width="6.0" height="3.65" fill="#f7a688"/>
<rect x="638.5" y="331.85" width="1.7" height="3.65" fill="#f7b396"/>
<rect x="639.9" y="331.85" width="3.1" height="3.65" fill="#edd2c3"/>
<rect x="642.7" y="331.85" width="1.7" height="3.65" fill="#eed0c0"/>
<rect x="644.1" y="331.85" width="4.6" height="3.65" fill="#efcfbf"/>
<rect x="648.4" y="331.85" width="1.7" height="3.65" fill="#eed0c0"/>
<rect x="649.8" y="331.85" width="4.6" height="3.65" fill="#efcfbf"/>
<rect x="654.1" y="331.85" width="6.0" height="3.65" fill="#f1cdba"/>
<rect x="659.8" y="331.85" width="1.7" height="3.65" fill="#f2cbb7"/>
<rect x="661.2" y="331.85" width="4.6" height="3.65" fill="#f2cab5"/>
<rect x="665.4" y="331.85" width="3.1" height="3.65" fill="#f1cdba"/>
<rect x="668.3" y="331.85" width="1.7" height="3.65" fill="#f1ccb8"/>
<rect x="669.7" y="331.85" width="1.7" height="3.65" fill="#f3c7b1"/>
<rect x="671.1" y="331.85" width="4.6" height="3.65" fill="#f4c5ad"/>
<rect x="675.4" y="331.85" width="1.7" height="3.65" fill="#f5c0a7"/>
<rect x="563.2" y="335.20" width="1.7" height="3.65" fill="#dcdddd"/>
<rect x="564.6" y="335.20" width="6.0" height="3.65" fill="#e1dad6"/>
<rect x="570.3" y="335.20" width="6.0" height="3.65" fill="#dbdcde"/>
<rect x="576.0" y="335.20" width="6.0" height="3.65" fill="#dedcdb"/>
<rect x="581.7" y="335.20" width="4.6" height="3.65" fill="#d9dce1"/>
<rect x="585.9" y="335.20" width="6.0" height="3.65" fill="#dddcdc"/>
<rect x="591.6" y="335.20" width="1.7" height="3.65" fill="#e0dbd8"/>
<rect x="593.0" y="335.20" width="1.7" height="3.65" fill="#e9d5cb"/>
<rect x="594.4" y="335.20" width="1.7" height="3.65" fill="#ebd3c6"/>
<rect x="595.9" y="335.20" width="1.7" height="3.65" fill="#edd1c2"/>
<rect x="597.3" y="335.20" width="1.7" height="3.65" fill="#f2cab5"/>
<rect x="598.7" y="335.20" width="1.7" height="3.65" fill="#f3c7b1"/>
<rect x="600.1" y="335.20" width="1.7" height="3.65" fill="#f4c5ad"/>
<rect x="601.5" y="335.20" width="1.7" height="3.65" fill="#f5c4ac"/>
<rect x="603.0" y="335.20" width="1.7" height="3.65" fill="#f5c2aa"/>
<rect x="604.4" y="335.20" width="1.7" height="3.65" fill="#f5c0a7"/>
<rect x="605.8" y="335.20" width="1.7" height="3.65" fill="#f6bea4"/>
<rect x="607.2" y="335.20" width="1.7" height="3.65" fill="#f7bca1"/>
<rect x="608.6" y="335.20" width="4.6" height="3.65" fill="#f7ba9f"/>
<rect x="612.9" y="335.20" width="6.0" height="3.65" fill="#f7b79b"/>
<rect x="618.6" y="335.20" width="4.6" height="3.65" fill="#f7b89c"/>
<rect x="622.8" y="335.20" width="1.7" height="3.65" fill="#f7b093"/>
<rect x="624.3" y="335.20" width="6.0" height="3.65" fill="#f7b89c"/>
<rect x="629.9" y="335.20" width="1.7" height="3.65" fill="#f7b093"/>
<rect x="631.4" y="335.20" width="1.7" height="3.65" fill="#f5c0a7"/>
<rect x="632.8" y="335.20" width="3.1" height="3.65" fill="#f0cdbb"/>
<rect x="635.6" y="335.20" width="4.6" height="3.65" fill="#ead5c9"/>
<rect x="639.9" y="335.20" width="6.0" height="3.65" fill="#f1cdba"/>
<rect x="645.6" y="335.20" width="6.0" height="3.65" fill="#f2cab5"/>
<rect x="651.2" y="335.20" width="11.7" height="3.65" fill="#efcebd"/>
<rect x="662.6" y="335.20" width="1.7" height="3.65" fill="#e7d7ce"/>
<rect x="664.0" y="335.20" width="3.1" height="3.65" fill="#dddcdc"/>
<rect x="666.9" y="335.20" width="1.7" height="3.65" fill="#e0dbd8"/>
<rect x="668.3" y="335.20" width="1.7" height="3.65" fill="#e9d5cb"/>
<rect x="669.7" y="335.20" width="3.1" height="3.65" fill="#f0cdbb"/>
<rect x="672.5" y="335.20" width="4.6" height="3.65" fill="#edd2c3"/>
<rect x="563.2" y="338.56" width="1.7" height="3.65" fill="#e2dad5"/>
<rect x="564.6" y="338.56" width="1.7" height="3.65" fill="#e8d6cc"/>
<rect x="566.0" y="338.56" width="6.0" height="3.65" fill="#ead5c9"/>
<rect x="571.7" y="338.56" width="1.7" height="3.65" fill="#e1dad6"/>
<rect x="573.1" y="338.56" width="3.1" height="3.65" fill="#dddcdc"/>
<rect x="576.0" y="338.56" width="6.0" height="3.65" fill="#d7dce3"/>
<rect x="581.7" y="338.56" width="6.0" height="3.65" fill="#e4d9d2"/>
<rect x="587.3" y="338.56" width="4.6" height="3.65" fill="#dddcdc"/>
<rect x="591.6" y="338.56" width="1.7" height="3.65" fill="#e7d7ce"/>
<rect x="593.0" y="338.56" width="1.7" height="3.65" fill="#ead5c9"/>
<rect x="594.4" y="338.56" width="1.7" height="3.65" fill="#ead4c8"/>
<rect x="595.9" y="338.56" width="3.1" height="3.65" fill="#ebd3c6"/>
<rect x="598.7" y="338.56" width="3.1" height="3.65" fill="#f2cab5"/>
<rect x="601.5" y="338.56" width="1.7" height="3.65" fill="#f2c9b4"/>
<rect x="603.0" y="338.56" width="3.1" height="3.65" fill="#f1ccb8"/>
<rect x="605.8" y="338.56" width="3.1" height="3.65" fill="#f2cbb7"/>
<rect x="608.6" y="338.56" width="6.0" height="3.65" fill="#f7af91"/>
<rect x="614.3" y="338.56" width="6.0" height="3.65" fill="#f7ac8e"/>
<rect x="620.0" y="338.56" width="1.7" height="3.65" fill="#f7b497"/>
<rect x="621.4" y="338.56" width="1.7" height="3.65" fill="#f5c4ac"/>
<rect x="622.8" y="338.56" width="3.1" height="3.65" fill="#f0cdbb"/>
<rect x="625.7" y="338.56" width="4.6" height="3.65" fill="#edd1c2"/>
<rect x="629.9" y="338.56" width="6.0" height="3.65" fill="#f2cbb7"/>
<rect x="635.6" y="338.56" width="6.0" height="3.65" fill="#f2cab5"/>
<rect x="641.3" y="338.56" width="6.0" height="3.65" fill="#f3c7b1"/>
<rect x="647.0" y="338.56" width="6.0" height="3.65" fill="#f1cdba"/>
<rect x="652.7" y="338.56" width="4.6" height="3.65" fill="#f2cbb7"/>
<rect x="656.9" y="338.56" width="3.1" height="3.65" fill="#f2c9b4"/>
<rect x="659.8" y="338.56" width="1.7" height="3.65" fill="#efcebd"/>
<rect x="661.2" y="338.56" width="1.7" height="3.65" fill="#e5d8d1"/>
<rect x="662.6" y="338.56" width="3.1" height="3.65" fill="#dcdddd"/>
<rect x="665.4" y="338.56" width="1.7" height="3.65" fill="#e2dad5"/>
<rect x="666.9" y="338.56" width="1.7" height="3.65" fill="#edd1c2"/>
<rect x="668.3" y="338.56" width="6.0" height="3.65" fill="#f2cbb7"/>
<rect x="674.0" y="338.56" width="3.1" height="3.65" fill="#f2cab5"/>
<rect x="563.2" y="341.91" width="1.7" height="3.65" fill="#d6dbe4"/>
<rect x="564.6" y="341.91" width="6.0" height="3.65" fill="#d9dce1"/>
<rect x="570.3" y="341.91" width="6.0" height="3.65" fill="#d8dce2"/>
<rect x="576.0" y="341.91" width="4.6" height="3.65" fill="#d7dce3"/>
<rect x="580.2" y="341.91" width="6.0" height="3.65" fill="#dbdcde"/>
<rect x="585.9" y="341.91" width="6.0" height="3.65" fill="#dddcdc"/>
<rect x="591.6" y="341.91" width="1.7" height="3.65" fill="#e6d7cf"/>
<rect x="593.0" y="341.91" width="4.6" height="3.65" fill="#edd2c3"/>
<rect x="597.3" y="341.91" width="1.7" height="3.65" fill="#ead4c8"/>
<rect x="598.7" y="341.91" width="4.6" height="3.65" fill="#ebd3c6"/>
<rect x="603.0" y="341.91" width="4.6" height="3.65" fill="#e9d5cb"/>
<rect x="607.2" y="341.91" width="1.7" height="3.65" fill="#f6bfa6"/>
<rect x="608.6" y="341.91" width="4.6" height="3.65" fill="#f7ba9f"/>
<rect x="612.9" y="341.91" width="6.0" height="3.65" fill="#f5c4ac"/>
<rect x="618.6" y="341.91" width="4.6" height="3.65" fill="#f6bea4"/>
<rect x="622.8" y="341.91" width="1.7" height="3.65" fill="#f1ccb8"/>
<rect x="624.3" y="341.91" width="10.2" height="3.65" fill="#ead5c9"/>
<rect x="634.2" y="341.91" width="1.7" height="3.65" fill="#e4d9d2"/>
<rect x="635.6" y="341.91" width="1.7" height="3.65" fill="#ead4c8"/>
<rect x="637.0" y="341.91" width="3.1" height="3.65" fill="#efcfbf"/>
<rect x="639.9" y="341.91" width="6.0" height="3.65" fill="#eed0c0"/>
<rect x="645.6" y="341.91" width="6.0" height="3.65" fill="#f4c6af"/>
<rect x="651.2" y="341.91" width="1.7" height="3.65" fill="#ecd3c5"/>
<rect x="652.7" y="341.91" width="4.6" height="3.65" fill="#e7d7ce"/>
<rect x="656.9" y="341.91" width="4.6" height="3.65" fill="#e3d9d3"/>
<rect x="661.2" y="341.91" width="6.0" height="3.65" fill="#e4d9d2"/>
<rect x="666.9" y="341.91" width="1.7" height="3.65" fill="#efcebd"/>
<rect x="668.3" y="341.91" width="4.6" height="3.65" fill="#f4c5ad"/>
<rect x="672.5" y="341.91" width="4.6" height="3.65" fill="#f5c0a7"/>
<rect x="563.2" y="345.26" width="3.1" height="3.65" fill="#d7dce3"/>
<rect x="566.0" y="345.26" width="6.0" height="3.65" fill="#d8dce2"/>
<rect x="571.7" y="345.26" width="6.0" height="3.65" fill="#dadcdf"/>
<rect x="577.4" y="345.26" width="4.6" height="3.65" fill="#d5dbe5"/>
<rect x="581.7" y="345.26" width="6.0" height="3.65" fill="#d8dce2"/>
<rect x="587.3" y="345.26" width="4.6" height="3.65" fill="#d5dbe5"/>
<rect x="591.6" y="345.26" width="1.7" height="3.65" fill="#d2dae7"/>
<rect x="593.0" y="345.26" width="6.0" height="3.65" fill="#ced9e9"/>
<rect x="598.7" y="345.26" width="6.0" height="3.65" fill="#d4dbe5"/>
<rect x="604.4" y="345.26" width="4.6" height="3.65" fill="#cdd8ea"/>
<rect x="608.6" y="345.26" width="6.0" height="3.65" fill="#d2dae7"/>
<rect x="614.3" y="345.26" width="6.0" height="3.65" fill="#cdd8ea"/>
<rect x="620.0" y="345.26" width="6.0" height="3.65" fill="#d1dae8"/>
<rect x="625.7" y="345.26" width="6.0" height="3.65" fill="#ced9e9"/>
<rect x="631.4" y="345.26" width="4.6" height="3.65" fill="#d5dbe5"/>
<rect x="635.6" y="345.26" width="11.7" height="3.65" fill="#d2dae7"/>
<rect x="647.0" y="345.26" width="6.0" height="3.65" fill="#d7dce3"/>
<rect x="652.7" y="345.26" width="6.0" height="3.65" fill="#c9d6eb"/>
<rect x="658.3" y="345.26" width="1.7" height="3.65" fill="#ccd8ea"/>
<rect x="659.8" y="345.26" width="1.7" height="3.65" fill="#ced9e9"/>
<rect x="661.2" y="345.26" width="1.7" height="3.65" fill="#d3dbe6"/>
<rect x="662.6" y="345.26" width="6.0" height="3.65" fill="#d1dae8"/>
<rect x="668.3" y="345.26" width="6.0" height="3.65" fill="#d9dce1"/>
<rect x="674.0" y="345.26" width="3.1" height="3.65" fill="#dadcdf"/>
<rect x="563.2" y="348.61" width="3.1" height="3.65" fill="#dddcdc"/>
<rect x="566.0" y="348.61" width="6.0" height="3.65" fill="#e7d7ce"/>
<rect x="571.7" y="348.61" width="6.0" height="3.65" fill="#e2dad5"/>
<rect x="577.4" y="348.61" width="6.0" height="3.65" fill="#e0dbd8"/>
<rect x="583.1" y="348.61" width="4.6" height="3.65" fill="#dcdddd"/>
<rect x="587.3" y="348.61" width="4.6" height="3.65" fill="#e2dad5"/>
<rect x="591.6" y="348.61" width="1.7" height="3.65" fill="#e7d7ce"/>
<rect x="593.0" y="348.61" width="11.7" height="3.65" fill="#e9d5cb"/>
<rect x="604.4" y="348.61" width="10.2" height="3.65" fill="#ead4c8"/>
<rect x="614.3" y="348.61" width="6.0" height="3.65" fill="#e8d6cc"/>
<rect x="620.0" y="348.61" width="6.0" height="3.65" fill="#edd1c2"/>
<rect x="625.7" y="348.61" width="11.7" height="3.65" fill="#e7d7ce"/>
<rect x="637.0" y="348.61" width="4.6" height="3.65" fill="#ebd3c6"/>
<rect x="641.3" y="348.61" width="11.7" height="3.65" fill="#ead4c8"/>
<rect x="652.7" y="348.61" width="6.0" height="3.65" fill="#e9d5cb"/>
<rect x="658.3" y="348.61" width="6.0" height="3.65" fill="#ead4c8"/>
<rect x="664.0" y="348.61" width="4.6" height="3.65" fill="#e9d5cb"/>
<rect x="668.3" y="348.61" width="6.0" height="3.65" fill="#e5d8d1"/>
<rect x="674.0" y="348.61" width="3.1" height="3.65" fill="#ecd3c5"/>
<rect x="563.2" y="351.96" width="4.6" height="3.65" fill="#dbdcde"/>
<rect x="567.5" y="351.96" width="6.0" height="3.65" fill="#d9dce1"/>
<rect x="573.1" y="351.96" width="6.0" height="3.65" fill="#e0dbd8"/>
<rect x="578.8" y="351.96" width="6.0" height="3.65" fill="#d4dbe5"/>
<rect x="584.5" y="351.96" width="4.6" height="3.65" fill="#d6dbe4"/>
<rect x="588.8" y="351.96" width="3.1" height="3.65" fill="#d9dce1"/>
<rect x="591.6" y="351.96" width="1.7" height="3.65" fill="#e1dad6"/>
<rect x="593.0" y="351.96" width="1.7" height="3.65" fill="#e8d6cc"/>
<rect x="594.4" y="351.96" width="6.0" height="3.65" fill="#ecd3c5"/>
<rect x="600.1" y="351.96" width="3.1" height="3.65" fill="#e7d7ce"/>
<rect x="603.0" y="351.96" width="1.7" height="3.65" fill="#efcfbf"/>
<rect x="604.4" y="351.96" width="1.7" height="3.65" fill="#f3c7b1"/>
<rect x="605.8" y="351.96" width="6.0" height="3.65" fill="#f2cbb7"/>
<rect x="611.5" y="351.96" width="4.6" height="3.65" fill="#f5c1a9"/>
<rect x="615.7" y="351.96" width="6.0" height="3.65" fill="#f2c9b4"/>
<rect x="621.4" y="351.96" width="1.7" height="3.65" fill="#edd2c3"/>
<rect x="622.8" y="351.96" width="4.6" height="3.65" fill="#e7d7ce"/>
<rect x="627.1" y="351.96" width="6.0" height="3.65" fill="#ead4c8"/>
<rect x="632.8" y="351.96" width="10.2" height="3.65" fill="#e6d7cf"/>
<rect x="642.7" y="351.96" width="6.0" height="3.65" fill="#ead5c9"/>
<rect x="648.4" y="351.96" width="6.0" height="3.65" fill="#e7d7ce"/>
<rect x="654.1" y="351.96" width="6.0" height="3.65" fill="#e9d5cb"/>
<rect x="659.8" y="351.96" width="6.0" height="3.65" fill="#e5d8d1"/>
<rect x="665.4" y="351.96" width="4.6" height="3.65" fill="#e8d6cc"/>
<rect x="669.7" y="351.96" width="6.0" height="3.65" fill="#e4d9d2"/>
<rect x="675.4" y="351.96" width="1.7" height="3.65" fill="#e2dad5"/>
<rect x="563.2" y="355.32" width="4.6" height="3.65" fill="#dcdddd"/>
<rect x="567.5" y="355.32" width="4.6" height="3.65" fill="#d5dbe5"/>
<rect x="571.7" y="355.32" width="6.0" height="3.65" fill="#d9dce1"/>
<rect x="577.4" y="355.32" width="6.0" height="3.65" fill="#d8dce2"/>
<rect x="583.1" y="355.32" width="6.0" height="3.65" fill="#d4dbe5"/>
<rect x="588.8" y="355.32" width="3.1" height="3.65" fill="#dbdcde"/>
<rect x="591.6" y="355.32" width="1.7" height="3.65" fill="#e1dad6"/>
<rect x="593.0" y="355.32" width="1.7" height="3.65" fill="#e7d7ce"/>
<rect x="594.4" y="355.32" width="4.6" height="3.65" fill="#e3d9d3"/>
<rect x="598.7" y="355.32" width="6.0" height="3.65" fill="#e5d8d1"/>
<rect x="604.4" y="355.32" width="6.0" height="3.65" fill="#e0dbd8"/>
<rect x="610.1" y="355.32" width="6.0" height="3.65" fill="#e9d5cb"/>
<rect x="615.7" y="355.32" width="6.0" height="3.65" fill="#e8d6cc"/>
<rect x="621.4" y="355.32" width="4.6" height="3.65" fill="#e7d7ce"/>
<rect x="625.7" y="355.32" width="6.0" height="3.65" fill="#e2dad5"/>
<rect x="631.4" y="355.32" width="6.0" height="3.65" fill="#e4d9d2"/>
<rect x="637.0" y="355.32" width="6.0" height="3.65" fill="#ead5c9"/>
<rect x="642.7" y="355.32" width="6.0" height="3.65" fill="#e4d9d2"/>
<rect x="648.4" y="355.32" width="1.7" height="3.65" fill="#e2dad5"/>
<rect x="649.8" y="355.32" width="1.7" height="3.65" fill="#d9dce1"/>
<rect x="651.2" y="355.32" width="1.7" height="3.65" fill="#d5dbe5"/>
<rect x="652.7" y="355.32" width="4.6" height="3.65" fill="#d4dbe5"/>
<rect x="656.9" y="355.32" width="1.7" height="3.65" fill="#d8dce2"/>
<rect x="658.3" y="355.32" width="1.7" height="3.65" fill="#dadcdf"/>
<rect x="659.8" y="355.32" width="4.6" height="3.65" fill="#dedcdb"/>
<rect x="664.0" y="355.32" width="6.0" height="3.65" fill="#e7d7ce"/>
<rect x="669.7" y="355.32" width="6.0" height="3.65" fill="#dbdcde"/>
<rect x="675.4" y="355.32" width="1.7" height="3.65" fill="#e2dad5"/>
<rect x="563.2" y="358.67" width="6.0" height="3.65" fill="#d8dce2"/>
<rect x="568.9" y="358.67" width="6.0" height="3.65" fill="#d6dbe4"/>
<rect x="574.6" y="358.67" width="4.6" height="3.65" fill="#d3dbe6"/>
<rect x="578.8" y="358.67" width="6.0" height="3.65" fill="#d8dce2"/>
<rect x="584.5" y="358.67" width="6.0" height="3.65" fill="#dadcdf"/>
<rect x="590.2" y="358.67" width="1.7" height="3.65" fill="#d7dce3"/>
<rect x="591.6" y="358.67" width="1.7" height="3.65" fill="#d5dbe5"/>
<rect x="593.0" y="358.67" width="3.1" height="3.65" fill="#d2dae7"/>
<rect x="595.9" y="358.67" width="6.0" height="3.65" fill="#d7dce3"/>
<rect x="601.5" y="358.67" width="1.7" height="3.65" fill="#dbdcde"/>
<rect x="603.0" y="358.67" width="8.8" height="3.65" fill="#e2dad5"/>
<rect x="611.5" y="358.67" width="6.0" height="3.65" fill="#e4d9d2"/>
<rect x="617.2" y="358.67" width="11.7" height="3.65" fill="#dddcdc"/>
<rect x="628.5" y="358.67" width="10.2" height="3.65" fill="#e1dad6"/>
<rect x="638.5" y="358.67" width="6.0" height="3.65" fill="#e4d9d2"/>
<rect x="644.1" y="358.67" width="6.0" height="3.65" fill="#e3d9d3"/>
<rect x="649.8" y="358.67" width="10.2" height="3.65" fill="#e0dbd8"/>
<rect x="659.8" y="358.67" width="11.7" height="3.65" fill="#dedcdb"/>
<rect x="671.1" y="358.67" width="6.0" height="3.65" fill="#dddcdc"/>
<rect x="563.2" y="362.02" width="1.7" height="3.65" fill="#d8dce2"/>
<rect x="564.6" y="362.02" width="1.7" height="3.65" fill="#d5dbe5"/>
<rect x="566.0" y="362.02" width="1.7" height="3.65" fill="#d3dbe6"/>
<rect x="567.5" y="362.02" width="1.7" height="3.65" fill="#d2dae7"/>
<rect x="568.9" y="362.02" width="3.1" height="3.65" fill="#ced9e9"/>
<rect x="571.7" y="362.02" width="1.7" height="3.65" fill="#d3dbe6"/>
<rect x="573.1" y="362.02" width="1.7" height="3.65" fill="#d7dce3"/>
<rect x="574.6" y="362.02" width="3.1" height="3.65" fill="#d8dce2"/>
<rect x="577.4" y="362.02" width="3.1" height="3.65" fill="#d9dce1"/>
<rect x="580.2" y="362.02" width="4.6" height="3.65" fill="#d3dbe6"/>
<rect x="584.5" y="362.02" width="6.0" height="3.65" fill="#dcdddd"/>
<rect x="590.2" y="362.02" width="1.7" height="3.65" fill="#dadcdf"/>
<rect x="591.6" y="362.02" width="3.1" height="3.65" fill="#dbdcde"/>
<rect x="594.4" y="362.02" width="1.7" height="3.65" fill="#dcdddd"/>
<rect x="595.9" y="362.02" width="1.7" height="3.65" fill="#dedcdb"/>
<rect x="597.3" y="362.02" width="1.7" height="3.65" fill="#dfdbd9"/>
<rect x="598.7" y="362.02" width="3.1" height="3.65" fill="#e0dbd8"/>
<rect x="601.5" y="362.02" width="1.7" height="3.65" fill="#e1dad6"/>
<rect x="603.0" y="362.02" width="1.7" height="3.65" fill="#e2dad5"/>
<rect x="604.4" y="362.02" width="1.7" height="3.65" fill="#e3d9d3"/>
<rect x="605.8" y="362.02" width="1.7" height="3.65" fill="#f0cdbb"/>
<rect x="607.2" y="362.02" width="4.6" height="3.65" fill="#f4c6af"/>
<rect x="611.5" y="362.02" width="6.0" height="3.65" fill="#f7b599"/>
<rect x="617.2" y="362.02" width="1.7" height="3.65" fill="#f6bea4"/>
<rect x="618.6" y="362.02" width="1.7" height="3.65" fill="#eed0c0"/>
<rect x="620.0" y="362.02" width="8.8" height="3.65" fill="#e2dad5"/>
<rect x="628.5" y="362.02" width="6.0" height="3.65" fill="#dbdcde"/>
<rect x="634.2" y="362.02" width="4.6" height="3.65" fill="#e4d9d2"/>
<rect x="638.5" y="362.02" width="6.0" height="3.65" fill="#e3d9d3"/>
<rect x="644.1" y="362.02" width="4.6" height="3.65" fill="#e1dad6"/>
<rect x="648.4" y="362.02" width="1.7" height="3.65" fill="#dddcdc"/>
<rect x="649.8" y="362.02" width="1.7" height="3.65" fill="#d8dce2"/>
<rect x="651.2" y="362.02" width="4.6" height="3.65" fill="#d5dbe5"/>
<rect x="655.5" y="362.02" width="1.7" height="3.65" fill="#d9dce1"/>
<rect x="656.9" y="362.02" width="1.7" height="3.65" fill="#dbdcde"/>
<rect x="658.3" y="362.02" width="1.7" height="3.65" fill="#e1dad6"/>
<rect x="659.8" y="362.02" width="1.7" height="3.65" fill="#e4d9d2"/>
<rect x="661.2" y="362.02" width="4.6" height="3.65" fill="#dedcdb"/>
<rect x="665.4" y="362.02" width="6.0" height="3.65" fill="#dcdddd"/>
<rect x="671.1" y="362.02" width="6.0" height="3.65" fill="#e4d9d2"/>
<rect x="563.2" y="365.37" width="1.7" height="3.65" fill="#dfdbd9"/>
<rect x="564.6" y="365.37" width="1.7" height="3.65" fill="#dedcdb"/>
<rect x="566.0" y="365.37" width="1.7" height="3.65" fill="#d7dce3"/>
<rect x="567.5" y="365.37" width="1.7" height="3.65" fill="#d6dbe4"/>
<rect x="568.9" y="365.37" width="1.7" height="3.65" fill="#d5dbe5"/>
<rect x="570.3" y="365.37" width="1.7" height="3.65" fill="#d4dbe5"/>
<rect x="571.7" y="365.37" width="1.7" height="3.65" fill="#d2dae7"/>
<rect x="573.1" y="365.37" width="1.7" height="3.65" fill="#d1dae8"/>
<rect x="574.6" y="365.37" width="1.7" height="3.65" fill="#ced9e9"/>
<rect x="576.0" y="365.37" width="1.7" height="3.65" fill="#cdd8ea"/>
<rect x="577.4" y="365.37" width="1.7" height="3.65" fill="#ced9e9"/>
<rect x="578.8" y="365.37" width="1.7" height="3.65" fill="#cdd8ea"/>
<rect x="580.2" y="365.37" width="3.1" height="3.65" fill="#ccd8ea"/>
<rect x="583.1" y="365.37" width="6.0" height="3.65" fill="#cad7eb"/>
<rect x="588.8" y="365.37" width="1.7" height="3.65" fill="#d4dbe5"/>
<rect x="590.2" y="365.37" width="1.7" height="3.65" fill="#dadcdf"/>
<rect x="591.6" y="365.37" width="1.7" height="3.65" fill="#d7dce3"/>
<rect x="593.0" y="365.37" width="6.0" height="3.65" fill="#d2dae7"/>
<rect x="598.7" y="365.37" width="3.1" height="3.65" fill="#ced9e9"/>
<rect x="601.5" y="365.37" width="1.7" height="3.65" fill="#d4dbe5"/>
<rect x="603.0" y="365.37" width="1.7" height="3.65" fill="#d9dce1"/>
<rect x="604.4" y="365.37" width="6.0" height="3.65" fill="#dbdcde"/>
<rect x="610.1" y="365.37" width="10.2" height="3.65" fill="#dddcdc"/>
<rect x="620.0" y="365.37" width="3.1" height="3.65" fill="#dedcdb"/>
<rect x="622.8" y="365.37" width="1.7" height="3.65" fill="#dbdcde"/>
<rect x="624.3" y="365.37" width="1.7" height="3.65" fill="#d6dbe4"/>
<rect x="625.7" y="365.37" width="6.0" height="3.65" fill="#d4dbe5"/>
<rect x="631.4" y="365.37" width="6.0" height="3.65" fill="#d2dae7"/>
<rect x="637.0" y="365.37" width="3.1" height="3.65" fill="#d3dbe6"/>
<rect x="639.9" y="365.37" width="1.7" height="3.65" fill="#d6dbe4"/>
<rect x="641.3" y="365.37" width="1.7" height="3.65" fill="#dbdcde"/>
<rect x="642.7" y="365.37" width="4.6" height="3.65" fill="#dadcdf"/>
<rect x="647.0" y="365.37" width="6.0" height="3.65" fill="#dbdcde"/>
<rect x="652.7" y="365.37" width="6.0" height="3.65" fill="#dfdbd9"/>
<rect x="658.3" y="365.37" width="6.0" height="3.65" fill="#d5dbe5"/>
<rect x="664.0" y="365.37" width="6.0" height="3.65" fill="#dddcdc"/>
<rect x="669.7" y="365.37" width="4.6" height="3.65" fill="#e2dad5"/>
<rect x="674.0" y="365.37" width="3.1" height="3.65" fill="#d5dbe5"/>
<rect x="563.2" y="368.72" width="1.7" height="3.65" fill="#dedcdb"/>
<rect x="564.6" y="368.72" width="1.7" height="3.65" fill="#e4d9d2"/>
<rect x="566.0" y="368.72" width="1.7" height="3.65" fill="#e7d7ce"/>
<rect x="567.5" y="368.72" width="1.7" height="3.65" fill="#e9d5cb"/>
<rect x="568.9" y="368.72" width="7.4" height="3.65" fill="#ead4c8"/>
<rect x="576.0" y="368.72" width="3.1" height="3.65" fill="#e3d9d3"/>
<rect x="578.8" y="368.72" width="1.7" height="3.65" fill="#dddcdc"/>
<rect x="580.2" y="368.72" width="1.7" height="3.65" fill="#d8dce2"/>
<rect x="581.7" y="368.72" width="6.0" height="3.65" fill="#d7dce3"/>
<rect x="587.3" y="368.72" width="4.6" height="3.65" fill="#d6dbe4"/>
<rect x="591.6" y="368.72" width="1.7" height="3.65" fill="#e2dad5"/>
<rect x="593.0" y="368.72" width="1.7" height="3.65" fill="#ead5c9"/>
<rect x="594.4" y="368.72" width="1.7" height="3.65" fill="#efcebd"/>
<rect x="595.9" y="368.72" width="1.7" height="3.65" fill="#f2c9b4"/>
<rect x="597.3" y="368.72" width="1.7" height="3.65" fill="#f1ccb8"/>
<rect x="598.7" y="368.72" width="3.1" height="3.65" fill="#f2cbb7"/>
<rect x="601.5" y="368.72" width="1.7" height="3.65" fill="#f2cab5"/>
<rect x="603.0" y="368.72" width="1.7" height="3.65" fill="#f3c8b2"/>
<rect x="604.4" y="368.72" width="1.7" height="3.65" fill="#f3c7b1"/>
<rect x="605.8" y="368.72" width="3.1" height="3.65" fill="#f4c6af"/>
<rect x="608.6" y="368.72" width="6.0" height="3.65" fill="#f4c5ad"/>
<rect x="614.3" y="368.72" width="10.2" height="3.65" fill="#f5c4ac"/>
<rect x="624.3" y="368.72" width="6.0" height="3.65" fill="#f4c5ad"/>
<rect x="629.9" y="368.72" width="1.7" height="3.65" fill="#f2cbb7"/>
<rect x="631.4" y="368.72" width="1.7" height="3.65" fill="#e5d8d1"/>
<rect x="632.8" y="368.72" width="1.7" height="3.65" fill="#dedcdb"/>
<rect x="634.2" y="368.72" width="1.7" height="3.65" fill="#e3d9d3"/>
<rect x="635.6" y="368.72" width="1.7" height="3.65" fill="#f0cdbb"/>
<rect x="637.0" y="368.72" width="1.7" height="3.65" fill="#f2c9b4"/>
<rect x="638.5" y="368.72" width="3.1" height="3.65" fill="#f3c7b1"/>
<rect x="641.3" y="368.72" width="4.6" height="3.65" fill="#edd2c3"/>
<rect x="645.6" y="368.72" width="6.0" height="3.65" fill="#f3c8b2"/>
<rect x="651.2" y="368.72" width="3.1" height="3.65" fill="#f0cdbb"/>
<rect x="654.1" y="368.72" width="1.7" height="3.65" fill="#e8d6cc"/>
<rect x="655.5" y="368.72" width="1.7" height="3.65" fill="#dddcdc"/>
<rect x="656.9" y="368.72" width="6.0" height="3.65" fill="#dfdbd9"/>
<rect x="662.6" y="368.72" width="6.0" height="3.65" fill="#dddcdc"/>
<rect x="668.3" y="368.72" width="4.6" height="3.65" fill="#dedcdb"/>
<rect x="672.5" y="368.72" width="4.6" height="3.65" fill="#dfdbd9"/>
<rect x="563.2" y="372.08" width="1.7" height="3.65" fill="#dcdddd"/>
<rect x="564.6" y="372.08" width="1.7" height="3.65" fill="#dddcdc"/>
<rect x="566.0" y="372.08" width="1.7" height="3.65" fill="#d9dce1"/>
<rect x="567.5" y="372.08" width="1.7" height="3.65" fill="#dbdcde"/>
<rect x="568.9" y="372.08" width="1.7" height="3.65" fill="#dcdddd"/>
<rect x="570.3" y="372.08" width="1.7" height="3.65" fill="#dddcdc"/>
<rect x="571.7" y="372.08" width="1.7" height="3.65" fill="#e5d8d1"/>
<rect x="573.1" y="372.08" width="1.7" height="3.65" fill="#e7d7ce"/>
<rect x="574.6" y="372.08" width="1.7" height="3.65" fill="#e8d6cc"/>
<rect x="576.0" y="372.08" width="6.0" height="3.65" fill="#e4d9d2"/>
<rect x="581.7" y="372.08" width="4.6" height="3.65" fill="#e2dad5"/>
<rect x="585.9" y="372.08" width="1.7" height="3.65" fill="#dcdddd"/>
<rect x="587.3" y="372.08" width="1.7" height="3.65" fill="#d9dce1"/>
<rect x="588.8" y="372.08" width="1.7" height="3.65" fill="#d7dce3"/>
<rect x="590.2" y="372.08" width="1.7" height="3.65" fill="#d5dbe5"/>
<rect x="591.6" y="372.08" width="1.7" height="3.65" fill="#d3dbe6"/>
<rect x="593.0" y="372.08" width="6.0" height="3.65" fill="#d4dbe5"/>
<rect x="598.7" y="372.08" width="1.7" height="3.65" fill="#d7dce3"/>
<rect x="600.1" y="372.08" width="3.1" height="3.65" fill="#e2dad5"/>
<rect x="603.0" y="372.08" width="6.0" height="3.65" fill="#e4d9d2"/>
<rect x="608.6" y="372.08" width="6.0" height="3.65" fill="#ead5c9"/>
<rect x="614.3" y="372.08" width="6.0" height="3.65" fill="#e1dad6"/>
<rect x="620.0" y="372.08" width="6.0" height="3.65" fill="#e2dad5"/>
<rect x="625.7" y="372.08" width="3.1" height="3.65" fill="#e6d7cf"/>
<rect x="628.5" y="372.08" width="1.7" height="3.65" fill="#e3d9d3"/>
<rect x="629.9" y="372.08" width="1.7" height="3.65" fill="#d9dce1"/>
<rect x="631.4" y="372.08" width="4.6" height="3.65" fill="#d6dbe4"/>
<rect x="635.6" y="372.08" width="6.0" height="3.65" fill="#d3dbe6"/>
<rect x="641.3" y="372.08" width="6.0" height="3.65" fill="#d5dbe5"/>
<rect x="647.0" y="372.08" width="6.0" height="3.65" fill="#dcdddd"/>
<rect x="652.7" y="372.08" width="10.2" height="3.65" fill="#dddcdc"/>
<rect x="662.6" y="372.08" width="4.6" height="3.65" fill="#dcdddd"/>
<rect x="666.9" y="372.08" width="1.7" height="3.65" fill="#e4d9d2"/>
<rect x="668.3" y="372.08" width="6.0" height="3.65" fill="#e7d7ce"/>
<rect x="674.0" y="372.08" width="3.1" height="3.65" fill="#edd2c3"/>
<rect x="563.2" y="375.43" width="1.7" height="3.65" fill="#d8dce2"/>
<rect x="564.6" y="375.43" width="1.7" height="3.65" fill="#d6dbe4"/>
<rect x="566.0" y="375.43" width="1.7" height="3.65" fill="#ced9e9"/>
<rect x="567.5" y="375.43" width="1.7" height="3.65" fill="#ccd8ea"/>
<rect x="568.9" y="375.43" width="1.7" height="3.65" fill="#cad7eb"/>
<rect x="570.3" y="375.43" width="7.4" height="3.65" fill="#c8d6ec"/>
<rect x="577.4" y="375.43" width="1.7" height="3.65" fill="#d1dae8"/>
<rect x="578.8" y="375.43" width="3.1" height="3.65" fill="#d7dce3"/>
<rect x="581.7" y="375.43" width="1.7" height="3.65" fill="#d8dce2"/>
<rect x="583.1" y="375.43" width="1.7" height="3.65" fill="#d1dae8"/>
<rect x="584.5" y="375.43" width="3.1" height="3.65" fill="#d2dae7"/>
<rect x="587.3" y="375.43" width="4.6" height="3.65" fill="#dddcdc"/>
<rect x="591.6" y="375.43" width="1.7" height="3.65" fill="#e4d9d2"/>
<rect x="593.0" y="375.43" width="1.7" height="3.65" fill="#e3d9d3"/>
<rect x="594.4" y="375.43" width="1.7" height="3.65" fill="#e4d9d2"/>
<rect x="595.9" y="375.43" width="1.7" height="3.65" fill="#e5d8d1"/>
<rect x="597.3" y="375.43" width="1.7" height="3.65" fill="#e6d7cf"/>
<rect x="598.7" y="375.43" width="1.7" height="3.65" fill="#ead5c9"/>
<rect x="600.1" y="375.43" width="1.7" height="3.65" fill="#ebd3c6"/>
<rect x="601.5" y="375.43" width="1.7" height="3.65" fill="#ecd3c5"/>
<rect x="603.0" y="375.43" width="3.1" height="3.65" fill="#edd2c3"/>
<rect x="605.8" y="375.43" width="1.7" height="3.65" fill="#edd1c2"/>
<rect x="607.2" y="375.43" width="3.1" height="3.65" fill="#eed0c0"/>
<rect x="610.1" y="375.43" width="10.2" height="3.65" fill="#f0cdbb"/>
<rect x="620.0" y="375.43" width="1.7" height="3.65" fill="#efcebd"/>
<rect x="621.4" y="375.43" width="1.7" height="3.65" fill="#ead5c9"/>
<rect x="622.8" y="375.43" width="3.1" height="3.65" fill="#e5d8d1"/>
<rect x="625.7" y="375.43" width="6.0" height="3.65" fill="#ead5c9"/>
<rect x="631.4" y="375.43" width="6.0" height="3.65" fill="#e6d7cf"/>
<rect x="637.0" y="375.43" width="4.6" height="3.65" fill="#e4d9d2"/>
<rect x="641.3" y="375.43" width="6.0" height="3.65" fill="#dedcdb"/>
<rect x="647.0" y="375.43" width="7.4" height="3.65" fill="#e4d9d2"/>
<rect x="654.1" y="375.43" width="1.7" height="3.65" fill="#e7d7ce"/>
<rect x="655.5" y="375.43" width="3.1" height="3.65" fill="#ead5c9"/>
<rect x="658.3" y="375.43" width="4.6" height="3.65" fill="#e8d6cc"/>
<rect x="662.6" y="375.43" width="1.7" height="3.65" fill="#e2dad5"/>
<rect x="664.0" y="375.43" width="4.6" height="3.65" fill="#dbdcde"/>
<rect x="668.3" y="375.43" width="6.0" height="3.65" fill="#e1dad6"/>
<rect x="674.0" y="375.43" width="3.1" height="3.65" fill="#e2dad5"/>
<rect x="563.2" y="378.78" width="4.6" height="3.65" fill="#d2dae7"/>
<rect x="567.5" y="378.78" width="6.0" height="3.65" fill="#d5dbe5"/>
<rect x="573.1" y="378.78" width="6.0" height="3.65" fill="#ced9e9"/>
<rect x="578.8" y="378.78" width="4.6" height="3.65" fill="#d7dce3"/>
<rect x="583.1" y="378.78" width="6.0" height="3.65" fill="#d6dbe4"/>
<rect x="588.8" y="378.78" width="3.1" height="3.65" fill="#d2dae7"/>
<rect x="591.6" y="378.78" width="1.7" height="3.65" fill="#ced9e9"/>
<rect x="593.0" y="378.78" width="1.7" height="3.65" fill="#cbd8eb"/>
<rect x="594.4" y="378.78" width="6.0" height="3.65" fill="#cdd8ea"/>
<rect x="600.1" y="378.78" width="6.0" height="3.65" fill="#ccd8ea"/>
<rect x="605.8" y="378.78" width="1.7" height="3.65" fill="#d1dae8"/>
<rect x="607.2" y="378.78" width="3.1" height="3.65" fill="#d6dbe4"/>
<rect x="610.1" y="378.78" width="6.0" height="3.65" fill="#dddcdc"/>
<rect x="615.7" y="378.78" width="6.0" height="3.65" fill="#dfdbd9"/>
<rect x="621.4" y="378.78" width="6.0" height="3.65" fill="#dbdcde"/>
<rect x="627.1" y="378.78" width="6.0" height="3.65" fill="#dcdddd"/>
<rect x="632.8" y="378.78" width="4.6" height="3.65" fill="#d9dce1"/>
<rect x="637.0" y="378.78" width="6.0" height="3.65" fill="#d7dce3"/>
<rect x="642.7" y="378.78" width="1.7" height="3.65" fill="#dadcdf"/>
<rect x="644.1" y="378.78" width="4.6" height="3.65" fill="#d5dbe5"/>
<rect x="648.4" y="378.78" width="6.0" height="3.65" fill="#ccd8ea"/>
<rect x="654.1" y="378.78" width="1.7" height="3.65" fill="#d4dbe5"/>
<rect x="655.5" y="378.78" width="4.6" height="3.65" fill="#dadcdf"/>
<rect x="659.8" y="378.78" width="4.6" height="3.65" fill="#d8dce2"/>
<rect x="664.0" y="378.78" width="6.0" height="3.65" fill="#dadcdf"/>
<rect x="669.7" y="378.78" width="6.0" height="3.65" fill="#d8dce2"/>
<rect x="675.4" y="378.78" width="1.7" height="3.65" fill="#dadcdf"/>
<rect x="563.2" y="382.13" width="6.0" height="3.65" fill="#e2dad5"/>
<rect x="568.9" y="382.13" width="6.0" height="3.65" fill="#dadcdf"/>
<rect x="574.6" y="382.13" width="4.6" height="3.65" fill="#dbdcde"/>
<rect x="578.8" y="382.13" width="6.0" height="3.65" fill="#e2dad5"/>
<rect x="584.5" y="382.13" width="6.0" height="3.65" fill="#dfdbd9"/>
<rect x="590.2" y="382.13" width="6.0" height="3.65" fill="#e1dad6"/>
<rect x="595.9" y="382.13" width="6.0" height="3.65" fill="#d6dbe4"/>
<rect x="601.5" y="382.13" width="4.6" height="3.65" fill="#dedcdb"/>
<rect x="605.8" y="382.13" width="1.7" height="3.65" fill="#e0dbd8"/>
<rect x="607.2" y="382.13" width="4.6" height="3.65" fill="#e7d7ce"/>
<rect x="611.5" y="382.13" width="6.0" height="3.65" fill="#e6d7cf"/>
<rect x="617.2" y="382.13" width="4.6" height="3.65" fill="#ecd3c5"/>
<rect x="621.4" y="382.13" width="1.7" height="3.65" fill="#e5d8d1"/>
<rect x="622.8" y="382.13" width="6.0" height="3.65" fill="#e3d9d3"/>
<rect x="628.5" y="382.13" width="1.7" height="3.65" fill="#d9dce1"/>
<rect x="629.9" y="382.13" width="1.7" height="3.65" fill="#e0dbd8"/>
<rect x="631.4" y="382.13" width="1.7" height="3.65" fill="#e6d7cf"/>
<rect x="632.8" y="382.13" width="6.0" height="3.65" fill="#e7d7ce"/>
<rect x="638.5" y="382.13" width="4.6" height="3.65" fill="#e9d5cb"/>
<rect x="642.7" y="382.13" width="1.7" height="3.65" fill="#e6d7cf"/>
<rect x="644.1" y="382.13" width="1.7" height="3.65" fill="#e1dad6"/>
<rect x="645.6" y="382.13" width="1.7" height="3.65" fill="#e5d8d1"/>
<rect x="647.0" y="382.13" width="3.1" height="3.65" fill="#ead4c8"/>
<rect x="649.8" y="382.13" width="6.0" height="3.65" fill="#e7d7ce"/>
<rect x="655.5" y="382.13" width="4.6" height="3.65" fill="#efcebd"/>
<rect x="659.8" y="382.13" width="6.0" height="3.65" fill="#ecd3c5"/>
<rect x="665.4" y="382.13" width="3.1" height="3.65" fill="#ead5c9"/>
<rect x="668.3" y="382.13" width="1.7" height="3.65" fill="#e4d9d2"/>
<rect x="669.7" y="382.13" width="7.4" height="3.65" fill="#dddcdc"/>
<rect x="563.2" y="385.48" width="1.7" height="3.65" fill="#dbdcde"/>
<rect x="564.6" y="385.48" width="1.7" height="3.65" fill="#dddcdc"/>
<rect x="566.0" y="385.48" width="1.7" height="3.65" fill="#e3d9d3"/>
<rect x="567.5" y="385.48" width="1.7" height="3.65" fill="#e6d7cf"/>
<rect x="568.9" y="385.48" width="1.7" height="3.65" fill="#e8d6cc"/>
<rect x="570.3" y="385.48" width="1.7" height="3.65" fill="#ead4c8"/>
<rect x="571.7" y="385.48" width="3.1" height="3.65" fill="#e3d9d3"/>
<rect x="574.6" y="385.48" width="1.7" height="3.65" fill="#e2dad5"/>
<rect x="576.0" y="385.48" width="1.7" height="3.65" fill="#d9dce1"/>
<rect x="577.4" y="385.48" width="6.0" height="3.65" fill="#d6dbe4"/>
<rect x="583.1" y="385.48" width="4.6" height="3.65" fill="#dddcdc"/>
<rect x="587.3" y="385.48" width="4.6" height="3.65" fill="#d6dbe4"/>
<rect x="591.6" y="385.48" width="1.7" height="3.65" fill="#d7dce3"/>
<rect x="593.0" y="385.48" width="1.7" height="3.65" fill="#dadcdf"/>
<rect x="594.4" y="385.48" width="1.7" height="3.65" fill="#dddcdc"/>
<rect x="595.9" y="385.48" width="1.7" height="3.65" fill="#e0dbd8"/>
<rect x="597.3" y="385.48" width="1.7" height="3.65" fill="#e2dad5"/>
<rect x="598.7" y="385.48" width="6.0" height="3.65" fill="#e0dbd8"/>
<rect x="604.4" y="385.48" width="6.0" height="3.65" fill="#e2dad5"/>
<rect x="610.1" y="385.48" width="4.6" height="3.65" fill="#e7d7ce"/>
<rect x="614.3" y="385.48" width="6.0" height="3.65" fill="#e2dad5"/>
<rect x="620.0" y="385.48" width="6.0" height="3.65" fill="#e0dbd8"/>
<rect x="625.7" y="385.48" width="1.7" height="3.65" fill="#dfdbd9"/>
<rect x="627.1" y="385.48" width="1.7" height="3.65" fill="#d9dce1"/>
<rect x="628.5" y="385.48" width="3.1" height="3.65" fill="#d6dbe4"/>
<rect x="631.4" y="385.48" width="6.0" height="3.65" fill="#dedcdb"/>
<rect x="637.0" y="385.48" width="4.6" height="3.65" fill="#d9dce1"/>
<rect x="641.3" y="385.48" width="6.0" height="3.65" fill="#d6dbe4"/>
<rect x="647.0" y="385.48" width="6.0" height="3.65" fill="#d9dce1"/>
<rect x="652.7" y="385.48" width="6.0" height="3.65" fill="#dadcdf"/>
<rect x="658.3" y="385.48" width="1.7" height="3.65" fill="#d9dce1"/>
<rect x="659.8" y="385.48" width="1.7" height="3.65" fill="#d6dbe4"/>
<rect x="661.2" y="385.48" width="1.7" height="3.65" fill="#d1dae8"/>
<rect x="662.6" y="385.48" width="1.7" height="3.65" fill="#cdd8ea"/>
<rect x="664.0" y="385.48" width="4.6" height="3.65" fill="#c5d5ec"/>
<rect x="668.3" y="385.48" width="3.1" height="3.65" fill="#ced9e9"/>
<rect x="671.1" y="385.48" width="1.7" height="3.65" fill="#d4dbe5"/>
<rect x="672.5" y="385.48" width="1.7" height="3.65" fill="#d9dce1"/>
<rect x="674.0" y="385.48" width="3.1" height="3.65" fill="#d7dce3"/>
<rect x="563.2" y="388.84" width="3.1" height="3.65" fill="#d4dbe5"/>
<rect x="566.0" y="388.84" width="4.6" height="3.65" fill="#ced9e9"/>
<rect x="570.3" y="388.84" width="6.0" height="3.65" fill="#c9d6eb"/>
<rect x="576.0" y="388.84" width="6.0" height="3.65" fill="#d5dbe5"/>
<rect x="581.7" y="388.84" width="6.0" height="3.65" fill="#ced9e9"/>
<rect x="587.3" y="388.84" width="4.6" height="3.65" fill="#d2dae7"/>
<rect x="591.6" y="388.84" width="1.7" height="3.65" fill="#d1dae8"/>
<rect x="593.0" y="388.84" width="4.6" height="3.65" fill="#ccd8ea"/>
<rect x="597.3" y="388.84" width="10.2" height="3.65" fill="#d2dae7"/>
<rect x="607.2" y="388.84" width="1.7" height="3.65" fill="#d6dbe4"/>
<rect x="608.6" y="388.84" width="1.7" height="3.65" fill="#d8dce2"/>
<rect x="610.1" y="388.84" width="1.7" height="3.65" fill="#d6dbe4"/>
<rect x="611.5" y="388.84" width="1.7" height="3.65" fill="#d3dbe6"/>
<rect x="612.9" y="388.84" width="1.7" height="3.65" fill="#d2dae7"/>
<rect x="614.3" y="388.84" width="6.0" height="3.65" fill="#d0d9e8"/>
<rect x="620.0" y="388.84" width="3.1" height="3.65" fill="#c6d5ec"/>
<rect x="622.8" y="388.84" width="1.7" height="3.65" fill="#d1dae8"/>
<rect x="624.3" y="388.84" width="1.7" height="3.65" fill="#e3d9d3"/>
<rect x="625.7" y="388.84" width="4.6" height="3.65" fill="#e5d8d1"/>
<rect x="629.9" y="388.84" width="6.0" height="3.65" fill="#ebd3c6"/>
<rect x="635.6" y="388.84" width="4.6" height="3.65" fill="#e8d6cc"/>
<rect x="639.9" y="388.84" width="1.7" height="3.65" fill="#e5d8d1"/>
<rect x="641.3" y="388.84" width="1.7" height="3.65" fill="#dfdbd9"/>
<rect x="642.7" y="388.84" width="4.6" height="3.65" fill="#dadcdf"/>
<rect x="647.0" y="388.84" width="4.6" height="3.65" fill="#d9dce1"/>
<rect x="651.2" y="388.84" width="6.0" height="3.65" fill="#d3dbe6"/>
<rect x="656.9" y="388.84" width="11.7" height="3.65" fill="#d4dbe5"/>
<rect x="668.3" y="388.84" width="6.0" height="3.65" fill="#d5dbe5"/>
<rect x="674.0" y="388.84" width="3.1" height="3.65" fill="#d7dce3"/>
<rect x="563.2" y="392.19" width="4.6" height="3.65" fill="#d5dbe5"/>
<rect x="567.5" y="392.19" width="4.6" height="3.65" fill="#d6dbe4"/>
<rect x="571.7" y="392.19" width="6.0" height="3.65" fill="#dedcdb"/>
<rect x="577.4" y="392.19" width="6.0" height="3.65" fill="#dbdcde"/>
<rect x="583.1" y="392.19" width="6.0" height="3.65" fill="#d9dce1"/>
<rect x="588.8" y="392.19" width="6.0" height="3.65" fill="#d1dae8"/>
<rect x="594.4" y="392.19" width="4.6" height="3.65" fill="#d4dbe5"/>
<rect x="598.7" y="392.19" width="6.0" height="3.65" fill="#d9dce1"/>
<rect x="604.4" y="392.19" width="4.6" height="3.65" fill="#d6dbe4"/>
<rect x="608.6" y="392.19" width="1.7" height="3.65" fill="#dfdbd9"/>
<rect x="610.1" y="392.19" width="6.0" height="3.65" fill="#efcebd"/>
<rect x="615.7" y="392.19" width="1.7" height="3.65" fill="#e2dad5"/>
<rect x="617.2" y="392.19" width="4.6" height="3.65" fill="#d8dce2"/>
<rect x="621.4" y="392.19" width="4.6" height="3.65" fill="#d9dce1"/>
<rect x="625.7" y="392.19" width="11.7" height="3.65" fill="#d4dbe5"/>
<rect x="637.0" y="392.19" width="11.7" height="3.65" fill="#d6dbe4"/>
<rect x="648.4" y="392.19" width="3.1" height="3.65" fill="#d7dce3"/>
<rect x="651.2" y="392.19" width="13.1" height="3.65" fill="#c9d6eb"/>
<rect x="664.0" y="392.19" width="1.7" height="3.65" fill="#ced9e9"/>
<rect x="665.4" y="392.19" width="4.6" height="3.65" fill="#dcdddd"/>
<rect x="669.7" y="392.19" width="6.0" height="3.65" fill="#d3dbe6"/>
<rect x="675.4" y="392.19" width="1.7" height="3.65" fill="#d9dce1"/>
<rect x="563.2" y="395.54" width="1.7" height="3.65" fill="#ced9e9"/>
<rect x="564.6" y="395.54" width="7.4" height="3.65" fill="#cbd8eb"/>
<rect x="571.7" y="395.54" width="4.6" height="3.65" fill="#d0d9e8"/>
<rect x="576.0" y="395.54" width="10.2" height="3.65" fill="#d4dbe5"/>
<rect x="585.9" y="395.54" width="11.7" height="3.65" fill="#d1dae8"/>
<rect x="597.3" y="395.54" width="6.0" height="3.65" fill="#d3dbe6"/>
<rect x="603.0" y="395.54" width="6.0" height="3.65" fill="#d5dbe5"/>
<rect x="608.6" y="395.54" width="4.6" height="3.65" fill="#ced9e9"/>
<rect x="612.9" y="395.54" width="6.0" height="3.65" fill="#d6dbe4"/>
<rect x="618.6" y="395.54" width="6.0" height="3.65" fill="#d2dae7"/>
<rect x="624.3" y="395.54" width="6.0" height="3.65" fill="#dadcdf"/>
<rect x="629.9" y="395.54" width="6.0" height="3.65" fill="#d8dce2"/>
<rect x="635.6" y="395.54" width="10.2" height="3.65" fill="#d1dae8"/>
<rect x="645.6" y="395.54" width="6.0" height="3.65" fill="#dadcdf"/>
<rect x="651.2" y="395.54" width="11.7" height="3.65" fill="#d5dbe5"/>
<rect x="662.6" y="395.54" width="4.6" height="3.65" fill="#d1dae8"/>
<rect x="666.9" y="395.54" width="6.0" height="3.65" fill="#d2dae7"/>
<rect x="672.5" y="395.54" width="4.6" height="3.65" fill="#d6dbe4"/>
<rect x="563.2" y="398.89" width="3.1" height="3.65" fill="#eed0c0"/>
<rect x="566.0" y="398.89" width="1.7" height="3.65" fill="#e3d9d3"/>
<rect x="567.5" y="398.89" width="4.6" height="3.65" fill="#d9dce1"/>
<rect x="571.7" y="398.89" width="6.0" height="3.65" fill="#d5dbe5"/>
<rect x="577.4" y="398.89" width="6.0" height="3.65" fill="#dcdddd"/>
<rect x="583.1" y="398.89" width="6.0" height="3.65" fill="#d7dce3"/>
<rect x="588.8" y="398.89" width="4.6" height="3.65" fill="#dbdcde"/>
<rect x="593.0" y="398.89" width="6.0" height="3.65" fill="#d6dbe4"/>
<rect x="598.7" y="398.89" width="6.0" height="3.65" fill="#d9dce1"/>
<rect x="604.4" y="398.89" width="4.6" height="3.65" fill="#d2dae7"/>
<rect x="608.6" y="398.89" width="1.7" height="3.65" fill="#ccd8ea"/>
<rect x="610.1" y="398.89" width="6.0" height="3.65" fill="#ced9e9"/>
<rect x="615.7" y="398.89" width="3.1" height="3.65" fill="#c6d5ec"/>
<rect x="618.6" y="398.89" width="1.7" height="3.65" fill="#ccd8ea"/>
<rect x="620.0" y="398.89" width="6.0" height="3.65" fill="#d9dce1"/>
<rect x="625.7" y="398.89" width="6.0" height="3.65" fill="#d1dae8"/>
<rect x="631.4" y="398.89" width="6.0" height="3.65" fill="#d8dce2"/>
<rect x="637.0" y="398.89" width="6.0" height="3.65" fill="#dbdcde"/>
<rect x="642.7" y="398.89" width="4.6" height="3.65" fill="#dadcdf"/>
<rect x="647.0" y="398.89" width="6.0" height="3.65" fill="#dcdddd"/>
<rect x="652.7" y="398.89" width="6.0" height="3.65" fill="#d4dbe5"/>
<rect x="658.3" y="398.89" width="8.8" height="3.65" fill="#dedcdb"/>
<rect x="666.9" y="398.89" width="1.7" height="3.65" fill="#ead4c8"/>
<rect x="668.3" y="398.89" width="1.7" height="3.65" fill="#f2cab5"/>
<rect x="669.7" y="398.89" width="4.6" height="3.65" fill="#ecd3c5"/>
<rect x="674.0" y="398.89" width="3.1" height="3.65" fill="#edd1c2"/>
<rect x="563.2" y="402.24" width="1.7" height="3.65" fill="#d2dae7"/>
<rect x="564.6" y="402.24" width="6.0" height="3.65" fill="#cad7eb"/>
<rect x="570.3" y="402.24" width="6.0" height="3.65" fill="#d4dbe5"/>
<rect x="576.0" y="402.24" width="6.0" height="3.65" fill="#d1dae8"/>
<rect x="581.7" y="402.24" width="6.0" height="3.65" fill="#ced9e9"/>
<rect x="587.3" y="402.24" width="4.6" height="3.65" fill="#d6dbe4"/>
<rect x="591.6" y="402.24" width="1.7" height="3.65" fill="#d1dae8"/>
<rect x="593.0" y="402.24" width="4.6" height="3.65" fill="#ced9e9"/>
<rect x="597.3" y="402.24" width="6.0" height="3.65" fill="#d4dbe5"/>
<rect x="603.0" y="402.24" width="6.0" height="3.65" fill="#d2dae7"/>
<rect x="608.6" y="402.24" width="3.1" height="3.65" fill="#ced9e9"/>
<rect x="611.5" y="402.24" width="1.7" height="3.65" fill="#d2dae7"/>
<rect x="612.9" y="402.24" width="1.7" height="3.65" fill="#d4dbe5"/>
<rect x="614.3" y="402.24" width="4.6" height="3.65" fill="#dadcdf"/>
<rect x="618.6" y="402.24" width="6.0" height="3.65" fill="#d8dce2"/>
<rect x="624.3" y="402.24" width="6.0" height="3.65" fill="#d4dbe5"/>
<rect x="629.9" y="402.24" width="6.0" height="3.65" fill="#d0d9e8"/>
<rect x="635.6" y="402.24" width="6.0" height="3.65" fill="#d3dbe6"/>
<rect x="641.3" y="402.24" width="4.6" height="3.65" fill="#d8dce2"/>
<rect x="645.6" y="402.24" width="6.0" height="3.65" fill="#d5dbe5"/>
<rect x="651.2" y="402.24" width="6.0" height="3.65" fill="#dcdddd"/>
<rect x="656.9" y="402.24" width="11.7" height="3.65" fill="#d6dbe4"/>
<rect x="668.3" y="402.24" width="4.6" height="3.65" fill="#d7dce3"/>
<rect x="672.5" y="402.24" width="4.6" height="3.65" fill="#d2dae7"/>
<rect x="563.2" y="405.60" width="6.0" height="3.65" fill="#d0d9e8"/>
<rect x="568.9" y="405.60" width="6.0" height="3.65" fill="#d9dce1"/>
<rect x="574.6" y="405.60" width="6.0" height="3.65" fill="#d5dbe5"/>
<rect x="580.2" y="405.60" width="6.0" height="3.65" fill="#d6dbe4"/>
<rect x="585.9" y="405.60" width="4.6" height="3.65" fill="#d1dae8"/>
<rect x="590.2" y="405.60" width="1.7" height="3.65" fill="#d5dbe5"/>
<rect x="591.6" y="405.60" width="1.7" height="3.65" fill="#d1dae8"/>
<rect x="593.0" y="405.60" width="3.1" height="3.65" fill="#cbd8eb"/>
<rect x="595.9" y="405.60" width="6.0" height="3.65" fill="#d1dae8"/>
<rect x="601.5" y="405.60" width="1.7" height="3.65" fill="#d2dae7"/>
<rect x="603.0" y="405.60" width="4.6" height="3.65" fill="#d6dbe4"/>
<rect x="607.2" y="405.60" width="6.0" height="3.65" fill="#d4dbe5"/>
<rect x="612.9" y="405.60" width="4.6" height="3.65" fill="#dbdcde"/>
<rect x="617.2" y="405.60" width="6.0" height="3.65" fill="#d5dbe5"/>
<rect x="622.8" y="405.60" width="6.0" height="3.65" fill="#d4dbe5"/>
<rect x="628.5" y="405.60" width="6.0" height="3.65" fill="#dadcdf"/>
<rect x="634.2" y="405.60" width="6.0" height="3.65" fill="#ced9e9"/>
<rect x="639.9" y="405.60" width="4.6" height="3.65" fill="#d7dce3"/>
<rect x="644.1" y="405.60" width="6.0" height="3.65" fill="#d1dae8"/>
<rect x="649.8" y="405.60" width="11.7" height="3.65" fill="#d3dbe6"/>
<rect x="661.2" y="405.60" width="10.2" height="3.65" fill="#d6dbe4"/>
<rect x="671.1" y="405.60" width="6.0" height="3.65" fill="#d7dce3"/>
<rect x="563.2" y="408.95" width="4.6" height="3.65" fill="#d8dce2"/>
<rect x="567.5" y="408.95" width="10.2" height="3.65" fill="#d4dbe5"/>
<rect x="577.4" y="408.95" width="6.0" height="3.65" fill="#d0d9e8"/>
<rect x="583.1" y="408.95" width="6.0" height="3.65" fill="#ccd8ea"/>
<rect x="588.8" y="408.95" width="6.0" height="3.65" fill="#d3dbe6"/>
<rect x="594.4" y="408.95" width="6.0" height="3.65" fill="#d1dae8"/>
<rect x="600.1" y="408.95" width="4.6" height="3.65" fill="#d4dbe5"/>
<rect x="604.4" y="408.95" width="4.6" height="3.65" fill="#cad7eb"/>
<rect x="608.6" y="408.95" width="1.7" height="3.65" fill="#c9d6eb"/>
<rect x="610.1" y="408.95" width="6.0" height="3.65" fill="#d8dce2"/>
<rect x="615.7" y="408.95" width="6.0" height="3.65" fill="#cbd8eb"/>
<rect x="621.4" y="408.95" width="6.0" height="3.65" fill="#d1dae8"/>
<rect x="627.1" y="408.95" width="4.6" height="3.65" fill="#d4dbe5"/>
<rect x="631.4" y="408.95" width="6.0" height="3.65" fill="#cbd8eb"/>
<rect x="637.0" y="408.95" width="6.0" height="3.65" fill="#ced9e9"/>
<rect x="642.7" y="408.95" width="6.0" height="3.65" fill="#c9d6eb"/>
<rect x="648.4" y="408.95" width="6.0" height="3.65" fill="#cad7eb"/>
<rect x="654.1" y="408.95" width="4.6" height="3.65" fill="#c9d6eb"/>
<rect x="658.3" y="408.95" width="6.0" height="3.65" fill="#d1dae8"/>
<rect x="664.0" y="408.95" width="3.1" height="3.65" fill="#d2dae7"/>
<rect x="666.9" y="408.95" width="3.1" height="3.65" fill="#d1dae8"/>
<rect x="669.7" y="408.95" width="6.0" height="3.65" fill="#ced9e9"/>
<rect x="675.4" y="408.95" width="1.7" height="3.65" fill="#d5dbe5"/>
<line x1="591.90" y1="328.50" x2="591.90" y2="412.30" stroke="#111" stroke-width="1.1"/>
<line x1="563.20" y1="328.50" x2="563.20" y2="412.80" stroke="#111" stroke-width="1.0"/>
<line x1="562.70" y1="412.30" x2="676.80" y2="412.30" stroke="#111" stroke-width="1.0"/>
<line x1="563.20" y1="328.50" x2="676.80" y2="328.50" stroke="#111" stroke-width="1.0"/>
<line x1="676.80" y1="328.50" x2="676.80" y2="412.30" stroke="#111" stroke-width="1.0"/>
<line x1="560.20" y1="330.18" x2="563.20" y2="330.18" stroke="#111" stroke-width="0.9"/>
<text x="558.80" y="334.08" font-size="11.5" text-anchor="end" font-weight="normal" font-style="normal" fill="#000">1</text>
<line x1="560.20" y1="350.29" x2="563.20" y2="350.29" stroke="#111" stroke-width="0.9"/>
<text x="558.80" y="354.19" font-size="11.5" text-anchor="end" font-weight="normal" font-style="normal" fill="#000">7</text>
<line x1="560.20" y1="370.40" x2="563.20" y2="370.40" stroke="#111" stroke-width="0.9"/>
<text x="558.80" y="374.30" font-size="11.5" text-anchor="end" font-weight="normal" font-style="normal" fill="#000">13</text>
<line x1="560.20" y1="390.51" x2="563.20" y2="390.51" stroke="#111" stroke-width="0.9"/>
<text x="558.80" y="394.41" font-size="11.5" text-anchor="end" font-weight="normal" font-style="normal" fill="#000">19</text>
<line x1="560.20" y1="410.62" x2="563.20" y2="410.62" stroke="#111" stroke-width="0.9"/>
<text x="558.80" y="414.52" font-size="11.5" text-anchor="end" font-weight="normal" font-style="normal" fill="#000">25</text>
<line x1="564.50" y1="412.30" x2="564.50" y2="414.90" stroke="#111" stroke-width="0.9"/>
<line x1="592.20" y1="412.30" x2="592.20" y2="414.90" stroke="#111" stroke-width="0.9"/>
<line x1="647.60" y1="412.30" x2="647.60" y2="414.90" stroke="#111" stroke-width="0.9"/>
<text x="564.50" y="425.80" font-size="11.5" text-anchor="middle" font-weight="normal" font-style="normal" fill="#000">10</text>
<text x="558.20" y="425.80" font-size="11.5" text-anchor="end" font-weight="normal" font-style="normal" fill="#000">−</text>
<text x="592.20" y="425.80" font-size="11.5" text-anchor="middle" font-weight="normal" font-style="normal" fill="#000">0</text>
<text x="647.60" y="425.80" font-size="11.5" text-anchor="middle" font-weight="normal" font-style="normal" fill="#000">20</text>
<text x="617.10" y="440.10" font-size="11.5" text-anchor="middle" font-weight="normal" font-style="normal" fill="#000">Time (s)</text>
<defs><linearGradient id="cb1" x1="0" x2="1" y1="0" y2="0"><stop offset="0.000" stop-color="#404c9b"/><stop offset="0.050" stop-color="#4e61ac"/><stop offset="0.100" stop-color="#5e77be"/><stop offset="0.150" stop-color="#6e8bcc"/><stop offset="0.200" stop-color="#7f9dd8"/><stop offset="0.250" stop-color="#90aee1"/><stop offset="0.300" stop-color="#a0bbe6"/><stop offset="0.350" stop-color="#b1c7eb"/><stop offset="0.400" stop-color="#c1d2ed"/><stop offset="0.450" stop-color="#d0d9e8"/><stop offset="0.500" stop-color="#dddcdc"/><stop offset="0.550" stop-color="#e9d5cb"/><stop offset="0.600" stop-color="#f2cbb7"/><stop offset="0.650" stop-color="#f6bda2"/><stop offset="0.700" stop-color="#f7ac8e"/><stop offset="0.750" stop-color="#f4987a"/><stop offset="0.800" stop-color="#ee8468"/><stop offset="0.850" stop-color="#e37056"/><stop offset="0.900" stop-color="#d65a47"/><stop offset="0.950" stop-color="#c53f38"/><stop offset="1.000" stop-color="#b4142c"/></linearGradient></defs>
<rect x="422.00" y="200.80" width="253.90" height="12.50" fill="url(#cb1)" stroke="#222" stroke-width="1"/>
<line x1="422.00" y1="213.30" x2="422.00" y2="215.50" stroke="#111" stroke-width="0.9"/>
<line x1="548.95" y1="213.30" x2="548.95" y2="215.50" stroke="#111" stroke-width="0.9"/>
<line x1="675.90" y1="213.30" x2="675.90" y2="215.50" stroke="#111" stroke-width="0.9"/>
<text x="422.90" y="227.00" font-size="11.5" text-anchor="middle" font-weight="normal" font-style="normal" fill="#000">1</text>
<text x="419.70" y="227.00" font-size="11.5" text-anchor="end" font-weight="normal" font-style="normal" fill="#000">−</text>
<text x="548.95" y="227.00" font-size="11.5" text-anchor="middle" font-weight="normal" font-style="normal" fill="#000">0</text>
<text x="675.90" y="227.00" font-size="11.5" text-anchor="middle" font-weight="normal" font-style="normal" fill="#000">1</text>
<text x="548.95" y="244.80" font-size="11.4" text-anchor="middle"><tspan font-style="italic">ΔF</tspan><tspan dx="0.5">/</tspan><tspan font-style="italic" dx="0.3">F</tspan></text>
<defs><linearGradient id="cb2" x1="0" x2="1" y1="0" y2="0"><stop offset="0.000" stop-color="#404c9b"/><stop offset="0.050" stop-color="#4e61ac"/><stop offset="0.100" stop-color="#5e77be"/><stop offset="0.150" stop-color="#6e8bcc"/><stop offset="0.200" stop-color="#7f9dd8"/><stop offset="0.250" stop-color="#90aee1"/><stop offset="0.300" stop-color="#a0bbe6"/><stop offset="0.350" stop-color="#b1c7eb"/><stop offset="0.400" stop-color="#c1d2ed"/><stop offset="0.450" stop-color="#d0d9e8"/><stop offset="0.500" stop-color="#dddcdc"/><stop offset="0.550" stop-color="#e9d5cb"/><stop offset="0.600" stop-color="#f2cbb7"/><stop offset="0.650" stop-color="#f6bda2"/><stop offset="0.700" stop-color="#f7ac8e"/><stop offset="0.750" stop-color="#f4987a"/><stop offset="0.800" stop-color="#ee8468"/><stop offset="0.850" stop-color="#e37056"/><stop offset="0.900" stop-color="#d65a47"/><stop offset="0.950" stop-color="#c53f38"/><stop offset="1.000" stop-color="#b4142c"/></linearGradient></defs>
<rect x="57.20" y="448.20" width="258.70" height="13.10" fill="url(#cb2)" stroke="#222" stroke-width="1"/>
<line x1="57.20" y1="461.30" x2="57.20" y2="463.50" stroke="#111" stroke-width="0.9"/>
<line x1="186.55" y1="461.30" x2="186.55" y2="463.50" stroke="#111" stroke-width="0.9"/>
<line x1="315.90" y1="461.30" x2="315.90" y2="463.50" stroke="#111" stroke-width="0.9"/>
<text x="58.10" y="475.00" font-size="11.5" text-anchor="middle" font-weight="normal" font-style="normal" fill="#000">1</text>
<text x="54.90" y="475.00" font-size="11.5" text-anchor="end" font-weight="normal" font-style="normal" fill="#000">−</text>
<text x="186.55" y="475.00" font-size="11.5" text-anchor="middle" font-weight="normal" font-style="normal" fill="#000">0</text>
<text x="315.90" y="475.00" font-size="11.5" text-anchor="middle" font-weight="normal" font-style="normal" fill="#000">1</text>
<text x="186.55" y="492.80" font-size="11.4" text-anchor="middle"><tspan font-style="italic">ΔF</tspan><tspan dx="0.5">/</tspan><tspan font-style="italic" dx="0.3">F</tspan><tspan font-size="8.5" dy="2.8">0</tspan></text>
<defs><linearGradient id="cb3" x1="0" x2="1" y1="0" y2="0"><stop offset="0.000" stop-color="#404c9b"/><stop offset="0.050" stop-color="#4e61ac"/><stop offset="0.100" stop-color="#5e77be"/><stop offset="0.150" stop-color="#6e8bcc"/><stop offset="0.200" stop-color="#7f9dd8"/><stop offset="0.250" stop-color="#90aee1"/><stop offset="0.300" stop-color="#a0bbe6"/><stop offset="0.350" stop-color="#b1c7eb"/><stop offset="0.400" stop-color="#c1d2ed"/><stop offset="0.450" stop-color="#d0d9e8"/><stop offset="0.500" stop-color="#dddcdc"/><stop offset="0.550" stop-color="#e9d5cb"/><stop offset="0.600" stop-color="#f2cbb7"/><stop offset="0.650" stop-color="#f6bda2"/><stop offset="0.700" stop-color="#f7ac8e"/><stop offset="0.750" stop-color="#f4987a"/><stop offset="0.800" stop-color="#ee8468"/><stop offset="0.850" stop-color="#e37056"/><stop offset="0.900" stop-color="#d65a47"/><stop offset="0.950" stop-color="#c53f38"/><stop offset="1.000" stop-color="#b4142c"/></linearGradient></defs>
<rect x="421.60" y="447.20" width="255.00" height="13.10" fill="url(#cb3)" stroke="#222" stroke-width="1"/>
<line x1="421.60" y1="460.30" x2="421.60" y2="462.50" stroke="#111" stroke-width="0.9"/>
<line x1="549.10" y1="460.30" x2="549.10" y2="462.50" stroke="#111" stroke-width="0.9"/>
<line x1="676.60" y1="460.30" x2="676.60" y2="462.50" stroke="#111" stroke-width="0.9"/>
<text x="422.50" y="474.00" font-size="11.5" text-anchor="middle" font-weight="normal" font-style="normal" fill="#000">1</text>
<text x="419.30" y="474.00" font-size="11.5" text-anchor="end" font-weight="normal" font-style="normal" fill="#000">−</text>
<text x="549.10" y="474.00" font-size="11.5" text-anchor="middle" font-weight="normal" font-style="normal" fill="#000">0</text>
<text x="676.60" y="474.00" font-size="11.5" text-anchor="middle" font-weight="normal" font-style="normal" fill="#000">1</text>
<text x="549.10" y="491.80" font-size="11.4" text-anchor="middle"><tspan font-style="italic">ΔF</tspan><tspan dx="0.5">/</tspan><tspan font-style="italic" dx="0.3">F</tspan><tspan font-size="8.5" dy="2.8">0</tspan></text>
</svg></body></html>
